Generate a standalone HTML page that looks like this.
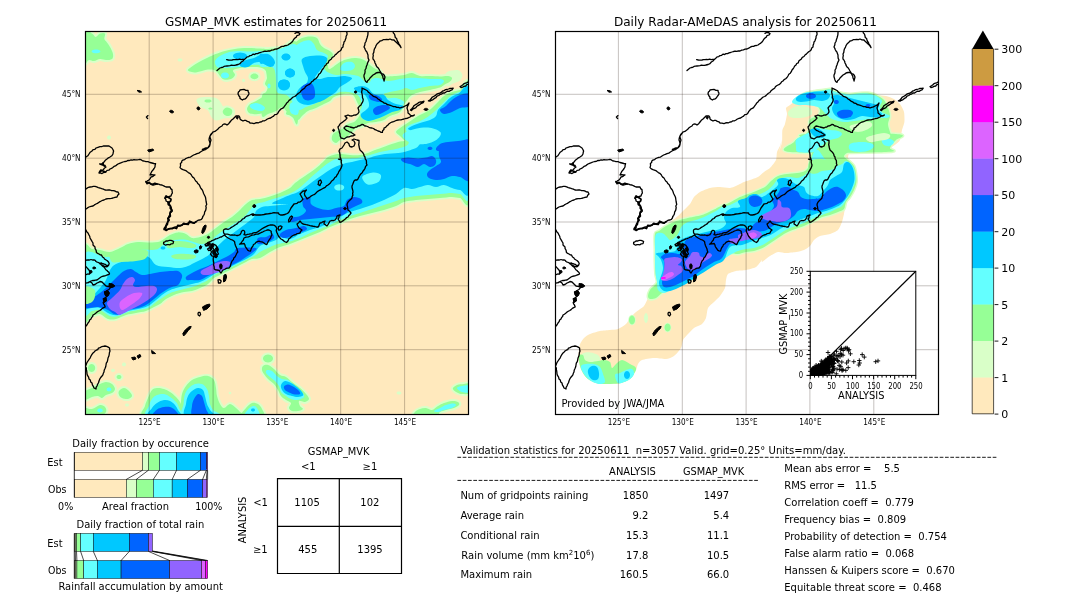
<!DOCTYPE html>
<html lang="en"><head><meta charset="utf-8"><title>GSMAP_MVK validation 20250611</title>
<style>html,body{margin:0;padding:0;background:#fff}svg{display:block}text{font-family:'DejaVu Sans','Liberation Sans',sans-serif;fill:#000;white-space:pre}</style>
</head><body>
<svg width="1080" height="612" viewBox="0 0 1080 612">
<rect width="1080" height="612" fill="#fff"/>
<svg x="85.5" y="31.5" width="383" height="383" viewBox="85.5 31.5 383 383">
<rect x="85" y="31" width="384" height="384" fill="#ffe9bd"/>
<path d="M84,31C85.3,26.2 90.1,32.6 92,33.6C93.9,34.6 94.3,37 95.6,37C96.9,37 98.4,34.2 100,33.6C101.6,33 104.3,32.7 105,33.6C105.7,34.5 104.1,37.5 104.4,39C104.7,40.5 106.1,41.1 107,42.4C107.9,43.7 109,45.1 110,47C111,48.9 112.7,52 113,54C113.3,56 113.2,58 112,59C110.8,60 108,60 106,60C104,60 102,58.8 100,59C98,59.2 95.8,60.8 94,61C92.2,61.2 90.7,59.8 89,60C87.3,60.2 84.8,67.2 84,62.4C83.2,57.6 82.7,35.8 84,31Z" fill="#d9ffc8" stroke="#d9ffc8" stroke-width="4" stroke-linejoin="round"/>
<path d="M188,70.4C187.3,69.4 190,67.9 192,66.4C194,64.9 197,63.1 200,61.4C203,59.7 206.7,57.9 210,56.4C213.3,54.9 216.3,53.5 220,52.4C223.7,51.3 228,50.3 232,49.6C236,48.9 239.3,48.2 244,48C248.7,47.8 255.3,48.3 260,48.6C264.7,48.9 268.3,50.1 272,50C275.7,49.9 277.7,48.7 282,48C286.3,47.3 295.3,34 298,46C300.7,58 299,108.3 298,120C297,131.7 294,117 292,116C290,115 286.7,115.3 286,114C285.3,112.7 288.7,109.8 288,108C287.3,106.2 283.8,103.5 282,103C280.2,102.5 278.7,104.2 277,105C275.3,105.8 273.8,106.8 272,108C270.2,109.2 268.3,111 266,112C263.7,113 260.7,113.7 258,114C255.3,114.3 251.8,114.4 250,113.6C248.2,112.8 247,110.6 247,109C247,107.4 248.5,105.3 250,104C251.5,102.7 254.2,102 256,101C257.8,100 259.2,99.2 261,98C262.8,96.8 265.8,95.7 267,94C268.2,92.3 268.3,89.7 268,88C267.7,86.3 265.2,85.7 265,84C264.8,82.3 266.8,80.2 267,78C267.2,75.8 267.2,72.7 266,71C264.8,69.3 262.7,68.3 260,67.6C257.3,66.9 253.3,66.9 250,67C246.7,67.1 242.8,67.4 240,68C237.2,68.6 233.8,69.2 233,70.4C232.2,71.6 235.3,73.6 235,75C234.7,76.4 232.8,78.2 231,79C229.2,79.8 225.8,80.1 224,79.6C222.2,79.1 221.3,77.4 220,76C218.7,74.6 218,72.1 216,71C214,69.9 211.3,69.4 208,69.6C204.7,69.8 199.3,72.3 196,72.4C192.7,72.5 188.7,71.4 188,70.4Z" fill="#d9ffc8" stroke="#d9ffc8" stroke-width="4" stroke-linejoin="round"/>
<path d="M258.4,76.4C258.4,76.9 258.2,77.4 257.9,77.8C257.5,78.2 257,78.6 256.4,78.8C255.8,79.1 255.1,79.2 254.4,79.2C253.7,79.2 253,79.1 252.4,78.8C251.8,78.6 251.3,78.2 250.9,77.8C250.6,77.4 250.4,76.9 250.4,76.4C250.4,75.9 250.6,75.4 250.9,75C251.3,74.6 251.8,74.2 252.4,74C253,73.7 253.7,73.6 254.4,73.6C255.1,73.6 255.8,73.7 256.4,74C257,74.2 257.5,74.6 257.9,75C258.2,75.4 258.4,75.9 258.4,76.4Z" fill="#d9ffc8" stroke="#d9ffc8" stroke-width="4" stroke-linejoin="round"/>
<path d="M223,110.4C223.6,109.3 225.5,107.7 227,107.6C228.5,107.5 231.3,108.9 232,110C232.7,111.1 232.2,113.4 231.4,114.4C230.6,115.4 228.3,116.1 227,116C225.7,115.9 224.3,114.9 223.6,114C222.9,113.1 222.4,111.5 223,110.4Z" fill="#d9ffc8" stroke="#d9ffc8" stroke-width="4" stroke-linejoin="round"/>
<path d="M268,49C270.7,48.7 274.3,48.3 278,48C281.7,47.7 287,48 290,47C293,46 294,43.5 296,42C298,40.5 299.7,38.9 302,38C304.3,37.1 307.5,36.4 310,36.4C312.5,36.4 315.3,36.7 317,38C318.7,39.3 318.8,42.3 320,44C321.2,45.7 322.3,46.8 324,48C325.7,49.2 328.5,49.8 330,51C331.5,52.2 333.2,53.5 333,55C332.8,56.5 329.8,58.2 329,60C328.2,61.8 327.8,64.5 328,66C328.2,67.5 328,69.7 330,69C332,68.3 337,63.7 340,62C343,60.3 345.3,59.7 348,59C350.7,58.3 353.3,57.8 356,58C358.7,58.2 361.7,58.8 364,60C366.3,61.2 368.3,63.7 370,65C371.7,66.3 372.3,67 374,68C375.7,69 378.3,69.7 380,71C381.7,72.3 381.3,75.2 384,76C386.7,76.8 392.7,76.2 396,76C399.3,75.8 401.3,75.5 404,75C406.7,74.5 409.3,72.8 412,73C414.7,73.2 417,75.5 420,76C423,76.5 426.7,75.9 430,76C433.3,76.1 437,76.4 440,76.4C443,76.4 446,75.7 448,76C450,76.3 451.7,77.1 452,78C452.3,78.9 451.3,80.4 450,81.6C448.7,82.8 445.7,84 444,85C442.3,86 442.3,86.8 440,87.6C437.7,88.4 433.3,89.3 430,90C426.7,90.7 423,91.2 420,92C417,92.8 414,93.8 412,95C410,96.2 409.3,97.3 408,99C406.7,100.7 405.3,102.8 404,105C402.7,107.2 402.3,110.2 400,112C397.7,113.8 392.7,114.7 390,116C387.3,117.3 386.3,119 384,120C381.7,121 378.7,121.5 376,122C373.3,122.5 370.3,122.3 368,123C365.7,123.7 364,125.2 362,126C360,126.8 357.7,127 356,128C354.3,129 353.3,130.7 352,132C350.7,133.3 350,134.7 348,136C346,137.3 342,138.8 340,140C338,141.2 337.3,143 336,143C334.7,143 332.5,141.5 332,140C331.5,138.5 331.7,135.7 333,134C334.3,132.3 338.2,131 340,130C341.8,129 342.7,129 344,128C345.3,127 346.3,125 348,124C349.7,123 352.3,123 354,122C355.7,121 357,119.3 358,118C359,116.7 359.7,115.7 360,114C360.3,112.3 360.3,109.7 360,108C359.7,106.3 359,106 358,104C357,102 355.3,97.7 354,96C352.7,94.3 351.7,94.3 350,94C348.3,93.7 346.7,93.5 344,94C341.3,94.5 336.3,95.8 334,97C331.7,98.2 332,99.7 330,101C328,102.3 324.3,103.8 322,105C319.7,106.2 318.3,107 316,108C313.7,109 310.3,109.7 308,111C305.7,112.3 303.7,114.5 302,116C300.3,117.5 299.7,119.8 298,120C296.3,120.2 293.8,118.3 292,117C290.2,115.7 288.7,113.7 287,112C285.3,110.3 283.8,107.2 282,107C280.2,106.8 278.3,109.8 276,111C273.7,112.2 270.3,113.2 268,114C265.7,114.8 263,119 262,116C261,113 261.3,100 262,96C262.7,92 265,93.7 266,92C267,90.3 267.8,88.3 268,86C268.2,83.7 267.3,80.5 267,78C266.7,75.5 266.5,72.8 266,71C265.5,69.2 264.7,68.2 264,67C263.3,65.8 262.3,66.8 262,64C261.7,61.2 261,52.5 262,50C263,47.5 265.3,49.3 268,49Z" fill="#d9ffc8" stroke="#d9ffc8" stroke-width="4" stroke-linejoin="round"/>
<path d="M84,249.6C85.3,238.1 89.3,248.9 92,249C94.7,249.1 97,249.5 100,250C103,250.5 106.7,252.3 110,252C113.3,251.7 117,249.3 120,248C123,246.7 125,245 128,244C131,243 134.7,242.3 138,242C141.3,241.7 144.7,242.4 148,242.4C151.3,242.4 155.3,242.6 158,242C160.7,241.4 162,240.2 164,239C166,237.8 167.7,236.1 170,235C172.3,233.9 175.3,232.6 178,232.4C180.7,232.2 183.7,233.1 186,234C188.3,234.9 189.7,237.5 192,238C194.3,238.5 197.3,237.7 200,237C202.7,236.3 205.3,235.5 208,234C210.7,232.5 213.3,230 216,228C218.7,226 221.3,223.8 224,222C226.7,220.2 229.3,219 232,217C234.7,215 237.7,212.2 240,210C242.3,207.8 244,205.7 246,204C248,202.3 249.7,200.8 252,200C254.3,199.2 257,199.6 260,199C263,198.4 266.7,197.4 270,196.4C273.3,195.4 276.7,194.4 280,193C283.3,191.6 287.5,189.7 290,188C292.5,186.3 292.5,185 295,183C297.5,181 301.7,178.3 305,176C308.3,173.7 312,171.3 315,169C318,166.7 320.8,164 323,162C325.2,160 326,158.3 328,157C330,155.7 332.7,154.9 335,154.4C337.3,153.9 339.5,153.9 342,154C344.5,154.1 347,154.8 350,155C353,155.2 357,155.3 360,155C363,154.7 365.5,153.8 368,153C370.5,152.2 372.2,151.1 375,150C377.8,148.9 381.2,147.7 385,146.4C388.8,145.1 394.8,142.9 398,142C401.2,141.1 403,141.3 404,141C405,140.7 404.7,140.8 404,140C403.3,139.2 401.3,137.3 400,136C398.7,134.7 396,133.3 396,132C396,130.7 398.3,129.3 400,128C401.7,126.7 404,125.3 406,124C408,122.7 410,121.3 412,120C414,118.7 415.7,117.3 418,116C420.3,114.7 423.7,113.3 426,112C428.3,110.7 430,109.7 432,108C434,106.3 436,104 438,102C440,100 441.7,97.7 444,96C446.3,94.3 449.3,93 452,92C454.7,91 457,90.7 460,90C463,89.3 468.3,70.2 470,88C471.7,105.8 471.7,178.7 470,197C468.3,215.3 463,198 460,198C457,198 455.3,197 452,197C448.7,197 444,197.7 440,198C436,198.3 432,198.7 428,199C424,199.3 420,199.5 416,200C412,200.5 407.3,201 404,202C400.7,203 399.3,204.7 396,206C392.7,207.3 388,208.8 384,210C380,211.2 376,212 372,213C368,214 363.7,215 360,216C356.3,217 353.3,217.8 350,219C346.7,220.2 343.3,221.7 340,223C336.7,224.3 333.3,225.5 330,227C326.7,228.5 323.3,230.5 320,232C316.7,233.5 313.3,234.7 310,236C306.7,237.3 303.3,238.7 300,240C296.7,241.3 293.3,242.8 290,244C286.7,245.2 283.3,245.7 280,247C276.7,248.3 273.3,250.2 270,252C266.7,253.8 263,256.8 260,258C257,259.2 254.7,258.2 252,259C249.3,259.8 246.7,261.7 244,263C241.3,264.3 238.7,265.7 236,267C233.3,268.3 230.7,269.7 228,271C225.3,272.3 222.3,273.8 220,275C217.7,276.2 216,276.5 214,278C212,279.5 210.3,282.3 208,284C205.7,285.7 202.7,286.8 200,288C197.3,289.2 194.7,290.3 192,291C189.3,291.7 187,291.3 184,292C181,292.7 177,293.8 174,295C171,296.2 168.3,297.5 166,299C163.7,300.5 162,302.7 160,304C158,305.3 156.3,305.8 154,307C151.7,308.2 149,310 146,311C143,312 139.3,312.3 136,313C132.7,313.7 129.3,314 126,315C122.7,316 119,318.3 116,319C113,319.7 110.7,319.8 108,319C105.3,318.2 102.7,314.5 100,314C97.3,313.5 94.7,315.3 92,316C89.3,316.7 85.3,329.1 84,318C82.7,306.9 82.7,261.1 84,249.6Z" fill="#d9ffc8" stroke="#d9ffc8" stroke-width="3.5" stroke-linejoin="round"/>
<path d="M95.2,368C95.2,368.7 95,369.4 94.7,370C94.4,370.6 94,371.1 93.4,371.5C92.8,371.8 92.3,372 91.6,372C90.9,372 90.4,371.8 89.8,371.5C89.2,371.1 88.8,370.6 88.5,370C88.2,369.4 88,368.7 88,368C88,367.3 88.2,366.6 88.5,366C88.8,365.4 89.2,364.9 89.8,364.5C90.4,364.2 90.9,364 91.6,364C92.3,364 92.8,364.2 93.4,364.5C94,364.9 94.4,365.4 94.7,366C95,366.6 95.2,367.3 95.2,368Z" fill="#d9ffc8" stroke="#d9ffc8" stroke-width="4" stroke-linejoin="round"/>
<path d="M121.4,377C121.4,377.4 121.3,377.7 121.1,378C120.9,378.3 120.6,378.5 120.2,378.7C119.8,378.9 119.4,379 119,379C118.6,379 118.2,378.9 117.8,378.7C117.4,378.5 117.1,378.3 116.9,378C116.7,377.7 116.6,377.4 116.6,377C116.6,376.6 116.7,376.3 116.9,376C117.1,375.7 117.4,375.5 117.8,375.3C118.2,375.1 118.6,375 119,375C119.4,375 119.8,375.1 120.2,375.3C120.6,375.5 120.9,375.7 121.1,376C121.3,376.3 121.4,376.6 121.4,377Z" fill="#d9ffc8" stroke="#d9ffc8" stroke-width="4" stroke-linejoin="round"/>
<path d="M84,392C85.3,390 89.3,389.3 92,388C94.7,386.7 97.7,385 100,384C102.3,383 104,382 106,382C108,382 110.5,382.8 112,384C113.5,385.2 115,387.5 115,389C115,390.5 113.5,392 112,393C110.5,394 107.7,394.2 106,395C104.3,395.8 103.3,397.8 102,398C100.7,398.2 99.7,396.2 98,396C96.3,395.8 94.3,396.3 92,397C89.7,397.7 85.3,400.8 84,400C82.7,399.2 82.7,394 84,392Z" fill="#d9ffc8" stroke="#d9ffc8" stroke-width="4" stroke-linejoin="round"/>
<path d="M119,391C119.8,389.8 122.3,388 124,388C125.7,388 127.7,389.7 129,391C130.3,392.3 132.2,394.7 132,396C131.8,397.3 129.7,398.7 128,399C126.3,399.3 123.5,398.7 122,398C120.5,397.3 119.5,396.2 119,395C118.5,393.8 118.2,392.2 119,391Z" fill="#d9ffc8" stroke="#d9ffc8" stroke-width="4" stroke-linejoin="round"/>
<path d="M84,408C85.3,406.8 89.3,409.5 92,409C94.7,408.5 97.8,405.3 100,405C102.2,404.7 104,405.8 105,407C106,408.2 106.8,410.5 106,412C105.2,413.5 103.7,415.3 100,416C96.3,416.7 86.7,417.3 84,416C81.3,414.7 82.7,409.2 84,408Z" fill="#d9ffc8" stroke="#d9ffc8" stroke-width="4" stroke-linejoin="round"/>
<path d="M144,416C137.7,414.3 144.3,409 145,406C145.7,403 146.8,400.7 148,398C149.2,395.3 150.5,391.7 152,390C153.5,388.3 155,388.2 157,388C159,387.8 161.8,388.3 164,389C166.2,389.7 168,390.7 170,392C172,393.3 174.3,395.3 176,397C177.7,398.7 179,400.2 180,402C181,403.8 181.5,405.7 182,408C182.5,410.3 189.3,414.7 183,416C176.7,417.3 150.3,417.7 144,416Z" fill="#d9ffc8" stroke="#d9ffc8" stroke-width="4" stroke-linejoin="round"/>
<path d="M182,416C171.8,414 181,407.7 181,404C181,400.3 181.2,397 182,394C182.8,391 184.3,388.3 186,386C187.7,383.7 189.7,381.5 192,380C194.3,378.5 197.3,377.7 200,377C202.7,376.3 205.7,375.5 208,376C210.3,376.5 212.7,378 214,380C215.3,382 215.5,385.3 216,388C216.5,390.7 216.3,393.3 217,396C217.7,398.7 218.8,402 220,404C221.2,406 222.3,408 224,408C225.7,408 228,404 230,404C232,404 234.3,406.7 236,408C237.7,409.3 239,410.7 240,412C241,413.3 251.7,415.3 242,416C232.3,416.7 192.2,418 182,416Z" fill="#d9ffc8" stroke="#d9ffc8" stroke-width="4" stroke-linejoin="round"/>
<path d="M242,416C239.2,414.7 244.3,410.2 246,408C247.7,405.8 250,403.7 252,403C254,402.3 256.3,403 258,404C259.7,405 261.2,407 262,409C262.8,411 266.3,414.8 263,416C259.7,417.2 244.8,417.3 242,416Z" fill="#d9ffc8" stroke="#d9ffc8" stroke-width="4" stroke-linejoin="round"/>
<path d="M273,358.6C273,359.3 272.8,360 272.3,360.6C271.9,361.2 271.3,361.7 270.5,362.1C269.7,362.4 268.9,362.6 268,362.6C267.1,362.6 266.3,362.4 265.5,362.1C264.7,361.7 264.1,361.2 263.7,360.6C263.2,360 263,359.3 263,358.6C263,357.9 263.2,357.2 263.7,356.6C264.1,356 264.7,355.5 265.5,355.1C266.3,354.8 267.1,354.6 268,354.6C268.9,354.6 269.7,354.8 270.5,355.1C271.3,355.5 271.9,356 272.3,356.6C272.8,357.2 273,357.9 273,358.6Z" fill="#d9ffc8" stroke="#d9ffc8" stroke-width="4" stroke-linejoin="round"/>
<path d="M263,366C264,365.2 266.2,364.5 268,365C269.8,365.5 272,367.3 274,369C276,370.7 278,373.7 280,375C282,376.3 284,375.8 286,377C288,378.2 289.7,380.2 292,382C294.3,383.8 297.7,386 300,388C302.3,390 304.5,392.2 306,394C307.5,395.8 309.2,397.7 309,399C308.8,400.3 306.7,401.7 305,402C303.3,402.3 299.8,400.3 299,401C298.2,401.7 299.3,404.7 300,406C300.7,407.3 303.3,408.2 303,409C302.7,409.8 299.8,410.7 298,411C296.2,411.3 293.5,411.5 292,411C290.5,410.5 289.2,409.3 289,408C288.8,406.7 291.5,404.3 291,403C290.5,401.7 287.7,401.2 286,400C284.3,398.8 282.3,397.7 281,396C279.7,394.3 279.2,392 278,390C276.8,388 275.7,385.8 274,384C272.3,382.2 269.7,380.7 268,379C266.3,377.3 265,375.5 264,374C263,372.5 262.2,371.3 262,370C261.8,368.7 262,366.8 263,366Z" fill="#d9ffc8" stroke="#d9ffc8" stroke-width="4" stroke-linejoin="round"/>
<path d="M453,388C453.5,387.1 455.2,385.7 457,385C458.8,384.3 461.8,384.2 464,384C466.2,383.8 469,382.5 470,384C471,385.5 471.3,391.3 470,393C468.7,394.7 464.2,394.1 462,394C459.8,393.9 458.3,393 457,392.4C455.7,391.8 454.7,391.1 454,390.4C453.3,389.7 452.5,388.9 453,388Z" fill="#d9ffc8" stroke="#d9ffc8" stroke-width="4" stroke-linejoin="round"/>
<path d="M415,412C415.8,410.8 418.2,409.7 420,409C421.8,408.3 424,407.8 426,408C428,408.2 430,410.3 432,410C434,409.7 436,407.2 438,406C440,404.8 441.7,403.8 444,403C446.3,402.2 449.7,401.2 452,401C454.3,400.8 456.8,401.3 458,402C459.2,402.7 459.7,404 459,405C458.3,406 456.2,407.2 454,408C451.8,408.8 448.3,409.3 446,410C443.7,410.7 441.7,411 440,412C438.3,413 440.2,415.3 436,416C431.8,416.7 418.5,416.7 415,416C411.5,415.3 414.2,413.2 415,412Z" fill="#d9ffc8" stroke="#d9ffc8" stroke-width="4" stroke-linejoin="round"/>
<path d="M182.4,60C182.4,60.3 182.3,60.5 182.1,60.8C181.9,61.1 181.6,61.2 181.2,61.4C180.8,61.5 180.4,61.6 180,61.6C179.6,61.6 179.2,61.5 178.8,61.4C178.4,61.2 178.1,61.1 177.9,60.8C177.7,60.5 177.6,60.3 177.6,60C177.6,59.7 177.7,59.5 177.9,59.2C178.1,58.9 178.4,58.8 178.8,58.6C179.2,58.5 179.6,58.4 180,58.4C180.4,58.4 180.8,58.5 181.2,58.6C181.6,58.8 181.9,58.9 182.1,59.2C182.3,59.5 182.4,59.7 182.4,60Z" fill="#d9ffc8"/>
<path d="M111,137.6C111,138 110.9,138.3 110.7,138.6C110.5,138.9 110.3,139.1 110,139.3C109.7,139.5 109.4,139.6 109,139.6C108.6,139.6 108.3,139.5 108,139.3C107.7,139.1 107.5,138.9 107.3,138.6C107.1,138.3 107,138 107,137.6C107,137.2 107.1,136.9 107.3,136.6C107.5,136.3 107.7,136.1 108,135.9C108.3,135.7 108.6,135.6 109,135.6C109.4,135.6 109.7,135.7 110,135.9C110.3,136.1 110.5,136.3 110.7,136.6C110.9,136.9 111,137.2 111,137.6Z" fill="#d9ffc8"/>
<path d="M245.2,80.4C245.2,80.7 245.1,80.9 245,81.2C244.8,81.5 244.7,81.6 244.4,81.8C244.1,81.9 243.9,82 243.6,82C243.3,82 243.1,81.9 242.8,81.8C242.5,81.6 242.4,81.5 242.2,81.2C242.1,80.9 242,80.7 242,80.4C242,80.1 242.1,79.9 242.2,79.6C242.4,79.3 242.5,79.2 242.8,79C243.1,78.9 243.3,78.8 243.6,78.8C243.9,78.8 244.1,78.9 244.4,79C244.7,79.2 244.8,79.3 245,79.6C245.1,79.9 245.2,80.1 245.2,80.4Z" fill="#d9ffc8"/>
<path d="M196.6,99.6C197.3,98 200.8,97.3 204,97C207.2,96.7 213.2,97 216,98C218.8,99 219.7,101.5 221,103C222.3,104.5 222,106.2 224,107C226,107.8 231.2,107 233,108C234.8,109 235.2,111.4 235,113C234.8,114.6 233.8,116.7 232,117.6C230.2,118.5 226.7,117.9 224,118.4C221.3,118.9 218.2,120.7 216,120.4C213.8,120.1 212.3,118.1 211,116.4C209.7,114.7 209.8,112.1 208,110.4C206.2,108.7 201.9,108.2 200,106.4C198.1,104.6 195.9,101.2 196.6,99.6Z" fill="#d9ffc8"/>
<path d="M446,73C447.3,71.1 449.8,70.8 452,70.4C454.2,70 457.3,69.6 459,70.4C460.7,71.2 462.2,73.3 462.4,75C462.6,76.7 461.6,79 460,80.4C458.4,81.8 455,82.6 453,83.6C451,84.6 449.5,86.7 448,86.4C446.5,86.1 444.3,84.2 444,82C443.7,79.8 444.7,74.9 446,73Z" fill="#d9ffc8"/>
<path d="M126,364.4C126,364.8 125.9,365.1 125.7,365.4C125.5,365.7 125.3,365.9 125,366.1C124.7,366.3 124.4,366.4 124,366.4C123.6,366.4 123.3,366.3 123,366.1C122.7,365.9 122.5,365.7 122.3,365.4C122.1,365.1 122,364.8 122,364.4C122,364 122.1,363.7 122.3,363.4C122.5,363.1 122.7,362.9 123,362.7C123.3,362.5 123.6,362.4 124,362.4C124.4,362.4 124.7,362.5 125,362.7C125.3,362.9 125.5,363.1 125.7,363.4C125.9,363.7 126,364 126,364.4Z" fill="#d9ffc8"/>
<path d="M115,370.4C115,370.7 114.9,370.9 114.7,371.2C114.5,371.5 114.3,371.6 114,371.8C113.7,371.9 113.4,372 113,372C112.6,372 112.3,371.9 112,371.8C111.7,371.6 111.5,371.5 111.3,371.2C111.1,370.9 111,370.7 111,370.4C111,370.1 111.1,369.9 111.3,369.6C111.5,369.3 111.7,369.2 112,369C112.3,368.9 112.6,368.8 113,368.8C113.4,368.8 113.7,368.9 114,369C114.3,369.2 114.5,369.3 114.7,369.6C114.9,369.9 115,370.1 115,370.4Z" fill="#d9ffc8"/>
<path d="M129,405C129,405.3 128.9,405.5 128.7,405.8C128.5,406.1 128.3,406.2 128,406.4C127.7,406.5 127.4,406.6 127,406.6C126.6,406.6 126.3,406.5 126,406.4C125.7,406.2 125.5,406.1 125.3,405.8C125.1,405.5 125,405.3 125,405C125,404.7 125.1,404.5 125.3,404.2C125.5,403.9 125.7,403.8 126,403.6C126.3,403.5 126.6,403.4 127,403.4C127.4,403.4 127.7,403.5 128,403.6C128.3,403.8 128.5,403.9 128.7,404.2C128.9,404.5 129,404.7 129,405Z" fill="#d9ffc8"/>
<path d="M231.4,393C231.4,393.2 231.3,393.4 231.2,393.6C231.1,393.8 230.9,393.9 230.7,394C230.5,394.1 230.3,394.2 230,394.2C229.7,394.2 229.5,394.1 229.3,394C229.1,393.9 228.9,393.8 228.8,393.6C228.7,393.4 228.6,393.2 228.6,393C228.6,392.8 228.7,392.6 228.8,392.4C228.9,392.2 229.1,392.1 229.3,392C229.5,391.9 229.7,391.8 230,391.8C230.3,391.8 230.5,391.9 230.7,392C230.9,392.1 231.1,392.2 231.2,392.4C231.3,392.6 231.4,392.8 231.4,393Z" fill="#d9ffc8"/>
<path d="M401.4,393C401.4,393.3 401.3,393.5 401.1,393.8C400.9,394.1 400.6,394.2 400.2,394.4C399.8,394.5 399.4,394.6 399,394.6C398.6,394.6 398.2,394.5 397.8,394.4C397.4,394.2 397.1,394.1 396.9,393.8C396.7,393.5 396.6,393.3 396.6,393C396.6,392.7 396.7,392.5 396.9,392.2C397.1,391.9 397.4,391.8 397.8,391.6C398.2,391.5 398.6,391.4 399,391.4C399.4,391.4 399.8,391.5 400.2,391.6C400.6,391.8 400.9,391.9 401.1,392.2C401.3,392.5 401.4,392.7 401.4,393Z" fill="#d9ffc8"/>
<path d="M84,31C85.3,26.2 90.1,32.6 92,33.6C93.9,34.6 94.3,37 95.6,37C96.9,37 98.4,34.2 100,33.6C101.6,33 104.3,32.7 105,33.6C105.7,34.5 104.1,37.5 104.4,39C104.7,40.5 106.1,41.1 107,42.4C107.9,43.7 109,45.1 110,47C111,48.9 112.7,52 113,54C113.3,56 113.2,58 112,59C110.8,60 108,60 106,60C104,60 102,58.8 100,59C98,59.2 95.8,60.8 94,61C92.2,61.2 90.7,59.8 89,60C87.3,60.2 84.8,67.2 84,62.4C83.2,57.6 82.7,35.8 84,31Z" fill="#96ff96"/>
<path d="M188,70.4C187.3,69.4 190,67.9 192,66.4C194,64.9 197,63.1 200,61.4C203,59.7 206.7,57.9 210,56.4C213.3,54.9 216.3,53.5 220,52.4C223.7,51.3 228,50.3 232,49.6C236,48.9 239.3,48.2 244,48C248.7,47.8 255.3,48.3 260,48.6C264.7,48.9 268.3,50.1 272,50C275.7,49.9 277.7,48.7 282,48C286.3,47.3 295.3,34 298,46C300.7,58 299,108.3 298,120C297,131.7 294,117 292,116C290,115 286.7,115.3 286,114C285.3,112.7 288.7,109.8 288,108C287.3,106.2 283.8,103.5 282,103C280.2,102.5 278.7,104.2 277,105C275.3,105.8 273.8,106.8 272,108C270.2,109.2 268.3,111 266,112C263.7,113 260.7,113.7 258,114C255.3,114.3 251.8,114.4 250,113.6C248.2,112.8 247,110.6 247,109C247,107.4 248.5,105.3 250,104C251.5,102.7 254.2,102 256,101C257.8,100 259.2,99.2 261,98C262.8,96.8 265.8,95.7 267,94C268.2,92.3 268.3,89.7 268,88C267.7,86.3 265.2,85.7 265,84C264.8,82.3 266.8,80.2 267,78C267.2,75.8 267.2,72.7 266,71C264.8,69.3 262.7,68.3 260,67.6C257.3,66.9 253.3,66.9 250,67C246.7,67.1 242.8,67.4 240,68C237.2,68.6 233.8,69.2 233,70.4C232.2,71.6 235.3,73.6 235,75C234.7,76.4 232.8,78.2 231,79C229.2,79.8 225.8,80.1 224,79.6C222.2,79.1 221.3,77.4 220,76C218.7,74.6 218,72.1 216,71C214,69.9 211.3,69.4 208,69.6C204.7,69.8 199.3,72.3 196,72.4C192.7,72.5 188.7,71.4 188,70.4Z" fill="#96ff96"/>
<path d="M258.4,76.4C258.4,76.9 258.2,77.4 257.9,77.8C257.5,78.2 257,78.6 256.4,78.8C255.8,79.1 255.1,79.2 254.4,79.2C253.7,79.2 253,79.1 252.4,78.8C251.8,78.6 251.3,78.2 250.9,77.8C250.6,77.4 250.4,76.9 250.4,76.4C250.4,75.9 250.6,75.4 250.9,75C251.3,74.6 251.8,74.2 252.4,74C253,73.7 253.7,73.6 254.4,73.6C255.1,73.6 255.8,73.7 256.4,74C257,74.2 257.5,74.6 257.9,75C258.2,75.4 258.4,75.9 258.4,76.4Z" fill="#96ff96"/>
<path d="M223,110.4C223.6,109.3 225.5,107.7 227,107.6C228.5,107.5 231.3,108.9 232,110C232.7,111.1 232.2,113.4 231.4,114.4C230.6,115.4 228.3,116.1 227,116C225.7,115.9 224.3,114.9 223.6,114C222.9,113.1 222.4,111.5 223,110.4Z" fill="#96ff96"/>
<path d="M211.6,101C211.6,101.3 211.4,101.5 211.1,101.8C210.8,102.1 210.4,102.2 209.8,102.4C209.2,102.5 208.7,102.6 208,102.6C207.3,102.6 206.8,102.5 206.2,102.4C205.6,102.2 205.2,102.1 204.9,101.8C204.6,101.5 204.4,101.3 204.4,101C204.4,100.7 204.6,100.5 204.9,100.2C205.2,99.9 205.6,99.8 206.2,99.6C206.8,99.5 207.3,99.4 208,99.4C208.7,99.4 209.2,99.5 209.8,99.6C210.4,99.8 210.8,99.9 211.1,100.2C211.4,100.5 211.6,100.7 211.6,101Z" fill="#96ff96"/>
<path d="M212.4,108.6C212.4,108.8 212.3,108.9 212.1,109.1C211.9,109.3 211.7,109.4 211.4,109.5C211.1,109.6 210.8,109.6 210.4,109.6C210,109.6 209.7,109.6 209.4,109.5C209.1,109.4 208.9,109.3 208.7,109.1C208.5,108.9 208.4,108.8 208.4,108.6C208.4,108.4 208.5,108.3 208.7,108.1C208.9,107.9 209.1,107.8 209.4,107.7C209.7,107.6 210,107.6 210.4,107.6C210.8,107.6 211.1,107.6 211.4,107.7C211.7,107.8 211.9,107.9 212.1,108.1C212.3,108.3 212.4,108.4 212.4,108.6Z" fill="#96ff96"/>
<path d="M268,49C270.7,48.7 274.3,48.3 278,48C281.7,47.7 287,48 290,47C293,46 294,43.5 296,42C298,40.5 299.7,38.9 302,38C304.3,37.1 307.5,36.4 310,36.4C312.5,36.4 315.3,36.7 317,38C318.7,39.3 318.8,42.3 320,44C321.2,45.7 322.3,46.8 324,48C325.7,49.2 328.5,49.8 330,51C331.5,52.2 333.2,53.5 333,55C332.8,56.5 329.8,58.2 329,60C328.2,61.8 327.8,64.5 328,66C328.2,67.5 328,69.7 330,69C332,68.3 337,63.7 340,62C343,60.3 345.3,59.7 348,59C350.7,58.3 353.3,57.8 356,58C358.7,58.2 361.7,58.8 364,60C366.3,61.2 368.3,63.7 370,65C371.7,66.3 372.3,67 374,68C375.7,69 378.3,69.7 380,71C381.7,72.3 381.3,75.2 384,76C386.7,76.8 392.7,76.2 396,76C399.3,75.8 401.3,75.5 404,75C406.7,74.5 409.3,72.8 412,73C414.7,73.2 417,75.5 420,76C423,76.5 426.7,75.9 430,76C433.3,76.1 437,76.4 440,76.4C443,76.4 446,75.7 448,76C450,76.3 451.7,77.1 452,78C452.3,78.9 451.3,80.4 450,81.6C448.7,82.8 445.7,84 444,85C442.3,86 442.3,86.8 440,87.6C437.7,88.4 433.3,89.3 430,90C426.7,90.7 423,91.2 420,92C417,92.8 414,93.8 412,95C410,96.2 409.3,97.3 408,99C406.7,100.7 405.3,102.8 404,105C402.7,107.2 402.3,110.2 400,112C397.7,113.8 392.7,114.7 390,116C387.3,117.3 386.3,119 384,120C381.7,121 378.7,121.5 376,122C373.3,122.5 370.3,122.3 368,123C365.7,123.7 364,125.2 362,126C360,126.8 357.7,127 356,128C354.3,129 353.3,130.7 352,132C350.7,133.3 350,134.7 348,136C346,137.3 342,138.8 340,140C338,141.2 337.3,143 336,143C334.7,143 332.5,141.5 332,140C331.5,138.5 331.7,135.7 333,134C334.3,132.3 338.2,131 340,130C341.8,129 342.7,129 344,128C345.3,127 346.3,125 348,124C349.7,123 352.3,123 354,122C355.7,121 357,119.3 358,118C359,116.7 359.7,115.7 360,114C360.3,112.3 360.3,109.7 360,108C359.7,106.3 359,106 358,104C357,102 355.3,97.7 354,96C352.7,94.3 351.7,94.3 350,94C348.3,93.7 346.7,93.5 344,94C341.3,94.5 336.3,95.8 334,97C331.7,98.2 332,99.7 330,101C328,102.3 324.3,103.8 322,105C319.7,106.2 318.3,107 316,108C313.7,109 310.3,109.7 308,111C305.7,112.3 303.7,114.5 302,116C300.3,117.5 299.7,119.8 298,120C296.3,120.2 293.8,118.3 292,117C290.2,115.7 288.7,113.7 287,112C285.3,110.3 283.8,107.2 282,107C280.2,106.8 278.3,109.8 276,111C273.7,112.2 270.3,113.2 268,114C265.7,114.8 263,119 262,116C261,113 261.3,100 262,96C262.7,92 265,93.7 266,92C267,90.3 267.8,88.3 268,86C268.2,83.7 267.3,80.5 267,78C266.7,75.5 266.5,72.8 266,71C265.5,69.2 264.7,68.2 264,67C263.3,65.8 262.3,66.8 262,64C261.7,61.2 261,52.5 262,50C263,47.5 265.3,49.3 268,49Z" fill="#96ff96"/>
<path d="M84,249.6C85.3,238.1 89.3,248.9 92,249C94.7,249.1 97,249.5 100,250C103,250.5 106.7,252.3 110,252C113.3,251.7 117,249.3 120,248C123,246.7 125,245 128,244C131,243 134.7,242.3 138,242C141.3,241.7 144.7,242.4 148,242.4C151.3,242.4 155.3,242.6 158,242C160.7,241.4 162,240.2 164,239C166,237.8 167.7,236.1 170,235C172.3,233.9 175.3,232.6 178,232.4C180.7,232.2 183.7,233.1 186,234C188.3,234.9 189.7,237.5 192,238C194.3,238.5 197.3,237.7 200,237C202.7,236.3 205.3,235.5 208,234C210.7,232.5 213.3,230 216,228C218.7,226 221.3,223.8 224,222C226.7,220.2 229.3,219 232,217C234.7,215 237.7,212.2 240,210C242.3,207.8 244,205.7 246,204C248,202.3 249.7,200.8 252,200C254.3,199.2 257,199.6 260,199C263,198.4 266.7,197.4 270,196.4C273.3,195.4 276.7,194.4 280,193C283.3,191.6 287.5,189.7 290,188C292.5,186.3 292.5,185 295,183C297.5,181 301.7,178.3 305,176C308.3,173.7 312,171.3 315,169C318,166.7 320.8,164 323,162C325.2,160 326,158.3 328,157C330,155.7 332.7,154.9 335,154.4C337.3,153.9 339.5,153.9 342,154C344.5,154.1 347,154.8 350,155C353,155.2 357,155.3 360,155C363,154.7 365.5,153.8 368,153C370.5,152.2 372.2,151.1 375,150C377.8,148.9 381.2,147.7 385,146.4C388.8,145.1 394.8,142.9 398,142C401.2,141.1 403,141.3 404,141C405,140.7 404.7,140.8 404,140C403.3,139.2 401.3,137.3 400,136C398.7,134.7 396,133.3 396,132C396,130.7 398.3,129.3 400,128C401.7,126.7 404,125.3 406,124C408,122.7 410,121.3 412,120C414,118.7 415.7,117.3 418,116C420.3,114.7 423.7,113.3 426,112C428.3,110.7 430,109.7 432,108C434,106.3 436,104 438,102C440,100 441.7,97.7 444,96C446.3,94.3 449.3,93 452,92C454.7,91 457,90.7 460,90C463,89.3 468.3,70.2 470,88C471.7,105.8 471.7,178.7 470,197C468.3,215.3 463,198 460,198C457,198 455.3,197 452,197C448.7,197 444,197.7 440,198C436,198.3 432,198.7 428,199C424,199.3 420,199.5 416,200C412,200.5 407.3,201 404,202C400.7,203 399.3,204.7 396,206C392.7,207.3 388,208.8 384,210C380,211.2 376,212 372,213C368,214 363.7,215 360,216C356.3,217 353.3,217.8 350,219C346.7,220.2 343.3,221.7 340,223C336.7,224.3 333.3,225.5 330,227C326.7,228.5 323.3,230.5 320,232C316.7,233.5 313.3,234.7 310,236C306.7,237.3 303.3,238.7 300,240C296.7,241.3 293.3,242.8 290,244C286.7,245.2 283.3,245.7 280,247C276.7,248.3 273.3,250.2 270,252C266.7,253.8 263,256.8 260,258C257,259.2 254.7,258.2 252,259C249.3,259.8 246.7,261.7 244,263C241.3,264.3 238.7,265.7 236,267C233.3,268.3 230.7,269.7 228,271C225.3,272.3 222.3,273.8 220,275C217.7,276.2 216,276.5 214,278C212,279.5 210.3,282.3 208,284C205.7,285.7 202.7,286.8 200,288C197.3,289.2 194.7,290.3 192,291C189.3,291.7 187,291.3 184,292C181,292.7 177,293.8 174,295C171,296.2 168.3,297.5 166,299C163.7,300.5 162,302.7 160,304C158,305.3 156.3,305.8 154,307C151.7,308.2 149,310 146,311C143,312 139.3,312.3 136,313C132.7,313.7 129.3,314 126,315C122.7,316 119,318.3 116,319C113,319.7 110.7,319.8 108,319C105.3,318.2 102.7,314.5 100,314C97.3,313.5 94.7,315.3 92,316C89.3,316.7 85.3,329.1 84,318C82.7,306.9 82.7,261.1 84,249.6Z" fill="#96ff96"/>
<path d="M95.2,368C95.2,368.7 95,369.4 94.7,370C94.4,370.6 94,371.1 93.4,371.5C92.8,371.8 92.3,372 91.6,372C90.9,372 90.4,371.8 89.8,371.5C89.2,371.1 88.8,370.6 88.5,370C88.2,369.4 88,368.7 88,368C88,367.3 88.2,366.6 88.5,366C88.8,365.4 89.2,364.9 89.8,364.5C90.4,364.2 90.9,364 91.6,364C92.3,364 92.8,364.2 93.4,364.5C94,364.9 94.4,365.4 94.7,366C95,366.6 95.2,367.3 95.2,368Z" fill="#96ff96"/>
<path d="M121.4,377C121.4,377.4 121.3,377.7 121.1,378C120.9,378.3 120.6,378.5 120.2,378.7C119.8,378.9 119.4,379 119,379C118.6,379 118.2,378.9 117.8,378.7C117.4,378.5 117.1,378.3 116.9,378C116.7,377.7 116.6,377.4 116.6,377C116.6,376.6 116.7,376.3 116.9,376C117.1,375.7 117.4,375.5 117.8,375.3C118.2,375.1 118.6,375 119,375C119.4,375 119.8,375.1 120.2,375.3C120.6,375.5 120.9,375.7 121.1,376C121.3,376.3 121.4,376.6 121.4,377Z" fill="#96ff96"/>
<path d="M84,392C85.3,390 89.3,389.3 92,388C94.7,386.7 97.7,385 100,384C102.3,383 104,382 106,382C108,382 110.5,382.8 112,384C113.5,385.2 115,387.5 115,389C115,390.5 113.5,392 112,393C110.5,394 107.7,394.2 106,395C104.3,395.8 103.3,397.8 102,398C100.7,398.2 99.7,396.2 98,396C96.3,395.8 94.3,396.3 92,397C89.7,397.7 85.3,400.8 84,400C82.7,399.2 82.7,394 84,392Z" fill="#96ff96"/>
<path d="M119,391C119.8,389.8 122.3,388 124,388C125.7,388 127.7,389.7 129,391C130.3,392.3 132.2,394.7 132,396C131.8,397.3 129.7,398.7 128,399C126.3,399.3 123.5,398.7 122,398C120.5,397.3 119.5,396.2 119,395C118.5,393.8 118.2,392.2 119,391Z" fill="#96ff96"/>
<path d="M84,408C85.3,406.8 89.3,409.5 92,409C94.7,408.5 97.8,405.3 100,405C102.2,404.7 104,405.8 105,407C106,408.2 106.8,410.5 106,412C105.2,413.5 103.7,415.3 100,416C96.3,416.7 86.7,417.3 84,416C81.3,414.7 82.7,409.2 84,408Z" fill="#96ff96"/>
<path d="M144,416C137.7,414.3 144.3,409 145,406C145.7,403 146.8,400.7 148,398C149.2,395.3 150.5,391.7 152,390C153.5,388.3 155,388.2 157,388C159,387.8 161.8,388.3 164,389C166.2,389.7 168,390.7 170,392C172,393.3 174.3,395.3 176,397C177.7,398.7 179,400.2 180,402C181,403.8 181.5,405.7 182,408C182.5,410.3 189.3,414.7 183,416C176.7,417.3 150.3,417.7 144,416Z" fill="#96ff96"/>
<path d="M182,416C171.8,414 181,407.7 181,404C181,400.3 181.2,397 182,394C182.8,391 184.3,388.3 186,386C187.7,383.7 189.7,381.5 192,380C194.3,378.5 197.3,377.7 200,377C202.7,376.3 205.7,375.5 208,376C210.3,376.5 212.7,378 214,380C215.3,382 215.5,385.3 216,388C216.5,390.7 216.3,393.3 217,396C217.7,398.7 218.8,402 220,404C221.2,406 222.3,408 224,408C225.7,408 228,404 230,404C232,404 234.3,406.7 236,408C237.7,409.3 239,410.7 240,412C241,413.3 251.7,415.3 242,416C232.3,416.7 192.2,418 182,416Z" fill="#96ff96"/>
<path d="M242,416C239.2,414.7 244.3,410.2 246,408C247.7,405.8 250,403.7 252,403C254,402.3 256.3,403 258,404C259.7,405 261.2,407 262,409C262.8,411 266.3,414.8 263,416C259.7,417.2 244.8,417.3 242,416Z" fill="#96ff96"/>
<path d="M273,358.6C273,359.3 272.8,360 272.3,360.6C271.9,361.2 271.3,361.7 270.5,362.1C269.7,362.4 268.9,362.6 268,362.6C267.1,362.6 266.3,362.4 265.5,362.1C264.7,361.7 264.1,361.2 263.7,360.6C263.2,360 263,359.3 263,358.6C263,357.9 263.2,357.2 263.7,356.6C264.1,356 264.7,355.5 265.5,355.1C266.3,354.8 267.1,354.6 268,354.6C268.9,354.6 269.7,354.8 270.5,355.1C271.3,355.5 271.9,356 272.3,356.6C272.8,357.2 273,357.9 273,358.6Z" fill="#96ff96"/>
<path d="M263,366C264,365.2 266.2,364.5 268,365C269.8,365.5 272,367.3 274,369C276,370.7 278,373.7 280,375C282,376.3 284,375.8 286,377C288,378.2 289.7,380.2 292,382C294.3,383.8 297.7,386 300,388C302.3,390 304.5,392.2 306,394C307.5,395.8 309.2,397.7 309,399C308.8,400.3 306.7,401.7 305,402C303.3,402.3 299.8,400.3 299,401C298.2,401.7 299.3,404.7 300,406C300.7,407.3 303.3,408.2 303,409C302.7,409.8 299.8,410.7 298,411C296.2,411.3 293.5,411.5 292,411C290.5,410.5 289.2,409.3 289,408C288.8,406.7 291.5,404.3 291,403C290.5,401.7 287.7,401.2 286,400C284.3,398.8 282.3,397.7 281,396C279.7,394.3 279.2,392 278,390C276.8,388 275.7,385.8 274,384C272.3,382.2 269.7,380.7 268,379C266.3,377.3 265,375.5 264,374C263,372.5 262.2,371.3 262,370C261.8,368.7 262,366.8 263,366Z" fill="#96ff96"/>
<path d="M453,388C453.5,387.1 455.2,385.7 457,385C458.8,384.3 461.8,384.2 464,384C466.2,383.8 469,382.5 470,384C471,385.5 471.3,391.3 470,393C468.7,394.7 464.2,394.1 462,394C459.8,393.9 458.3,393 457,392.4C455.7,391.8 454.7,391.1 454,390.4C453.3,389.7 452.5,388.9 453,388Z" fill="#96ff96"/>
<path d="M415,412C415.8,410.8 418.2,409.7 420,409C421.8,408.3 424,407.8 426,408C428,408.2 430,410.3 432,410C434,409.7 436,407.2 438,406C440,404.8 441.7,403.8 444,403C446.3,402.2 449.7,401.2 452,401C454.3,400.8 456.8,401.3 458,402C459.2,402.7 459.7,404 459,405C458.3,406 456.2,407.2 454,408C451.8,408.8 448.3,409.3 446,410C443.7,410.7 441.7,411 440,412C438.3,413 440.2,415.3 436,416C431.8,416.7 418.5,416.7 415,416C411.5,415.3 414.2,413.2 415,412Z" fill="#96ff96"/>
<path d="M100.4,51.4C100.4,51.7 100.2,52 99.8,52.3C99.4,52.6 98.9,52.8 98.2,53C97.5,53.1 96.8,53.2 96,53.2C95.2,53.2 94.5,53.1 93.8,53C93.1,52.8 92.6,52.6 92.2,52.3C91.8,52 91.6,51.7 91.6,51.4C91.6,51.1 91.8,50.8 92.2,50.5C92.6,50.2 93.1,50 93.8,49.8C94.5,49.7 95.2,49.6 96,49.6C96.8,49.6 97.5,49.7 98.2,49.8C98.9,50 99.4,50.2 99.8,50.5C100.2,50.8 100.4,51.1 100.4,51.4Z" fill="#64ffff"/>
<path d="M215,61C215.5,59.2 217.8,57.4 220,56C222.2,54.6 225,53.2 228,52.4C231,51.6 234.3,51.1 238,51C241.7,50.9 246.3,51.6 250,51.6C253.7,51.6 256.7,50.9 260,51C263.3,51.1 266.7,52.3 270,52C273.3,51.7 275.3,49.8 280,49C284.7,48.2 295,39.8 298,47C301,54.2 299.7,84.3 298,92C296.3,99.7 291,93 288,93C285,93 281.8,92.8 280,92C278.2,91.2 277.7,90 277,88C276.3,86 276.3,82.8 276,80C275.7,77.2 275.7,73.2 275,71C274.3,68.8 273.8,68 272,67C270.2,66 267.3,65.3 264,65C260.7,64.7 256,64.7 252,65C248,65.3 244.7,66.5 240,67C235.3,67.5 227.8,68 224,68C220.2,68 218.5,68.2 217,67C215.5,65.8 214.5,62.8 215,61Z" fill="#64ffff"/>
<path d="M229,75.4C229,76 228.8,76.4 228.5,76.9C228.1,77.4 227.6,77.7 227,78C226.4,78.3 225.7,78.4 225,78.4C224.3,78.4 223.6,78.3 223,78C222.4,77.7 221.9,77.4 221.5,76.9C221.2,76.4 221,76 221,75.4C221,74.9 221.2,74.4 221.5,73.9C221.9,73.4 222.4,73.1 223,72.8C223.6,72.5 224.3,72.4 225,72.4C225.7,72.4 226.4,72.5 227,72.8C227.6,73.1 228.1,73.4 228.5,73.9C228.8,74.4 229,74.9 229,75.4Z" fill="#64ffff"/>
<path d="M270.6,86C270.6,86.4 270.5,86.8 270.4,87.2C270.2,87.6 270.1,87.9 269.8,88.1C269.5,88.3 269.3,88.4 269,88.4C268.7,88.4 268.5,88.3 268.2,88.1C267.9,87.9 267.8,87.6 267.6,87.2C267.5,86.8 267.4,86.4 267.4,86C267.4,85.6 267.5,85.2 267.6,84.8C267.8,84.4 267.9,84.1 268.2,83.9C268.5,83.7 268.7,83.6 269,83.6C269.3,83.6 269.5,83.7 269.8,83.9C270.1,84.1 270.2,84.4 270.4,84.8C270.5,85.2 270.6,85.6 270.6,86Z" fill="#64ffff"/>
<path d="M250,105C250.8,104.2 254,103 256,103C258,103 260.5,104.2 262,105C263.5,105.8 265,107 265,108C265,109 263.7,110.7 262,111C260.3,111.3 256.8,110.5 255,110C253.2,109.5 251.8,108.8 251,108C250.2,107.2 249.2,105.8 250,105Z" fill="#64ffff"/>
<path d="M290,104C291.2,102.2 296.7,100.3 298,102C299.3,103.7 299.2,112.2 298,114C296.8,115.8 292.3,114.7 291,113C289.7,111.3 288.8,105.8 290,104Z" fill="#64ffff"/>
<path d="M260,53C261.7,50.7 266.7,52.5 270,52C273.3,51.5 276.3,50.5 280,50C283.7,49.5 289,50 292,49C295,48 296,45.3 298,44C300,42.7 302,41.6 304,41C306,40.4 308.3,39.9 310,40.4C311.7,40.9 312.8,42.4 314,44C315.2,45.6 315.3,48.5 317,50C318.7,51.5 322.2,52 324,53C325.8,54 327.7,54.8 328,56C328.3,57.2 326.7,58.5 326,60C325.3,61.5 324,63.2 324,65C324,66.8 324,69.3 326,71C328,72.7 333,74.5 336,75C339,75.5 341,74 344,74C347,74 351.3,74.5 354,75C356.7,75.5 358.3,76 360,77C361.7,78 362.5,80 364,81C365.5,82 367.7,83.3 369,83C370.3,82.7 370.5,79.8 372,79C373.5,78.2 375.3,77.7 378,78C380.7,78.3 384.3,80.8 388,81C391.7,81.2 396.7,79.5 400,79C403.3,78.5 405,78.2 408,78C411,77.8 414.3,77.8 418,78C421.7,78.2 426.3,78.8 430,79C433.7,79.2 437.7,78.7 440,79C442.3,79.3 444,80 444,81C444,82 442.3,84.2 440,85C437.7,85.8 433.3,85.5 430,86C426.7,86.5 423,87.3 420,88C417,88.7 414.3,90 412,90C409.7,90 408,88 406,88C404,88 402.7,89.3 400,90C397.3,90.7 392.7,91.3 390,92C387.3,92.7 384.3,93 384,94C383.7,95 386,97.3 388,98C390,98.7 393.3,97.3 396,98C398.7,98.7 403.3,100.3 404,102C404.7,103.7 402,106.3 400,108C398,109.7 394.7,110.7 392,112C389.3,113.3 386.7,114.8 384,116C381.3,117.2 378.7,118.2 376,119C373.3,119.8 370.3,121.2 368,121C365.7,120.8 363.3,119.5 362,118C360.7,116.5 360,114 360,112C360,110 362,108.3 362,106C362,103.7 361,100 360,98C359,96 358,95 356,94C354,93 350.7,92.3 348,92C345.3,91.7 342.3,91.5 340,92C337.7,92.5 336.3,94 334,95C331.7,96 328.7,96.8 326,98C323.3,99.2 320.3,100.8 318,102C315.7,103.2 314,104.2 312,105C310,105.8 308,106.2 306,107C304,107.8 301.7,109.8 300,110C298.3,110.2 297,109 296,108C295,107 295.3,106 294,104C292.7,102 290,97.7 288,96C286,94.3 283.8,94.7 282,94C280.2,93.3 278,94 277,92C276,90 276.2,85.3 276,82C275.8,78.7 276.3,74.5 275.6,72C274.9,69.5 274.6,68 272,67C269.4,66 262,68.3 260,66C258,63.7 258.3,55.3 260,53Z" fill="#64ffff"/>
<path d="M340,69C340,67.7 342,64.2 344,63C346,61.8 350.2,61.5 352,62C353.8,62.5 355,64.7 355,66C355,67.3 353.8,69.2 352,70C350.2,70.8 346,71.2 344,71C342,70.8 340,70.3 340,69Z" fill="#64ffff"/>
<path d="M456,123C456,123.4 455.8,123.8 455.5,124.2C455.1,124.6 454.6,124.9 454,125.1C453.4,125.3 452.7,125.4 452,125.4C451.3,125.4 450.6,125.3 450,125.1C449.4,124.9 448.9,124.6 448.5,124.2C448.2,123.8 448,123.4 448,123C448,122.6 448.2,122.2 448.5,121.8C448.9,121.4 449.4,121.1 450,120.9C450.6,120.7 451.3,120.6 452,120.6C452.7,120.6 453.4,120.7 454,120.9C454.6,121.1 455.1,121.4 455.5,121.8C455.8,122.2 456,122.6 456,123Z" fill="#64ffff"/>
<path d="M84,255C87.7,245.8 99,257.1 106,257C113,256.9 120.3,255.6 126,254.4C131.7,253.2 135,250.8 140,250C145,249.2 152,250.6 156,249.6C160,248.6 161,245.6 164,244C167,242.4 170.7,240.7 174,240C177.3,239.3 181,239.3 184,239.6C187,239.9 189.3,240.9 192,241.6C194.7,242.3 197.7,243.7 200,244C202.3,244.3 204.3,243.9 206,243.6C207.7,243.3 208.3,243.3 210,242C211.7,240.7 213.7,238 216,236C218.3,234 221.3,231.8 224,230C226.7,228.2 229.3,226.7 232,225C234.7,223.3 237.7,221.7 240,220C242.3,218.3 244.3,216.7 246,215C247.7,213.3 248.3,211.8 250,210C251.7,208.2 253.7,205.3 256,204C258.3,202.7 261.7,202.7 264,202C266.3,201.3 267.3,200.8 270,200C272.7,199.2 276.7,198.1 280,197C283.3,195.9 287,194.9 290,193.6C293,192.3 295.5,190.8 298,189C300.5,187.2 302.5,185.2 305,183C307.5,180.8 310,178.3 313,175.6C316,172.9 320.2,169.3 323,167C325.8,164.7 327.8,163.3 330,162C332.2,160.7 334,159.6 336,159C338,158.4 339.7,158.5 342,158.4C344.3,158.3 347,158.6 350,158.4C353,158.2 356.7,158 360,157.4C363.3,156.8 366.7,155.9 370,155C373.3,154.1 376.7,152.8 380,152C383.3,151.2 387,150.6 390,150C393,149.4 395,149.3 398,148.4C401,147.5 406.3,146.5 408,144.4C409.7,142.3 408.3,138.7 408,136C407.7,133.3 405.3,130 406,128C406.7,126 410,125 412,124C414,123 415.7,123 418,122C420.3,121 423.3,119.7 426,118C428.7,116.3 431.7,114 434,112C436.3,110 438,108 440,106C442,104 444,101.8 446,100C448,98.2 449.7,96.3 452,95C454.3,93.7 457,92.8 460,92C463,91.2 468.3,73.2 470,90C471.7,106.8 471.7,175.7 470,193C468.3,210.3 463,194 460,194C457,194 455.3,193 452,193C448.7,193 444,193.7 440,194C436,194.3 432,194.7 428,195C424,195.3 420,195.5 416,196C412,196.5 407.3,197.2 404,198C400.7,198.8 399.3,199.8 396,201C392.7,202.2 388,203.7 384,205C380,206.3 376,207.7 372,209C368,210.3 363.7,211.8 360,213C356.3,214.2 353.3,214.8 350,216C346.7,217.2 343.3,218.5 340,220C336.7,221.5 333.3,223.5 330,225C326.7,226.5 323.3,227.7 320,229C316.7,230.3 313.3,231.5 310,233C306.7,234.5 303.7,236.5 300,238C296.3,239.5 291.7,241 288,242C284.3,243 281,243.2 278,244C275,244.8 273,245.7 270,247C267,248.3 262.3,250.7 260,252C257.7,253.3 258,253.8 256,255C254,256.2 250.7,257.7 248,259C245.3,260.3 242.7,261.7 240,263C237.3,264.3 234.7,265.7 232,267C229.3,268.3 226.7,269.8 224,271C221.3,272.2 218.7,272.5 216,274C213.3,275.5 210.7,278.3 208,280C205.3,281.7 202.7,282.8 200,284C197.3,285.2 194.7,286.2 192,287C189.3,287.8 186.7,288.3 184,289C181.3,289.7 178.7,290.2 176,291C173.3,291.8 170.3,292.8 168,294C165.7,295.2 164,296.7 162,298C160,299.3 158.3,300.3 156,302C153.7,303.7 151,306.7 148,308C145,309.3 141.3,309.3 138,310C134.7,310.7 131.3,311 128,312C124.7,313 121,315.3 118,316C115,316.7 113,317 110,316C107,315 103,310.8 100,310C97,309.2 94.7,310.7 92,311C89.3,311.3 85.3,321.3 84,312C82.7,302.7 80.3,264.2 84,255Z" fill="#64ffff"/>
<path d="M354,185.6C354.9,184.3 357.7,182.4 360,181C362.3,179.6 365.2,178.2 368,177C370.8,175.8 375.1,173.8 377,173.6C378.9,173.4 379.9,174.7 379.6,176C379.3,177.3 377.1,179.9 375,181.6C372.9,183.3 369.7,184.7 367,186C364.3,187.3 361.1,189.1 359,189.6C356.9,190.1 355.2,189.7 354.4,189C353.6,188.3 353.1,186.9 354,185.6Z" fill="#64ffff"/>
<path d="M343.6,189C343.6,189.7 343.4,190.2 343.1,190.8C342.8,191.4 342.4,191.8 341.8,192.1C341.2,192.4 340.7,192.6 340,192.6C339.3,192.6 338.8,192.4 338.2,192.1C337.6,191.8 337.2,191.4 336.9,190.8C336.6,190.2 336.4,189.7 336.4,189C336.4,188.3 336.6,187.8 336.9,187.2C337.2,186.6 337.6,186.2 338.2,185.9C338.8,185.6 339.3,185.4 340,185.4C340.7,185.4 341.2,185.6 341.8,185.9C342.4,186.2 342.8,186.6 343.1,187.2C343.4,187.8 343.6,188.3 343.6,189Z" fill="#64ffff"/>
<path d="M111.4,389.4C111.4,389.8 111.3,390.1 111.1,390.4C110.9,390.7 110.6,390.9 110.2,391.1C109.8,391.3 109.4,391.4 109,391.4C108.6,391.4 108.2,391.3 107.8,391.1C107.4,390.9 107.1,390.7 106.9,390.4C106.7,390.1 106.6,389.8 106.6,389.4C106.6,389 106.7,388.7 106.9,388.4C107.1,388.1 107.4,387.9 107.8,387.7C108.2,387.5 108.6,387.4 109,387.4C109.4,387.4 109.8,387.5 110.2,387.7C110.6,387.9 110.9,388.1 111.1,388.4C111.3,388.7 111.4,389 111.4,389.4Z" fill="#64ffff"/>
<path d="M102.8,410.4C102.8,410.8 102.7,411.1 102.4,411.4C102.2,411.7 101.8,411.9 101.4,412.1C101,412.3 100.5,412.4 100,412.4C99.5,412.4 99,412.3 98.6,412.1C98.2,411.9 97.8,411.7 97.6,411.4C97.3,411.1 97.2,410.8 97.2,410.4C97.2,410 97.3,409.7 97.6,409.4C97.8,409.1 98.2,408.9 98.6,408.7C99,408.5 99.5,408.4 100,408.4C100.5,408.4 101,408.5 101.4,408.7C101.8,408.9 102.2,409.1 102.4,409.4C102.7,409.7 102.8,410 102.8,410.4Z" fill="#64ffff"/>
<path d="M147,416C141.8,414.3 148.2,408.8 149,406C149.8,403.2 150.7,400.8 152,399C153.3,397.2 155,395.8 157,395C159,394.2 161.8,393.7 164,394C166.2,394.3 168,395.7 170,397C172,398.3 174.5,400.2 176,402C177.5,403.8 178.3,405.7 179,408C179.7,410.3 185.3,414.7 180,416C174.7,417.3 152.2,417.7 147,416Z" fill="#64ffff"/>
<path d="M184,416C177.9,414 183.4,407.7 183.6,404C183.8,400.3 184.1,396.7 185,394C185.9,391.3 187.3,389.7 189,388C190.7,386.3 192.8,384.7 195,384C197.2,383.3 200,383.2 202,384C204,384.8 205.8,387 207,389C208.2,391 208.5,393.5 209,396C209.5,398.5 209.3,401.7 210,404C210.7,406.3 211.7,408.5 213,410C214.3,411.5 216.8,412 218,413C219.2,414 225.7,415.5 220,416C214.3,416.5 190.1,418 184,416Z" fill="#64ffff"/>
<path d="M245,416C243.2,414.9 246.7,411.3 248,409.6C249.3,407.9 251.5,406.3 253,406C254.5,405.7 256,406.3 257,408C258,409.7 261,414.7 259,416C257,417.3 246.8,417.1 245,416Z" fill="#64ffff"/>
<path d="M267,370C268,369.7 270.3,370 272,371C273.7,372 275.3,374.7 277,376C278.7,377.3 280.2,378.3 282,379C283.8,379.7 286,379 288,380C290,381 292,383.3 294,385C296,386.7 298.3,388.3 300,390C301.7,391.7 303.5,393.7 304,395C304.5,396.3 304.2,397.2 303,398C301.8,398.8 299,399.8 297,400C295,400.2 292.8,399.7 291,399C289.2,398.3 287.7,397.2 286,396C284.3,394.8 282.2,393.7 281,392C279.8,390.3 280,387.8 279,386C278,384.2 276.5,382.5 275,381C273.5,379.5 271.5,378.3 270,377C268.5,375.7 266.5,374.2 266,373C265.5,371.8 266,370.3 267,370Z" fill="#64ffff"/>
<path d="M457,388C457,387 459.8,386.4 462,386C464.2,385.6 468.7,384.6 470,385.6C471.3,386.6 471.3,390.9 470,392C468.7,393.1 464.2,392.7 462,392C459.8,391.3 457,389 457,388Z" fill="#64ffff"/>
<path d="M434,411C434.3,410.3 438,409 440,408C442,407 443.8,405.7 446,405C448.2,404.3 451.3,403.6 453,403.6C454.7,403.6 456.2,404.3 456,405C455.8,405.7 454,407.2 452,408C450,408.8 446.3,409.3 444,410C441.7,410.7 439.7,411.8 438,412C436.3,412.2 433.7,411.7 434,411Z" fill="#64ffff"/>
<path d="M247,56C247,56.7 246.7,57.2 246.1,57.8C245.4,58.4 244.6,58.8 243.5,59.1C242.4,59.4 241.3,59.6 240,59.6C238.7,59.6 237.6,59.4 236.5,59.1C235.4,58.8 234.6,58.4 233.9,57.8C233.3,57.2 233,56.7 233,56C233,55.3 233.3,54.8 233.9,54.2C234.6,53.6 235.4,53.2 236.5,52.9C237.6,52.6 238.7,52.4 240,52.4C241.3,52.4 242.4,52.6 243.5,52.9C244.6,53.2 245.4,53.6 246.1,54.2C246.7,54.8 247,55.3 247,56Z" fill="#00c8ff"/>
<path d="M240,64C240.7,62.8 243.7,61 246,60C248.3,59 251.7,58.8 254,58C256.3,57.2 257.7,55.7 260,55C262.3,54.3 265.8,53.5 268,54C270.2,54.5 271.8,56.5 273,58C274.2,59.5 275.2,61.7 275,63C274.8,64.3 273.5,65.7 272,66C270.5,66.3 268,65.7 266,65C264,64.3 262,62.3 260,62C258,61.7 256,62.2 254,63C252,63.8 250,66.3 248,67C246,67.7 243.3,67.5 242,67C240.7,66.5 239.3,65.2 240,64Z" fill="#00c8ff"/>
<path d="M290.4,57C290.4,57.6 290.2,58.2 289.8,58.7C289.4,59.2 288.9,59.6 288.2,59.9C287.5,60.3 286.8,60.4 286,60.4C285.2,60.4 284.5,60.3 283.8,59.9C283.1,59.6 282.6,59.2 282.2,58.7C281.8,58.2 281.6,57.6 281.6,57C281.6,56.4 281.8,55.8 282.2,55.3C282.6,54.8 283.1,54.4 283.8,54.1C284.5,53.7 285.2,53.6 286,53.6C286.8,53.6 287.5,53.7 288.2,54.1C288.9,54.4 289.4,54.8 289.8,55.3C290.2,55.8 290.4,56.4 290.4,57Z" fill="#00c8ff"/>
<path d="M295,73C295,73.8 294.8,74.5 294.3,75.2C293.9,75.9 293.3,76.4 292.5,76.8C291.7,77.2 290.9,77.4 290,77.4C289.1,77.4 288.3,77.2 287.5,76.8C286.7,76.4 286.1,75.9 285.7,75.2C285.2,74.5 285,73.8 285,73C285,72.2 285.2,71.5 285.7,70.8C286.1,70.1 286.7,69.6 287.5,69.2C288.3,68.8 289.1,68.6 290,68.6C290.9,68.6 291.7,68.8 292.5,69.2C293.3,69.6 293.9,70.1 294.3,70.8C294.8,71.5 295,72.2 295,73Z" fill="#00c8ff"/>
<path d="M290,85C290,86 289.7,86.8 289.2,87.7C288.6,88.6 288,89.2 287,89.7C286,90.2 285.1,90.4 284,90.4C282.9,90.4 282,90.2 281,89.7C280,89.2 279.4,88.6 278.8,87.7C278.3,86.8 278,86 278,85C278,84 278.3,83.2 278.8,82.3C279.4,81.4 280,80.8 281,80.3C282,79.8 282.9,79.6 284,79.6C285.1,79.6 286,79.8 287,80.3C288,80.8 288.6,81.4 289.2,82.3C289.7,83.2 290,84 290,85Z" fill="#00c8ff"/>
<path d="M260,54C261,52.7 264,54 266,55C268,56 270.7,58.3 272,60C273.3,61.7 274.3,63.8 274,65C273.7,66.2 271.7,67.2 270,67C268.3,66.8 265.7,64.7 264,64C262.3,63.3 260.7,64.7 260,63C259.3,61.3 259,55.3 260,54Z" fill="#00c8ff"/>
<path d="M290.4,57C290.4,57.5 290.2,58 289.8,58.5C289.4,59 288.9,59.3 288.2,59.6C287.5,59.9 286.8,60 286,60C285.2,60 284.5,59.9 283.8,59.6C283.1,59.3 282.6,59 282.2,58.5C281.8,58 281.6,57.5 281.6,57C281.6,56.5 281.8,56 282.2,55.5C282.6,55 283.1,54.7 283.8,54.4C284.5,54.1 285.2,54 286,54C286.8,54 287.5,54.1 288.2,54.4C288.9,54.7 289.4,55 289.8,55.5C290.2,56 290.4,56.5 290.4,57Z" fill="#00c8ff"/>
<path d="M295,73C295,73.8 294.8,74.5 294.3,75.2C293.9,75.9 293.3,76.4 292.5,76.8C291.7,77.2 290.9,77.4 290,77.4C289.1,77.4 288.3,77.2 287.5,76.8C286.7,76.4 286.1,75.9 285.7,75.2C285.2,74.5 285,73.8 285,73C285,72.2 285.2,71.5 285.7,70.8C286.1,70.1 286.7,69.6 287.5,69.2C288.3,68.8 289.1,68.6 290,68.6C290.9,68.6 291.7,68.8 292.5,69.2C293.3,69.6 293.9,70.1 294.3,70.8C294.8,71.5 295,72.2 295,73Z" fill="#00c8ff"/>
<path d="M290,84.4C290,85.3 289.7,86.1 289.2,86.9C288.6,87.7 288,88.3 287,88.7C286,89.2 285.1,89.4 284,89.4C282.9,89.4 282,89.2 281,88.7C280,88.3 279.4,87.7 278.8,86.9C278.3,86.1 278,85.3 278,84.4C278,83.5 278.3,82.7 278.8,81.9C279.4,81.1 280,80.5 281,80.1C282,79.6 282.9,79.4 284,79.4C285.1,79.4 286,79.6 287,80.1C288,80.5 288.6,81.1 289.2,81.9C289.7,82.7 290,83.5 290,84.4Z" fill="#00c8ff"/>
<path d="M302,59C303.2,57.3 307,56.6 310,56C313,55.4 317.2,55.3 320,55.6C322.8,55.9 326,56.8 327,58C328,59.2 326.8,61.3 326,63C325.2,64.7 323.3,66.3 322,68C320.7,69.7 319.2,71.3 318,73C316.8,74.7 314.7,77 315,78C315.3,79 317.8,79.2 320,79C322.2,78.8 325.3,77.3 328,77C330.7,76.7 333.3,77.2 336,77C338.7,76.8 341.3,75.8 344,76C346.7,76.2 351.3,77 352,78C352.7,79 350,80.5 348,82C346,83.5 342,85.3 340,87C338,88.7 337.7,90.5 336,92C334.3,93.5 332,94.7 330,96C328,97.3 326.3,98.8 324,100C321.7,101.2 318.7,102.2 316,103C313.3,103.8 310.7,105 308,105C305.3,105 302,104.2 300,103C298,101.8 296.5,99.8 296,98C295.5,96.2 296.2,93.8 297,92C297.8,90.2 299.5,88.3 301,87C302.5,85.7 304.8,85.5 306,84C307.2,82.5 308.2,80 308,78C307.8,76 305.8,74 305,72C304.2,70 303.5,68.2 303,66C302.5,63.8 300.8,60.7 302,59Z" fill="#00c8ff"/>
<path d="M354,88C354.7,87 359.7,86 362,86C364.3,86 366,86.7 368,88C370,89.3 371.3,92.8 374,94C376.7,95.2 381.7,94 384,95C386.3,96 386,98.5 388,100C390,101.5 393.3,103 396,104C398.7,105 403.3,105 404,106C404.7,107 402,109 400,110C398,111 394.7,111 392,112C389.3,113 386.7,114.8 384,116C381.3,117.2 378.7,118.2 376,119C373.3,119.8 370.3,121.2 368,121C365.7,120.8 363.2,119.2 362,118C360.8,116.8 360.3,115.3 361,114C361.7,112.7 364.7,111.3 366,110C367.3,108.7 368.7,107.7 369,106C369.3,104.3 368.8,102 368,100C367.2,98 365.7,95.3 364,94C362.3,92.7 359.7,93 358,92C356.3,91 353.3,89 354,88Z" fill="#00c8ff"/>
<path d="M84,309C82.7,307.7 82.7,302.2 84,300C85.3,297.8 89.3,298 92,296C94.7,294 97.7,290.7 100,288C102.3,285.3 104.3,283 106,280C107.7,277 108.3,272.7 110,270C111.7,267.3 112.7,265.7 116,264C119.3,262.3 125.3,261.3 130,260C134.7,258.7 140.7,256.3 144,256C147.3,255.7 148,256.5 150,258C152,259.5 153,263.5 156,265C159,266.5 164,266.5 168,267C172,267.5 176.7,268.2 180,268C183.3,267.8 185.3,267 188,266C190.7,265 193.3,263.3 196,262C198.7,260.7 201.7,259.3 204,258C206.3,256.7 208,255.7 210,254C212,252.3 213.7,250.3 216,248C218.3,245.7 221.3,242.3 224,240C226.7,237.7 229.3,236 232,234C234.7,232 237.3,230 240,228C242.7,226 245.7,223.8 248,222C250.3,220.2 252.7,218.8 254,217C255.3,215.2 254.7,212.7 256,211C257.3,209.3 259.7,207.8 262,207C264.3,206.2 267,206.3 270,206C273,205.7 277,205.3 280,205C283,204.7 289.3,204.2 288,204C286.7,203.8 272.8,204.6 272,203.6C271.2,202.6 280,199.4 283,198C286,196.6 287.5,196 290,195C292.5,194 295.2,193.5 298,192C300.8,190.5 304.2,188 307,186C309.8,184 312,182.2 315,180C318,177.8 322,175 325,173C328,171 330.5,169.3 333,168C335.5,166.7 337.8,165.8 340,165C342.2,164.2 344,163.5 346,163C348,162.5 349.7,162.5 352,162C354.3,161.5 357.3,160.6 360,160C362.7,159.4 365.5,159.1 368,158.4C370.5,157.7 372.2,156.7 375,156C377.8,155.3 381.2,154.5 385,154C388.8,153.5 394.8,153.3 398,153C401.2,152.7 401,152.8 404,152C407,151.2 413.3,149.3 416,148C418.7,146.7 418.3,145.3 420,144C421.7,142.7 424,142 426,140C428,138 432.3,133.7 432,132C431.7,130.3 427,130.2 424,130C421,129.8 416.7,131.2 414,131C411.3,130.8 408.3,129.8 408,129C407.7,128.2 410,127 412,126C414,125 417,124 420,123C423,122 427.3,121.2 430,120C432.7,118.8 434.7,117.7 436,116C437.3,114.3 436.7,112 438,110C439.3,108 442,106 444,104C446,102 447.7,99.7 450,98C452.3,96.3 454.7,94.8 458,94C461.3,93.2 468,77.3 470,93C472,108.7 471.7,171.8 470,188C468.3,204.2 463,190 460,190C457,190 454.7,188.8 452,188C449.3,187.2 446.7,185.2 444,185C441.3,184.8 438.7,187 436,187C433.3,187 430.7,185 428,185C425.3,185 422.7,186.3 420,187C417.3,187.7 414.7,188.8 412,189C409.3,189.2 406.7,187.2 404,188C401.3,188.8 399.3,192 396,194C392.7,196 388,198.2 384,200C380,201.8 376,203.5 372,205C368,206.5 363.7,207.8 360,209C356.3,210.2 353.3,210.7 350,212C346.7,213.3 343.3,215.3 340,217C336.7,218.7 333.3,220.3 330,222C326.7,223.7 323.3,225.7 320,227C316.7,228.3 313.3,228.8 310,230C306.7,231.2 303.3,232.5 300,234C296.7,235.5 293.3,238.5 290,239C286.7,239.5 282.3,236.8 280,237C277.7,237.2 278,239 276,240C274,241 270.7,242 268,243C265.3,244 262.3,244.2 260,246C257.7,247.8 256,252 254,254C252,256 250.3,256.7 248,258C245.7,259.3 242.7,260.7 240,262C237.3,263.3 234.7,264.7 232,266C229.3,267.3 226.7,268.8 224,270C221.3,271.2 218.7,271.7 216,273C213.3,274.3 210.7,276.5 208,278C205.3,279.5 202.7,281 200,282C197.3,283 194.7,283.3 192,284C189.3,284.7 186.7,285.3 184,286C181.3,286.7 178.7,287.2 176,288C173.3,288.8 170.3,289.8 168,291C165.7,292.2 164,293.5 162,295C160,296.5 158.3,298.2 156,300C153.7,301.8 151,304.5 148,306C145,307.5 141.3,308.2 138,309C134.7,309.8 131.2,310 128,311C124.8,312 122,314.5 119,315C116,315.5 113.2,315.2 110,314C106.8,312.8 103,309 100,308C97,307 94.7,307.8 92,308C89.3,308.2 85.3,310.3 84,309Z" fill="#00c8ff"/>
<path d="M165.4,248C165.4,248.3 165.3,248.5 165.1,248.8C164.9,249.1 164.6,249.2 164.2,249.4C163.8,249.5 163.4,249.6 163,249.6C162.6,249.6 162.2,249.5 161.8,249.4C161.4,249.2 161.1,249.1 160.9,248.8C160.7,248.5 160.6,248.3 160.6,248C160.6,247.7 160.7,247.5 160.9,247.2C161.1,246.9 161.4,246.8 161.8,246.6C162.2,246.5 162.6,246.4 163,246.4C163.4,246.4 163.8,246.5 164.2,246.6C164.6,246.8 164.9,246.9 165.1,247.2C165.3,247.5 165.4,247.7 165.4,248Z" fill="#00c8ff"/>
<path d="M149,416C144.5,414.7 150.7,410.2 152,408C153.3,405.8 155,404.3 157,403C159,401.7 161.8,400.3 164,400C166.2,399.7 168.2,400.2 170,401C171.8,401.8 173.7,403.5 175,405C176.3,406.5 177.3,408.2 178,410C178.7,411.8 183.8,415 179,416C174.2,417 153.5,417.3 149,416Z" fill="#00c8ff"/>
<path d="M185.6,416C181.1,414 185.6,407.3 186,404C186.4,400.7 187,398.2 188,396C189,393.8 190.3,392.3 192,391C193.7,389.7 196.2,388.2 198,388C199.8,387.8 201.8,388.7 203,390C204.2,391.3 204.3,393.7 205,396C205.7,398.3 206.2,401.7 207,404C207.8,406.3 209,408 210,410C211,412 217.1,415 213,416C208.9,417 190.1,418 185.6,416Z" fill="#00c8ff"/>
<path d="M255,410C255,410.3 254.9,410.5 254.7,410.8C254.5,411.1 254.3,411.2 254,411.4C253.7,411.5 253.4,411.6 253,411.6C252.6,411.6 252.3,411.5 252,411.4C251.7,411.2 251.5,411.1 251.3,410.8C251.1,410.5 251,410.3 251,410C251,409.7 251.1,409.5 251.3,409.2C251.5,408.9 251.7,408.8 252,408.6C252.3,408.5 252.6,408.4 253,408.4C253.4,408.4 253.7,408.5 254,408.6C254.3,408.8 254.5,408.9 254.7,409.2C254.9,409.5 255,409.7 255,410Z" fill="#00c8ff"/>
<path d="M281,385C281.5,383.5 283.3,381.3 285,381C286.7,380.7 289,382 291,383C293,384 295.2,385.5 297,387C298.8,388.5 301,390.6 302,392C303,393.4 303.7,394.8 303,395.6C302.3,396.4 299.8,396.9 298,397C296.2,397.1 294,396.5 292,396C290,395.5 287.7,395 286,394C284.3,393 282.8,391.5 282,390C281.2,388.5 280.5,386.5 281,385Z" fill="#00c8ff"/>
<path d="M301,88C301.8,85.5 306,83.5 308,83C310,82.5 311.8,83.5 313,85C314.2,86.5 314.8,89.8 315,92C315.2,94.2 315.2,96.6 314,98C312.8,99.4 309.8,100.4 308,100.4C306.2,100.4 304.2,100.1 303,98C301.8,95.9 300.2,90.5 301,88Z" fill="#0064ff"/>
<path d="M369,95C370,94.3 373.8,94.3 376,95C378.2,95.7 381.3,97.8 382,99C382.7,100.2 381.3,101.7 380,102C378.7,102.3 375.7,101.5 374,101C372.3,100.5 370.8,100 370,99C369.2,98 368,95.7 369,95Z" fill="#0064ff"/>
<path d="M373,110C373.3,108.5 375.8,106.8 378,106C380.2,105.2 384,104.7 386,105C388,105.3 390.3,106.8 390,108C389.7,109.2 386.3,110.8 384,112C381.7,113.2 377.8,115.3 376,115C374.2,114.7 372.7,111.5 373,110Z" fill="#0064ff"/>
<path d="M470,94C468.3,92.2 463,94 460,95C457,96 454.3,98.2 452,100C449.7,101.8 448,104.3 446,106C444,107.7 440.3,108.7 440,110C439.7,111.3 442,113.7 444,114C446,114.3 449.3,113 452,112C454.7,111 457,109 460,108C463,107 468.3,108.3 470,106C471.7,103.7 471.7,95.8 470,94Z" fill="#0064ff"/>
<path d="M440,144C441.7,142.5 445,142.5 448,142C451,141.5 454.3,141.3 458,141C461.7,140.7 468,138.3 470,140C472,141.7 475.3,149.2 470,151C464.7,152.8 443,152.2 438,151C433,149.8 438.3,145.5 440,144Z" fill="#0064ff"/>
<path d="M440,148C441.5,146 444.7,145 448,144C451.3,143 456.3,142.3 460,142C463.7,141.7 468.3,135.8 470,142C471.7,148.2 471.7,173.2 470,179C468.3,184.8 463,177.5 460,177C457,176.5 454.7,175.7 452,176C449.3,176.3 446.7,178.3 444,179C441.3,179.7 438.5,180.2 436,180C433.5,179.8 430.5,179 429,178C427.5,177 426.8,175.3 427,174C427.2,172.7 428.5,171.3 430,170C431.5,168.7 434.2,167.3 436,166C437.8,164.7 440.5,163.7 441,162C441.5,160.3 439.2,158.3 439,156C438.8,153.7 438.5,150 440,148Z" fill="#0064ff"/>
<path d="M401,159C401.7,158.2 405.2,157.7 408,157.6C410.8,157.5 415,158.4 418,158.4C421,158.4 423.7,158 426,157.6C428.3,157.2 430.3,155.6 432,156C433.7,156.4 435.5,158.5 436,160C436.5,161.5 436,163.8 435,165C434,166.2 431.8,167.2 430,167C428.2,166.8 426,164 424,164C422,164 420.3,167 418,167C415.7,167 412.3,164.8 410,164C407.7,163.2 405.5,163.2 404,162.4C402.5,161.6 400.3,159.8 401,159Z" fill="#0064ff"/>
<path d="M432.4,148.4C432.4,148.7 432.3,148.9 432.1,149.2C431.9,149.5 431.6,149.6 431.2,149.8C430.8,149.9 430.4,150 430,150C429.6,150 429.2,149.9 428.8,149.8C428.4,149.6 428.1,149.5 427.9,149.2C427.7,148.9 427.6,148.7 427.6,148.4C427.6,148.1 427.7,147.9 427.9,147.6C428.1,147.3 428.4,147.2 428.8,147C429.2,146.9 429.6,146.8 430,146.8C430.4,146.8 430.8,146.9 431.2,147C431.6,147.2 431.9,147.3 432.1,147.6C432.3,147.9 432.4,148.1 432.4,148.4Z" fill="#0064ff"/>
<path d="M303,199C304.2,197.5 308.7,196.2 310,197C311.3,197.8 309.7,202.2 311,204C312.3,205.8 315.2,207 318,208C320.8,209 325,210 328,210C331,210 333.3,208.7 336,208C338.7,207.3 342.2,207.3 344,206C345.8,204.7 345.3,201.5 347,200C348.7,198.5 351.7,197.2 354,197C356.3,196.8 359.7,198 361,199C362.3,200 362.8,201.8 362,203C361.2,204.2 358,205 356,206C354,207 351.7,207.8 350,209C348.3,210.2 347.7,211.8 346,213C344.3,214.2 342.7,215.3 340,216C337.3,216.7 333.3,216.7 330,217C326.7,217.3 323.3,217.7 320,218C316.7,218.3 313.3,218.7 310,219C306.7,219.3 303,219.5 300,220C297,220.5 293.7,222.3 292,222C290.3,221.7 288.7,219 290,218C291.3,217 297.3,217.2 300,216C302.7,214.8 305.5,212.7 306,211C306.5,209.3 303.5,208 303,206C302.5,204 301.8,200.5 303,199Z" fill="#0064ff"/>
<path d="M280,234C280.8,232.8 283.3,231 286,230C288.7,229 293,228.7 296,228C299,227.3 302.2,225.8 304,226C305.8,226.2 307.3,228 307,229C306.7,230 304.2,231 302,232C299.8,233 296.7,234 294,235C291.3,236 288.2,237.7 286,238C283.8,238.3 282,237.7 281,237C280,236.3 279.2,235.2 280,234Z" fill="#0064ff"/>
<path d="M258,238C259.3,236.8 263.7,237.7 266,237C268.3,236.3 270.7,233.8 272,234C273.3,234.2 274.7,236.7 274,238C273.3,239.3 270.7,241 268,242C265.3,243 259.7,244.7 258,244C256.3,243.3 256.7,239.2 258,238Z" fill="#0064ff"/>
<path d="M84,301C85.3,299.3 89.3,299.3 92,298C94.7,296.7 97.7,294.7 100,293C102.3,291.3 104,289.8 106,288C108,286.2 110,284 112,282C114,280 116,277.8 118,276C120,274.2 121.8,272.2 124,271C126.2,269.8 129,268.8 131,269C133,269.2 134.2,271 136,272C137.8,273 139.7,274.7 142,275C144.3,275.3 147,274.5 150,274C153,273.5 156.7,272.5 160,272C163.3,271.5 167,271.2 170,271C173,270.8 176,270.3 178,271C180,271.7 181.5,273.5 182,275C182.5,276.5 181.7,278.3 181,280C180.3,281.7 179.5,283.8 178,285C176.5,286.2 174,286.2 172,287C170,287.8 168,288.8 166,290C164,291.2 162,292.5 160,294C158,295.5 156.3,297.2 154,299C151.7,300.8 148.7,303.5 146,305C143.3,306.5 141,307.2 138,308C135,308.8 131,308.9 128,310C125,311.1 122.3,313.7 120,314.4C117.7,315.1 116,314.7 114,314C112,313.3 110.7,311.2 108,310C105.3,308.8 102,307.3 98,307C94,306.7 86.3,309 84,308C81.7,307 82.7,302.7 84,301Z" fill="#0064ff"/>
<path d="M186,277C186.8,275.8 189.7,274.3 192,273C194.3,271.7 197.3,270.2 200,269C202.7,267.8 205.7,267 208,266C210.3,265 212,264 214,263C216,262 217.7,261.2 220,260C222.3,258.8 225.7,257.3 228,256C230.3,254.7 232.3,253.3 234,252C235.7,250.7 234.3,248.7 238,248C241.7,247.3 253.7,247.2 256,248C258.3,248.8 253.7,251.5 252,253C250.3,254.5 248,255.7 246,257C244,258.3 242.3,259.7 240,261C237.7,262.3 234.7,263.7 232,265C229.3,266.3 226.7,267.8 224,269C221.3,270.2 218.7,270.8 216,272C213.3,273.2 210.7,274.7 208,276C205.3,277.3 202.7,279.3 200,280C197.3,280.7 194.2,280 192,280C189.8,280 188,280.5 187,280C186,279.5 185.2,278.2 186,277Z" fill="#0064ff"/>
<path d="M154,416C150.7,414.9 155.3,411.1 157,409.6C158.7,408.1 161.8,407.4 164,407C166.2,406.6 168.2,406.5 170,407C171.8,407.5 173.8,408.5 175,410C176.2,411.5 180.5,415 177,416C173.5,417 157.3,417.1 154,416Z" fill="#0064ff"/>
<path d="M192.6,416C189.9,414.3 191.8,408.8 192,406C192.2,403.2 193,401 194,399C195,397 196.7,394.5 198,394C199.3,393.5 201,394.7 202,396C203,397.3 203.3,399.8 204,402C204.7,404.2 205.3,406.7 206,409C206.7,411.3 210.2,414.8 208,416C205.8,417.2 195.3,417.7 192.6,416Z" fill="#0064ff"/>
<path d="M284,386.4C284.5,385.5 286.3,384.3 288,384.4C289.7,384.5 292.2,385.9 294,387C295.8,388.1 298,389.8 299,391C300,392.2 300.7,393.4 300,394C299.3,394.6 296.8,394.7 295,394.4C293.2,394.1 290.7,393.1 289,392.4C287.3,391.7 285.8,391 285,390C284.2,389 283.5,387.3 284,386.4Z" fill="#0064ff"/>
<path d="M107,303C107.3,301.2 109.8,300.2 112,298C114.2,295.8 118.2,292.3 120,290C121.8,287.7 121.8,285.8 123,284C124.2,282.2 125.5,280.2 127,279C128.5,277.8 130.7,276.8 132,277C133.3,277.2 134.8,278.7 135,280C135.2,281.3 132.8,283.8 133,285C133.2,286.2 133.8,286.8 136,287C138.2,287.2 143,286.2 146,286C149,285.8 152.2,285.5 154,286C155.8,286.5 156.8,287.7 157,289C157.2,290.3 156.5,292.2 155,294C153.5,295.8 150.5,298.2 148,300C145.5,301.8 142.7,303.5 140,305C137.3,306.5 134.7,307.7 132,309C129.3,310.3 126.2,312 124,313C121.8,314 120.5,315.2 119,315C117.5,314.8 116.5,313 115,312C113.5,311 111.3,310.5 110,309C108.7,307.5 106.7,304.8 107,303Z" fill="#9164ff"/>
<path d="M201,271C202,269.8 205.5,268.3 208,267C210.5,265.7 213.3,264 216,263C218.7,262 221.7,261.2 224,261C226.3,260.8 229.2,261.2 230,262C230.8,262.8 230,264.7 229,266C228,267.3 226.2,268.8 224,270C221.8,271.2 218.7,272.2 216,273C213.3,273.8 210.3,274.8 208,275C205.7,275.2 203.2,275.1 202,274.4C200.8,273.7 200,272.2 201,271Z" fill="#9164ff"/>
<path d="M120,302C121,300.2 123.7,298.5 126,297C128.3,295.5 131.3,293.7 134,293C136.7,292.3 141,292.2 142,293C143,293.8 141.3,296.3 140,298C138.7,299.7 136,301.5 134,303C132,304.5 129.8,305.8 128,307C126.2,308.2 124.3,309.8 123,310C121.7,310.2 120.5,309.3 120,308C119.5,306.7 119,303.8 120,302Z" fill="#dc64ff"/>
<path d="M110,254C111.3,252 114,250.7 120,250C126,249.3 141.7,248.7 146,250C150.3,251.3 147.7,256.2 146,258C144.3,259.8 140.3,260.3 136,261C131.7,261.7 124,261.8 120,262C116,262.2 113.7,263.3 112,262C110.3,260.7 108.7,256 110,254Z" fill="#96ff96"/>
<path d="M84,287C85.7,284.7 92.2,287.5 94,289C95.8,290.5 95.3,293.8 95,296C94.7,298.2 93.8,300.8 92,302C90.2,303.2 85.3,305.5 84,303C82.7,300.5 82.3,289.3 84,287Z" fill="#96ff96"/>
<path d="M168,242.2C170,241 176.3,240.9 180,241C183.7,241.1 187.3,241.8 190,242.5C192.7,243.2 195.2,244.2 196,245C196.8,245.8 196.3,247 195,247.5C193.7,248 190.5,248.1 188,248C185.5,247.9 183.3,247 180,247C176.7,247 170,248.8 168,248C166,247.2 166,243.4 168,242.2Z" fill="#96ff96"/>
<path d="M172,255.2C173.3,254.6 177,253.9 180,253.7C183,253.5 187.3,253.9 190,254.2C192.7,254.5 195.3,255 196,255.7C196.7,256.4 195.8,257.9 194,258.5C192.2,259.1 188,259.4 185,259.5C182,259.6 178.2,259.3 176,259C173.8,258.7 172.7,258.1 172,257.5C171.3,256.9 170.7,255.8 172,255.2Z" fill="#96ff96"/>
<path d="M403.2,134.1C405,132.3 411.2,129.8 415.7,128.8C420.1,127.7 425.7,127.1 429.9,127.7C434,128.3 439.4,130.4 440.6,132.3C441.7,134.3 439.7,137.5 437,139.4C434.3,141.4 428.7,143.5 424.6,144.1C420.4,144.7 415.4,143.8 412.1,143C408.9,142.2 406.5,140.9 405,139.4C403.5,138 401.4,135.9 403.2,134.1Z" fill="#64ffff"/>
<path d="M362.3,176.8C363.2,174.8 369.9,172.8 373,172.5C376.1,172.2 379.9,173.4 380.8,175C381.7,176.6 380.5,180.5 378.3,182.1C376.1,183.7 370.3,185.5 367.7,184.6C365,183.7 361.4,178.8 362.3,176.8Z" fill="#64ffff"/>
<path d="M344.2,187.4C344.2,188 344,188.5 343.5,189C343.1,189.6 342.5,189.9 341.7,190.2C340.9,190.5 340.1,190.6 339.2,190.6C338.3,190.6 337.5,190.5 336.7,190.2C335.9,189.9 335.4,189.6 334.9,189C334.5,188.5 334.2,188 334.2,187.4C334.2,186.9 334.5,186.4 334.9,185.8C335.4,185.3 335.9,185 336.7,184.7C337.5,184.4 338.3,184.2 339.2,184.2C340.1,184.2 340.9,184.4 341.7,184.7C342.5,185 343.1,185.3 343.5,185.8C344,186.4 344.2,186.9 344.2,187.4Z" fill="#64ffff"/>
<path d="M149.2,31.5V414.5M213.1,31.5V414.5M276.9,31.5V414.5M340.7,31.5V414.5M404.6,31.5V414.5" fill="none" stroke="#1a0d00" stroke-opacity="0.25" stroke-width="1.0"/>
<path d="M85.5,349.7H468.5M85.5,285.8H468.5M85.5,222H468.5M85.5,158.2H468.5M85.5,94.3H468.5" fill="none" stroke="#1a0d00" stroke-opacity="0.25" stroke-width="1.0"/>
<path d="M217,70.6L218.5,69.3L220,68L221.4,67.5L222.8,67.3L224,66.4L225.5,66.2L227,66L228.5,65.9L230,65.6L231.5,65.2L233,65.3L234.5,65.3L236,65L238.1,64.5L240,63.6L241.3,62L243,61L244.4,59.4L246,58L247.1,56.9L248.8,56.6L250,55.6L251.6,55.3L252.9,54.2L254.6,54.5L256,53.6L257.6,53.6L259,52.9L260.5,52.5L262,52L263.6,51.5L265.1,51.2L266.8,51.4L268.4,50.8L270,51L271.7,50.2L273.4,49.8L275.1,49.1L277,49L278.7,48.1L280.3,47.2L282,46.4L283.6,46.4L285,45.7L286.5,45.5L288,45L289.3,44L290.8,43.1L292,42L293,40.6L293.8,39.2L295,38L296.3,37.1L297,35.6L299,35L300,33.6L298,32.4L296.4,32.5L295,33.4M226.6,59.6L228.4,60L230.2,60.1L232,60L233.5,59.7L235,59.6L236.5,59.5L238,59.6L239.6,59.2L241.2,59.7L242.8,59.4L244.4,59.4M238.4,92L239.4,91.2L240,90L242,89.6L244,89.4L245.9,90.3L248,90.4L248.2,91.8L249,93L248.7,94.7L247.6,96L246.5,97.7L245,99L243.6,99.2L242.4,100L241.2,99.2L240,98.4L239.9,97L239,96L238,94ZM148,115.6L146.4,117L147.6,118.6M202.4,149.4L204.2,148.7L206,147.8L208,147.6L209.1,145.9L210,144L209.7,141.9L209,140L209.3,137.9L210,136L210.7,134.4L211.9,133.2L213,132L214.9,131.4L216.5,130.2L218,129L219.1,127.7L220.5,126.8L222,126L222.7,124.7L224,124L225.6,124.1L227,125L228.7,123.7L230,122L231.3,120.3L233,119L234.5,117.5L236,116L237.5,116L239,116L239.8,117.4L240,119L241.4,120.2L243,121L244.4,120.4L246,120.4L247.3,121.4L248.9,121.8L250,123L252,123.2L254,123.6L255.4,123L256.9,122.6L258.6,122.8L260,122L261.6,121.8L262.9,120.8L264.6,120.8L266,120L267.4,119L269,118.4L270.6,118L272,117L273.6,116.1L274.8,114.7L276.7,114.4L278,113L278.8,111.4L280,110L281.2,108.8L282.8,108.2L284,107L284.9,105.7L285.9,104.4L286.7,103L288,102L289.1,100.4L290.7,99.4L292,98L293.2,97L294.7,96.5L296,95.6L297.1,94.4L298.4,93.3L299.9,92.5L300.8,91.1L302,90L303.2,89.1L304.6,88.3L305.4,86.8L306.6,85.8L308,85L309.5,84.3L310.7,83.2L311.6,81.8L313,81L314.1,79.6L315.7,78.7L317,77.5L318,76L318.8,74.3L320.3,73.2L321.3,71.7L322,70L323.1,68.8L323.9,67.5L324.7,66L326,65L326.7,63.5L328.3,62.8L328.8,61.1L330,60L331.4,58.9L332.3,57.3L334,56.5L335,55L336.3,54.1L337.4,52.9L338.6,51.8L340,51L341.2,49.8L341.7,48.1L343,47L343.1,45.3L343.7,43.7L344,42L345,40.8L345.4,39.4L346,38L346.1,36.3L347,34.7L347,33L346.4,31M368,31L368,32.8L367.9,34.6L367.5,36.3L367,38L366.4,39.7L366,41.5L365,43L364.8,45.1L364,47L364.8,48.3L365.3,49.7L366,51L367,52.2L367.4,53.6L368,55L368,56.7L368.2,58.4L369,60L368.2,61.6L367.5,63.3L367,65L366.3,66.6L366,68.5L365,70L365.1,71.7L364.8,73.4L364,75L364,76.7L364.5,78.4L365,80L365.7,81.5L367,82.4L367.6,80.7L369.1,79.5L370,78L371.5,76.5L373,75L374.6,74.2L376,73L378,72.5L380,72.4L381.3,73.6L383,74L384.3,75.3L385,77L384.5,79L384,81L383.7,79.4L383,78L382.8,76.4L382,75L381.5,73.6L380.8,72.3L380,71L379.2,69.5L378.3,68.1L377,67L376.2,65.7L375.8,64.3L375,63L374.7,61.5L374,60.2L373,59L372.9,57.3L373.3,55.7L373,54L373.8,52.4L374,50.7L374.4,49L375.4,47.4L376,45.6L377,44L378.6,42.6L380,41L381.7,40.6L383.2,39.7L385,39.6L386.7,39.5L388.4,39.6L390,39L391.9,39.8L394,40L395.4,41.6L397,43L398.6,44.4L400,46L401,47.6L400.2,45.7L399,44L398.4,42.6L397.6,41.4L397,40L396.6,38.5L395.3,37.5L395,36L394.5,34.2L393.3,32.8L393,31M362,88L363.3,88.7L364.7,89.3L366,90L367.4,90.8L368.3,92.1L369.6,93L370.7,94.1L372,95L373.3,96.3L375.1,96.8L376.7,97.6L378,99L379.6,99.9L380.9,101.1L382.6,101.8L384,103L385.7,103.3L387.1,104.5L388.7,104.9L390.4,105.4L392,106L393.5,106.7L395.2,106.6L396.8,107.3L398.5,107.3L400,108L401.6,107.3L403.4,106.9L405,106L406.6,105.3L407.9,104.3L409,103L408.4,104.7L407.6,106.3L407,108L407.5,109.6L408,111.3L408,113L409.3,114L410.5,115.2L412,116L413.3,115.8L414.4,115L412.9,115.5L411.3,116L410,117L408.6,117.7L407.1,118.3L405.5,118.5L404,119L402.5,119.4L401,119.8L399.5,119.8L398,120L396.5,120.4L395,121L393.6,121.7L392,122L390.5,122.8L389.1,123.7L388,125L386.7,126L385.6,127.3L384,128L383.9,129.6L382.6,130.8L382.4,132.4L380.8,132.3L379.5,131.3L378,131L376.5,130.2L374.9,129.7L373.6,128.5L372,128L370.4,127.9L368.9,127.3L367.5,126.5L366,126L364.5,125.9L363.4,124.7L362,124.4L360.8,125.2L359.5,125.8L358,126L356.8,127L355.3,127.2L354,128L352,127.5L350,127L348,126.4L346,126L344.9,126.9L344,128L345.2,129.2L346.4,130.3L348,131L349.3,131.8L350.8,132.1L352,133L353.5,134L355,135L353.1,135.8L351,136L349.1,136.9L347,137L345.5,138L344,139L342.6,138.3L341,138L340.2,136.1L340,134L339.3,132L339,130L338.4,128.5L338,127L339.1,125.6L340,124L341.3,123L342.7,122.1L344,121L345.7,119.7L347,118L345.9,117.1L345,116L346.6,115.7L348,115L349.9,115.9L352,116L353.9,115.1L356,115L357.8,113.8L359,112L358.7,110L358,108L359.3,106.3L361,105L361.6,103.6L362.4,102.4L363,101L363.2,99.3L362.5,97.7L362.4,96L362.1,94L361.6,92L362.1,90ZM410.4,110L411.8,108.7L413.1,107.3L414,105.6L415.5,104.7L417.1,103.9L418.4,102.7L420,102L422,101.8L424,101.2L423.2,102.6L421.5,103.3L419.9,104.4L418.4,105.4L416.9,106.2L415.9,107.6L414.4,108.4L412.7,109.2L411.4,110.6ZM428.4,100.8L429.9,100L431.1,98.8L432,97.4L433.5,96.5L435.1,95.7L436.4,94.4L438,93.6L439.7,93.2L441.1,92.4L442.4,91.2L444,90.6L445.4,89.7L447,89.5L448.5,89L450,88.4L451.6,88.5L453.2,88.2L452,90L450.5,90.5L449.1,91.4L447.4,91.2L446,92L444.6,93L442.9,92.9L441.6,94.1L440,94.4L438.7,95.5L437,96.2L436,97.7L434.4,98.4L433.1,99.6L431.5,100.3L430,101.2ZM460,86.6L461.5,85.8L462.9,84.8L464,83.6L465.4,83.2L466.8,82.9L468,82L470,81.6L470,83.6L468.5,84.3L466.8,84.6L465.7,86L464,86.4L462.6,87.2L461,87.6ZM340,149L342,148L343,146.5L344,145L345,143L347,142L348.1,142.9L349,144L349.3,145.3L350,146.5L352,147L354,146L354.6,144.5L355,143L354,141L352,140L354,139L355.5,139.5L357,140L359,140.5L359,143L358.7,144.5L359,146L359.4,148L360,150L361.6,151.4L363,153L363.8,154.3L364.1,155.8L365,157L365.2,158.8L366.3,160.3L366.5,162L366.4,163.6L367,165L365.6,166.4L365,168.3L364,170L362.9,171.2L362.2,172.7L361,173.7L360,175L359.3,176.3L358.6,177.6L358,179L356.9,180L355.1,180L354,181L353.3,182.7L352.7,184.4L352,186L352,187.5L352.4,189L352.8,190.5L353,192L352.6,193.5L352.9,195.1L352.2,196.5L352,198L350.6,199.6L349,201L348,202.1L347.3,203.5L347,205L347.5,206.6L347.7,208.3L348,210L349.7,211.3L351,213L350,214.4L348.8,215.5L348,217L346.5,217.7L345.3,219L344,220L342.8,220.9L341.5,221.8L340,222.4L339.1,220.6L338,219L339,217.8L339,216.2L340,215L338.4,215.3L337,216L336.7,217.5L335.9,218.8L335,220L333.4,220.6L331.6,220.5L330,221L329.1,222.7L328.1,224.4L327,226L325.6,224.9L324,224L324.2,222.4L325,221L323.3,221.5L321.8,222.6L320,223L319.3,224.3L318.9,225.8L318,227L316.5,227L315,226.5L313.5,226.3L312,226L310,225.6L308,225L306.3,224.7L304.7,224.3L303,224L301.3,222.7L300,221L298.7,222.7L297,224L297.6,225.4L298.2,226.7L299,228L300.5,229L302,230L300.7,231.3L300,233L298.5,233.4L296.9,233.7L295.6,234.7L294,235L292.5,235.8L291.2,236.8L290,238L288.7,239.1L288.1,240.8L287,242M340,149L339,151L339.7,153L340,155L340.1,157.1L341,159L338.5,159.2L340.1,159.5L341.5,160.2L341.2,161.8L341.5,163.4L342,165L341.6,166.8L340.9,168.4L340,170L338.8,171.6L338.2,173.4L337,175L336.3,176.6L334.8,177.5L334,179L332.8,180.2L331.4,181.2L330.6,182.8L329.3,183.9L328,185L326.4,185.9L325.2,187.4L323.6,188.2L322,189L320.4,189.9L318.8,190.7L317.3,191.6L316,193L314.7,194.3L313,195L311.4,195.8L310,197L308.5,198L307,199L306.5,197.6L305.4,196.4L304.7,195.1L304.4,193.6L305.1,191.6L306.4,190L304.8,190.9L303,191L301.5,192.5L300,194L301,195.7L301.9,197.4L303,199L301.7,200.7L300,202M318.4,181.6L319.2,180.6L320.4,180L321.2,181.1L321.6,182.4L320.5,183.9L320,185.6L318,184.4L318.6,183.1ZM86,157L87.8,155.8L89,154L90.2,152.2L92,151L93.1,149.7L94.9,149.3L96,148L98,147.3L100,146.6L101.7,146.6L103.3,146L105,146L107,146L109,146L110.5,147L112,148L112.9,149.5L113.6,151L113.2,152.5L113,154L111.8,155.8L110,157L108.4,157.8L107,159L105.3,160.3L104,162L103.2,163.2L102,164L103,165L104,166L106,167L104.3,168.3L103,170L101.5,170.9L100,171.6L99,173L100.6,173L102,173.6L103.2,172.7L104.7,172.3L106,171.6L107.1,170.4L108.9,170.2L110,169L111.5,168.4L112.8,167.4L114,166.4L115.5,165.9L116.7,164.9L118,164L119.6,163.3L121.4,162.7L123,162L124.7,161.5L126.5,161.3L128,160.4L129.5,160.5L131,159.8L132.5,160.2L134,159.6L135.5,159.8L137,159.8L138.5,159.7L140,159.4L141.4,159.9L142.5,160.8L144,161L145.9,161.6L148,161.6L149.9,162.5L152,163L153.8,163.5L155.6,163.6L155.1,165.3L155,167L154.1,168.5L153,170L151.8,171.4L151,173L150,175L151.7,174.6L153.3,174.9L155,175L153.7,175.7L152.5,176.7L151,177L150.1,178.6L149,180L147.4,180.9L146,182L147.5,182.6L149,183L150.4,183.5L151.5,184.7L153,185L155,184.6L157,184L158.7,184.2L160.3,184.8L162,185L163.3,185.7L164.7,186.4L166,187L168,186.9L170,187L170.6,188.6L172,189.6L172.1,191.3L172.4,193L171.5,194.4L171,196L169.4,196.3L168,197L166.3,197.3L165,198.4L165.9,199.5L166,201L167.5,201.8L169,202.4L169.5,204.3L170.4,206L171.2,207.4L171.6,209L172.4,211L171.3,212.1L170,213L169.9,214.6L169,216L168.5,217.3L167.6,218.4L167.9,219.7L168,221L167.5,222.7L166.4,224L165.9,225.6L165,227L164.2,228.2L164,229.6L165.5,229.6L167,229.6L169,229L171,228.4L173.1,228.1L175,227L177,226.6L179,226L180.5,225.9L181.7,225L183,224.4L185.1,224.3L187,223.6L188.9,222.6L191,222.4L192.5,222.8L194,223L195.6,222.2L197,221L198.4,220.1L200,220L201.4,219.3L202.4,218L202.8,216.5L203.7,215.3L204.4,214L204.6,212.2L205.5,210.7L206,209L206.2,207.5L205.8,206L206.7,204.5L206.4,203L206.1,201.5L205.9,200L205.7,198.5L205.4,197L204.5,195.2L203.6,193.5L203,191.6L202.4,190.2L201.5,189L200.6,187.8L200,186.4L199.2,184.8L197.8,183.6L197,182L195.7,180.9L194.8,179.5L194,178L192.7,177.1L191.8,175.8L191,174.4L189.8,173.3L188.3,172.6L187,171.6L185.8,170.6L184.4,170.1L183,169.6L181.3,168.9L180,167.6L180.6,165.6L180.4,163.6L181.6,162.6L181.8,161L183,160L184.5,159.7L185.6,158.6L187,158L188.7,157.3L190.5,157.1L192,156L193.6,155L195.3,154.4L197,153.6L198.8,153.1L200.4,152L202,151L203.7,150.1L205.5,149.6L207,148.4L208.5,147.4L209.6,146L210.1,144L210.4,142L211,140L210.2,138.1L210,136L211.1,134.7L212,133.3L213,132M86,189L87.2,188.1L88.5,187.3L90,187L91.7,186.8L93.3,186.3L95,186.4L96.7,186.9L98.3,187.6L100,188L101.7,188.6L103.4,189.1L105,190L106.7,190.1L108.3,189.9L110,190L111.6,190.6L113.3,190.7L115,191L116.4,191.9L118,192L119,194L117.7,195.3L117,197L114.9,197.3L113,198L111.4,198.4L109.7,198.7L108,198.6L105.9,199L104,200L102.6,200.3L101.3,201L100,201.6L98.7,202.5L97.4,203.4L96,204L94.4,204.9L93,206L91,206.4L89,207L87.5,207.9L86,209L84,210M163.6,242.4L164.9,241.8L166,241L167.7,241L169.3,240.3L171,240.4L172.4,240.8L173.6,241.6L173,243.6L171.3,243.8L170,244.8L168.5,244.6L167,244.7L165.6,245.2L163.6,244ZM224.5,234L223.6,232.9L223.5,231.5L223.5,230L225,229L226.6,228.9L228,229.5L230,228.5L231.4,227.3L233,226.5L234.5,225.4L236,224.5L237.4,223.6L238.5,222.2L240,221.5L241.4,220.5L242.4,219.2L244,218.5L245.3,217L247,216L248.6,215.7L250,215L251.5,214.2L253.5,214.5L256,215L258,215L260,215L262,214.9L264,214.5L266,214L268,213.8L270,213.5L272,213.2L274,212.7L276,212.8L278.5,213L279,214.2L280.5,215L282.5,215L285,214.5L286.2,213.9L287.5,213.5L289,212L290,210L291,208L292.5,206L294,204L295.6,203.7L297.1,203.3L298.4,202.1L300,202M224.5,234L226,234.2L227.5,234.1L229,234.6L230.5,235.1L232,235L233.5,235.1L235,235L236.5,235.5L238,235.5L240,234.6L241,233L241.5,231.2L243,230.2L244.5,231L244.8,233L244,234.6L246,235L247.4,234.4L249,234.2L250.5,233.8L252,233.6L253.4,232.9L255,232.6L256.6,232.4L258,231.6L260,230.2L262,228.8L264,227.6L266,226.6L268,225.6L270,225L272.5,224.8L274.5,225.4L275.8,226.5L276.8,228.5L276.2,230.5L276.8,232.5L277.5,233.7L278,235L278.6,236.2L279.5,237.2L280.5,238.7L282,239.5L283.3,240.4L284.5,241.5L286.5,242.5M278.5,226.5L280.5,225.8L282,226.5L281.5,228.2L280,229.8L278.8,230.2L278.2,228.8ZM244,238L246,237.2L248.5,236.8L250.3,236L252,235.2L254.1,234.9L256,234.2L258.1,234.1L260,233.2L261.5,232.4L263,231.8L264.5,231L266,230.5L267.4,229.9L269,230L271.2,231.2L271.2,232.7L271.8,234L271.8,235.4L271,236.5L270.7,237.9L269.8,239L269,240.2L268.2,241.5L267.5,243L266.8,244.5L265.5,244.2L264,243L262.8,242.2L261.5,241.8L260.2,241.7L259,241.2L257.4,241.6L256,242.4L255,243.7L253.5,244.5L252.9,246.1L251.8,247.5L251,249.3L250.5,251.2L249,250.8L247.7,250.2L247,249L246,247.7L245.2,246.2L244.9,244.8L244.2,243.5L242,243.8L239.5,244.2L240.6,243.5L241.5,242.5L242.2,241.2L243.2,240.2ZM224.5,235L222.5,236.2L221.4,237L220,237.2L218.6,238L217,238.6L215.7,238.9L214.5,239.6L213.3,240.2L212,240.6L210.9,241.5L209.5,241.8L208.2,242.3L207,243.2L205,244.6L206,246L208,245.5L210,246.2L209,248L207.5,249L208.5,250.5L210.5,250L211.5,252L210.5,254L212,256L213.6,256.5L213.2,259L213.4,261L213.8,263L213.6,265L214.2,267L214.2,269L215.5,269.9L217,270L219.5,270.5L219.9,271.9L221,273L222,271.5L223,270L224.6,269.5L226,268.5L227.5,268.1L229,268L230.5,266.2L230.5,266L230.8,264.1L231.5,262.2L232.2,260.8L233.4,259.6L233.8,258L235.2,256.7L236,255L236.7,253.4L237.8,252L237.3,250.5L237,249L236,246.8L235.4,245.4L235,244L234.5,241.5L232.5,240L231.2,239.6L230,239L228.5,238.2L227,237.2L225.7,236.2ZM211.5,245L213.5,244.2L215.5,245L217,247L217.8,248.1L218,249.5L217.5,252L218.5,254L217,255L215.5,253L215,250.5L213.5,249L212.5,247ZM214,251L215,253L215.5,254.3L216.2,255.5L215.5,257.5L214.2,256L214.1,254.7L213.5,253.5M288.5,220L289.3,218.6L290,217.2L291.5,216L292.5,216.8L291.5,219L290.5,220.1L290,221.5L288.8,222ZM218,280L219.6,279.6L221.2,281L220.4,283L218.4,283L218.3,281.5ZM198.4,312.4L200,312.4L200.6,314.4L199.6,316L198.2,315L198,313.7ZM84,228L84.8,229.2L86,230L86.7,231.7L88,233L88.8,234.6L89.7,236.2L90,238L91,239.7L92,241.4L93,243L93,245L94,246L95,247L95.1,248.6L96,250L96.5,252.5L97.7,253.4L99,254L100.1,254.8L101.5,255L102.5,257L103.8,257.7L104.5,259L105.7,259.8L107,260.5L108.5,262L109.2,263.5L108.5,265.5L107,266.8L105,266.5L103,265.5L101,264.5M99.5,263.5L101.5,263L102.7,263.7L104,264L105.4,264.4L106.5,265.5L108.5,265.5M84.5,261.2L86.1,260.2L88,260L89.5,260L91,259.5L92.5,260L94,259.8L95.2,260.4L96,261.5L97.2,262.1L98.5,262.5L100,263.5L101.5,265L103,266.5L104.2,267.3L105,268.5L105.8,269.7L107,270.5L107.9,271.6L109,272.5L109.5,274L108.3,274.7L107,275L105.6,275.7L104,276L102.4,276.3L101,277L99,278.5L97,280L95.5,280.2L94,280.5L92.5,280.5L91,281L89,282L87.8,282.6L86.5,283L84.5,283.8M84.5,283.8L85.7,283.2L87,282.8L88.7,282.6L90,281.6L92,283L93,285L95,284.5L97,283L98.6,282.4L100,281.5L102,282L103,283L104,284L105,285L106,286L107.5,286.4L109,286.5L110,285L112,284.5L113.2,285.4L114.5,286L113,287L111.4,287.1L110,288L109,289.5L107,290.5L105.8,291.3L104.5,292L105.2,294L106.5,294.8L108,295L107,295.9L106.2,297L105,297.8L104.2,299L105.5,301L104.2,301.5L103.2,302.5L103.6,303.9L104.5,305L105.2,307L103.7,307.6L102.3,308.4L101.1,309.6L99.8,310.5L98.3,311.3L96.9,312.1L95.7,313.3L94.4,314.2L93,315L92.6,316.5L91.5,317.6L91,319L89.6,320.1L89.1,321.7L88,323L87.2,324.5L86.2,325.8L85,327M86,266.8L87.3,268.1L88.5,269.5L89.4,270.7L90,272L89.5,274.2L87.7,274L86,274.7M85,368L85.4,366.1L86.3,364.4L86.9,362.6L88,361L89.1,359.4L90.2,357.8L91,356L91.8,354.6L92.7,353.3L94,352.2L95,351L96.3,350.2L97.7,349.6L98.5,348.1L100,347.6L101.6,346.7L103.2,346.3L105,346L106.6,346.4L108.2,347.1L109.6,348L109.6,349.5L110,351L109.4,352.7L109.2,354.6L108.8,356.3L108,358L107.7,359.8L107.3,361.6L106.3,363.2L106,365L105.7,366.8L105,368.5L104.2,370.2L104,372L103.3,373.3L102.9,374.8L102,376L100.7,377.5L99.7,379.1L99,381L98.5,382.7L97.6,384.3L97,386L96.1,387.4L96,389L94,388L93.3,386.3L92.4,384.8L92,383L90.7,381.9L90.3,380.1L89,379L88.6,377.2L87.6,375.7L87,374L86.9,372.5L86.7,371L86.3,369.5L86.4,368L85,366" fill="none" stroke="#000" stroke-width="1.3" stroke-linejoin="round" stroke-linecap="round"/>
<path d="M146,181.6L147.1,183.6L149,182.4L150.8,183.9L153,184.4L154.9,183.3L157,184M165,198L166.1,196L168,197.2L169.6,198.1L171,199.2L170.7,200.8L169.6,202M168,202L168.3,204.5L170.4,206L170.3,208.2L171.6,210L170.5,211.7L170,213.6L170.3,216.2L168.4,218L169.1,220.2L167.6,222L167.4,224.2L166,226L165.9,227.9L164.4,229L166.1,230.4L168,229.2L170,228.7L172.1,228.6L174,227.6L176.5,228.5L177.7,225.5L180,225.6L182,225.2L183.7,223.4L186,224L188.2,224.4L189.6,221.3L192,222.4L194.2,223.1L196,221.6M100,164L101.9,164.6L103,163L103.1,165L105,165.6M99.6,172L100.9,170.1L103,171L105.6,172" fill="none" stroke="#000" stroke-width="1.8" stroke-linejoin="round" stroke-linecap="round"/>
<path d="M137,90.4L140,90.8L141.6,92L139,92.2ZM173.5,112.3L172.9,112.8L171.8,112.9L170.6,112.5L169.8,111.7L169.7,110.9L170.3,110.4L171.4,110.3L172.6,110.7L173.4,111.5ZM199.6,107.7L199.9,108.6L199.5,109.5L198.8,109.9L197.9,109.8L197.2,109.1L196.9,108.2L197.3,107.3L198,106.9L198.9,107ZM236,117.2L237.6,116.4L238.4,118L237.2,119.2ZM356.8,92L356.6,92.7L356,93.1L355.2,93.1L354.6,92.7L354.4,92L354.6,91.3L355.2,90.9L356,90.9L356.6,91.3ZM334.6,130.4L334.4,131.1L333.9,131.5L333.3,131.5L332.8,131.1L332.6,130.4L332.8,129.7L333.3,129.3L333.9,129.3L334.4,129.7ZM428,109.4L427.6,110L426.6,110.4L425.4,110.4L424.4,110L424,109.4L424.4,108.8L425.4,108.4L426.6,108.4L427.6,108.8ZM346.4,208.6L346.1,209.2L345.4,209.6L344.6,209.6L343.9,209.2L343.6,208.6L343.9,208L344.6,207.6L345.4,207.6L346.1,208ZM147.6,150L153,149L153.6,150.4L149,152ZM255.8,206L255.5,206.8L254.8,207.3L254,207.3L253.3,206.8L253,206L253.3,205.2L254,204.7L254.8,204.7L255.5,205.2ZM251.5,214.5L253,213.8L254.8,214.5L254,215.5L252.2,215.6ZM207,243.2L209.5,242.2L210.5,244.2L209,245.2L207.2,244.8ZM210.5,244.5L212.5,243.5L214,244.5L213.8,246.5L212.2,247.5L210.8,246.5ZM215.5,248L217.2,247.5L218.2,249.5L217.5,251.5L216,251ZM212.5,250.5L214,250L215,252L214.5,254.5L213,254ZM210,247L211.5,246.5L212.2,249L211,250.2L209.8,249ZM215,255L216.8,254.5L217.5,256.5L216.2,258L215,257ZM194.5,250.5L196.5,249.8L198.2,250.5L197.8,252.5L195.5,253L194.2,252ZM199.5,246.5L200.8,245.5L201.8,246.5L201.2,248.5L199.8,249.2ZM202,230.5L203.5,226.5L205,225L206.2,225.5L205.8,228L204.5,231.2L203,233.5L201.8,233ZM209.7,237.3L209.5,237.9L208.9,238.3L208.1,238.3L207.5,237.9L207.3,237.3L207.5,236.7L208.1,236.3L208.9,236.3L209.5,236.7ZM255.6,206.2L255.3,207L254.6,207.4L253.8,207.4L253.1,207L252.8,206.2L253.1,205.4L253.8,205L254.6,205L255.3,205.4ZM219.8,264.5L221.2,263.8L222.2,265.5L221.8,268.5L220.5,269.2L219.7,267ZM224,275L226,274.4L226.6,277L225.4,281L223.6,282L223.4,279ZM202.4,307L206,305L209.6,304L210,306L207,309L203.6,310.4ZM182.8,333.6L185.2,330L189,326.8L191.2,326.4L190.4,328.4L188,330.8L185.6,334L183.6,336ZM131.6,357.6L135,357L136,359L133,360ZM137,356L140,354.4L141,356.4L138.4,358.4ZM151.6,350.4L155.6,353.6L152,353.6ZM93,267.2L95,267L95.8,268.2L94,269L92.8,268.5ZM89.5,270.8L91.5,270.5L92.2,272.2L90.5,273.5L89.3,272.5ZM109,283.5L112,283.8L114.5,285.5L112.5,287L110,287.8L109.2,286ZM104.5,291.8L108,290.8L109.5,293L108.5,295.5L106.5,296.8L105,295ZM103,298.5L106.2,298L106.5,301L104,302.5Z" fill="#000" stroke="#000" stroke-width="1" stroke-linejoin="round"/>
</svg>
<rect x="85.5" y="31.5" width="383" height="383" fill="none" stroke="#000" stroke-width="1.2"/>
<text x="138.5" y="425" font-size="9" textLength="22.2" lengthAdjust="spacingAndGlyphs">125°E</text>
<text x="202.4" y="425" font-size="9" textLength="22.2" lengthAdjust="spacingAndGlyphs">130°E</text>
<text x="266.2" y="425" font-size="9" textLength="22.2" lengthAdjust="spacingAndGlyphs">135°E</text>
<text x="330" y="425" font-size="9" textLength="22.2" lengthAdjust="spacingAndGlyphs">140°E</text>
<text x="393.9" y="425" font-size="9" textLength="22.2" lengthAdjust="spacingAndGlyphs">145°E</text>
<text x="62" y="352.7" font-size="9" textLength="18.6" lengthAdjust="spacingAndGlyphs">25°N</text>
<text x="62" y="288.8" font-size="9" textLength="18.6" lengthAdjust="spacingAndGlyphs">30°N</text>
<text x="62" y="225" font-size="9" textLength="18.6" lengthAdjust="spacingAndGlyphs">35°N</text>
<text x="62" y="161.2" font-size="9" textLength="18.6" lengthAdjust="spacingAndGlyphs">40°N</text>
<text x="62" y="97.3" font-size="9" textLength="18.6" lengthAdjust="spacingAndGlyphs">45°N</text>
<text x="164.9" y="26" font-size="12" textLength="222.2" lengthAdjust="spacingAndGlyphs">GSMAP_MVK estimates for 20250611</text>
<svg x="555.5" y="31.5" width="383" height="383" viewBox="555.5 31.5 383 383">
<path d="M779,152C779,152.2 781.6,144.6 782,142C782.4,139.4 782,132.1 782.4,130C782.8,127.9 784.5,125.9 785,124C785.5,122.1 786.9,115.9 787,114C787.1,112.1 785.6,109 786,108C786.4,107 788.8,105.9 790,105C791.2,104.1 794.8,101 796,100C797.2,99 798.8,96.9 800,96C801.2,95.1 804.4,92.7 806,92C807.6,91.3 812.1,90.3 814,90C815.9,89.7 820.1,89.2 822,89C823.9,88.8 828.6,87.9 830,88C831.4,88.1 832.6,89.5 834,90C835.4,90.5 840.1,91.7 842,92C843.9,92.3 847.9,93 850,93C852.1,93 857.7,92.1 860,92C862.3,91.9 867.9,91.7 870,92C872.1,92.3 876.1,94.5 878,95C879.9,95.5 884.1,95.5 886,96C887.9,96.5 892.4,98.1 894,99C895.6,99.9 898.8,102.5 900,104C901.2,105.5 903.5,109.9 904,112C904.5,114.1 904.6,119.9 904.4,122C904.2,124.1 902.5,127.9 902,130C901.5,132.1 900.7,138.4 900,140C899.3,141.6 897.2,143.1 896,144C894.8,144.9 890,148.5 890,148C890,147.5 896.2,140.2 896,140C895.8,139.8 890.1,145.1 888,146C885.9,146.9 880.1,147.9 878,148C875.9,148.1 872.3,146.9 870,147C867.7,147.1 860.3,148.4 858,149C855.7,149.6 851.2,150.9 850,152C848.8,153.1 847.8,156.8 848,158C848.2,159.2 851.1,160.6 852,162C852.9,163.4 855.4,167.9 856,170C856.6,172.1 857.2,177.7 857,180C856.8,182.3 854.8,187.9 854,190C853.2,192.1 850.9,196.4 850,198C849.1,199.6 846.7,202.1 846,204C845.3,205.9 844.5,211.9 844,214C843.5,216.1 842.7,220.1 842,222C841.3,223.9 839.4,228.6 838,230C836.6,231.4 832.1,233.3 830,234C827.9,234.7 821.9,235.3 820,236C818.1,236.7 815.2,238.8 814,240C812.8,241.2 811.2,244.8 810,246C808.8,247.2 805.6,249.3 804,250C802.4,250.7 798.1,251.7 796,252C793.9,252.3 788.1,253 786,253C783.9,253 779.9,251.7 778,252C776.1,252.3 771.9,254.8 770,256C768.1,257.2 762.9,261.5 762,262C761.1,262.5 762.7,259.4 762,260C761.3,260.6 757.9,265.8 756,267C754.1,268.2 748.3,269.5 746,270C743.7,270.5 738.1,270.5 736,271C733.9,271.5 729.2,272.9 728,274C726.8,275.1 726.4,278.4 726,280C725.6,281.6 725.7,286.1 725,288C724.3,289.9 721.3,294.4 720,296C718.7,297.6 715.4,300.6 714,302C712.6,303.4 708.9,306.1 708,308C707.1,309.9 706.7,316.1 706,318C705.3,319.9 703.4,322.8 702,324C700.6,325.2 695.6,326.8 694,328C692.4,329.2 689.3,332.6 688,334C686.7,335.4 683.8,338.4 683,340C682.2,341.6 682,346.1 681,348C680,349.9 675.8,354.7 674,356C672.2,357.3 668.3,358.8 666,359C663.7,359.2 656.8,357.9 654,358C651.2,358.1 643.9,359.3 642,360C640.1,360.7 638.7,362.8 638,364C637.3,365.2 636.7,368.6 636,370C635.3,371.4 633.2,374.7 632,376C630.8,377.3 627.6,380.1 626,381C624.4,381.9 620.3,383.2 618,383.6C615.7,384 608.6,384.1 606,384C603.4,383.9 598.1,383.6 596,383C593.9,382.4 589.5,380.2 588,379C586.5,377.8 583.9,374.5 583,373C582.1,371.5 580.6,367.8 580,366C579.4,364.2 578.1,359.9 578,358C577.9,356.1 578.8,351.6 579,350C579.2,348.4 579.4,345.4 580,344C580.6,342.6 582.8,339.2 584,338C585.2,336.8 588.1,334.8 590,334C591.9,333.2 597.7,331.5 600,331C602.3,330.5 607.9,330.2 610,330C612.1,329.8 616.1,329.7 618,329C619.9,328.3 624.6,325.3 626,324C627.4,322.7 628.8,319.4 630,318C631.2,316.6 634.4,313.4 636,312C637.6,310.6 642.6,307.6 644,306C645.4,304.4 647.1,299.9 648,298C648.9,296.1 651.3,291.4 652,290C652.7,288.6 653.4,286.9 654,286C654.6,285.1 656.8,283.4 657,282C657.2,280.6 655.8,276.3 655.6,274C655.4,271.7 655.1,264.8 655,262C654.9,259.2 655,253.3 655,250C655,246.7 654.2,236.6 655,234C655.8,231.4 660.2,229.4 662,228C663.8,226.6 668.1,223.4 670,222C671.9,220.6 676.4,217.4 678,216C679.6,214.6 682.6,211.4 684,210C685.4,208.6 688.8,205.5 690,204C691.2,202.5 692.8,198.4 694,197C695.2,195.6 698.1,193.1 700,192C701.9,190.9 707.7,188.6 710,188C712.3,187.4 717.7,187 720,187C722.3,187 727.9,188.2 730,188C732.1,187.8 736.4,185.7 738,185C739.6,184.3 742.6,182.6 744,182C745.4,181.4 748.4,180.6 750,180C751.6,179.4 756.4,177.9 758,177C759.6,176.1 762.6,173.1 764,172C765.4,170.9 768.6,169.4 770,168C771.4,166.6 775.2,161.9 776,160C776.8,158.1 776.5,153.6 777,152C777.5,150.4 779.4,147.4 780,146C780.6,144.6 782.1,139.3 782,140C781.9,140.7 779,151.8 779,152Z" fill="#ffe9bd"/>
<path d="M605,367C605.5,365.7 608.5,365.2 610,366C611.5,366.8 613.2,369.7 614,372C614.8,374.3 615.7,378.5 615,380C614.3,381.5 611.3,382 610,381C608.7,380 607.8,376.3 607,374C606.2,371.7 604.5,368.3 605,367Z" fill="#ffe9bd"/>
<path d="M655,234C655.7,230.8 657.2,232.3 659,231C660.8,229.7 663.5,227.5 666,226C668.5,224.5 671.7,223 674,222C676.3,221 678,220.6 680,220C682,219.4 683.7,218.9 686,218.4C688.3,217.9 691.3,217.4 694,216.8C696.7,216.2 699.7,215.7 702,215C704.3,214.3 706,213.3 708,212.4C710,211.5 712,210.6 714,209.6C716,208.6 717.7,207.4 720,206.4C722.3,205.4 725,205 728,203.6C731,202.2 735.2,199.4 738,198C740.8,196.6 742.2,196.1 745,195C747.8,193.9 751.7,192.7 755,191.4C758.3,190.1 762.3,188.7 765,187C767.7,185.3 768.8,182.8 771,181C773.2,179.2 775.3,177.2 778,176C780.7,174.8 783.8,174.5 787,174C790.2,173.5 794,173.5 797,173C800,172.5 803,172.2 805,171C807,169.8 808.2,167.8 809,166C809.8,164.2 809.5,162.3 810,160C810.5,157.7 812,154.3 812,152C812,149.7 811,148 810,146C809,144 806.7,142 806,140C805.3,138 791,135 806,134C821,133 881,133 896,134C911,135 897.3,138.2 896,140C894.7,141.8 891,144 888,145C885,146 881,145.8 878,146C875,146.2 873.3,145.7 870,146C866.7,146.3 861.3,147.2 858,148C854.7,148.8 852.3,149.7 850,151C847.7,152.3 844.3,154.5 844,156C843.7,157.5 846.3,158.3 848,160C849.7,161.7 852.7,163.7 854,166C855.3,168.3 855.6,171.3 856,174C856.4,176.7 856.7,179.3 856.4,182C856.1,184.7 855.1,187.5 854,190C852.9,192.5 851.3,195 850,197C848.7,199 847,200 846,202C845,204 845.3,207.3 844,209C842.7,210.7 840.3,211 838,212C835.7,213 832.7,214.2 830,215C827.3,215.8 824.3,216.2 822,217C819.7,217.8 818,219 816,220C814,221 812,222 810,223C808,224 806,225.2 804,226C802,226.8 800.3,227.2 798,228C795.7,228.8 792.3,230 790,231C787.7,232 786,232.8 784,234C782,235.2 780,236.7 778,238C776,239.3 774,240.7 772,242C770,243.3 768,244.8 766,246C764,247.2 762,248.2 760,249C758,249.8 756.3,250.5 754,251C751.7,251.5 748.7,251.5 746,252C743.3,252.5 740.7,253.8 738,254C735.3,254.2 732.3,252.5 730,253C727.7,253.5 726.3,255.7 724,257C721.7,258.3 718.7,259.5 716,261C713.3,262.5 710.7,264.2 708,266C705.3,267.8 702.3,270.2 700,272C697.7,273.8 696.3,275.3 694,277C691.7,278.7 688.7,280.5 686,282C683.3,283.5 680.7,284.8 678,286C675.3,287.2 672.7,287.8 670,289C667.3,290.2 664.3,291.5 662,293C659.7,294.5 658,297 656,298C654,299 651.3,299.3 650,299C648.7,298.7 648,297.5 648,296C648,294.5 649,291.7 650,290C651,288.3 652.8,287.3 654,286C655.2,284.7 656.7,284 657,282C657.3,280 655.9,277.3 655.6,274C655.3,270.7 655.1,266 655,262C654.9,258 655,254.7 655,250C655,245.3 654.3,237.2 655,234Z" fill="#d9ffc8" stroke="#d9ffc8" stroke-width="3" stroke-linejoin="round"/>
<path d="M635,320C635,320.8 634.9,321.5 634.6,322.2C634.3,322.9 634,323.4 633.5,323.8C633,324.2 632.5,324.4 632,324.4C631.5,324.4 631,324.2 630.5,323.8C630,323.4 629.7,322.9 629.4,322.2C629.1,321.5 629,320.8 629,320C629,319.2 629.1,318.5 629.4,317.8C629.7,317.1 630,316.6 630.5,316.2C631,315.8 631.5,315.6 632,315.6C632.5,315.6 633,315.8 633.5,316.2C634,316.6 634.3,317.1 634.6,317.8C634.9,318.5 635,319.2 635,320Z" fill="#d9ffc8" stroke="#d9ffc8" stroke-width="1.5" stroke-linejoin="round"/>
<path d="M670.6,327.6C670.6,328.3 670.5,329 670.2,329.6C669.9,330.2 669.6,330.7 669.1,331.1C668.6,331.4 668.1,331.6 667.6,331.6C667.1,331.6 666.6,331.4 666.1,331.1C665.6,330.7 665.3,330.2 665,329.6C664.7,329 664.6,328.3 664.6,327.6C664.6,326.9 664.7,326.2 665,325.6C665.3,325 665.6,324.5 666.1,324.1C666.6,323.8 667.1,323.6 667.6,323.6C668.1,323.6 668.6,323.8 669.1,324.1C669.6,324.5 669.9,325 670.2,325.6C670.5,326.2 670.6,326.9 670.6,327.6Z" fill="#d9ffc8" stroke="#d9ffc8" stroke-width="1.5" stroke-linejoin="round"/>
<path d="M790,152C774.7,150.3 792.3,144.5 794,142C795.7,139.5 798,138.3 800,137C802,135.7 804.3,135.5 806,134C807.7,132.5 809.5,130 810,128C810.5,126 808.7,123.7 809,122C809.3,120.3 810.5,119 812,118C813.5,117 816.7,117.3 818,116C819.3,114.7 820.3,111.8 820,110C819.7,108.2 817.7,106.2 816,105C814.3,103.8 812.3,103.4 810,103C807.7,102.6 804.3,102.8 802,102.4C799.7,102 796.5,101.3 796,100.4C795.5,99.5 797.3,98.2 799,97C800.7,95.8 803.2,94 806,93C808.8,92 813,91.5 816,91C819,90.5 821.7,90.3 824,90C826.3,89.7 828.3,88.8 830,89C831.7,89.2 832,90.3 834,91C836,91.7 839.3,92.5 842,93C844.7,93.5 847,94 850,94C853,94 856.7,93.2 860,93C863.3,92.8 867,92.5 870,93C873,93.5 875.7,94.8 878,96C880.3,97.2 882.3,98 884,100C885.7,102 887,105.3 888,108C889,110.7 890,113.3 890,116C890,118.7 888,121.3 888,124C888,126.7 889.3,129.3 890,132C890.7,134.7 892.4,137.3 892.4,140C892.4,142.7 891.1,146 890,148C888.9,150 902.7,151.3 886,152C869.3,152.7 805.3,153.7 790,152Z" fill="#d9ffc8" stroke="#d9ffc8" stroke-width="3" stroke-linejoin="round"/>
<path d="M648,318C648,318.9 647.9,319.7 647.7,320.5C647.5,321.3 647.3,321.9 647,322.3C646.7,322.8 646.4,323 646,323C645.6,323 645.3,322.8 645,322.3C644.7,321.9 644.5,321.3 644.3,320.5C644.1,319.7 644,318.9 644,318C644,317.1 644.1,316.3 644.3,315.5C644.5,314.7 644.7,314.1 645,313.7C645.3,313.2 645.6,313 646,313C646.4,313 646.7,313.2 647,313.7C647.3,314.1 647.5,314.7 647.7,315.5C647.9,316.3 648,317.1 648,318Z" fill="#d9ffc8"/>
<path d="M788,112C788.7,110.3 791.7,108 794,107C796.3,106 799.3,105.8 802,106C804.7,106.2 808.3,106.7 810,108C811.7,109.3 812.7,112.5 812,114C811.3,115.5 808.3,116.3 806,117C803.7,117.7 800.7,118 798,118C795.3,118 791.7,118 790,117C788.3,116 787.3,113.7 788,112Z" fill="#d9ffc8"/>
<path d="M582,354C582.7,352.6 587.3,352.2 590,352.4C592.7,352.6 596.3,353.7 598,355C599.7,356.3 600.7,358.8 600,360C599.3,361.2 596.3,361.8 594,362C591.7,362.2 588,362.3 586,361C584,359.7 581.3,355.4 582,354Z" fill="#d9ffc8"/>
<path d="M655,234C655.7,230.8 657.2,232.3 659,231C660.8,229.7 663.5,227.5 666,226C668.5,224.5 671.7,223 674,222C676.3,221 678,220.6 680,220C682,219.4 683.7,218.9 686,218.4C688.3,217.9 691.3,217.4 694,216.8C696.7,216.2 699.7,215.7 702,215C704.3,214.3 706,213.3 708,212.4C710,211.5 712,210.6 714,209.6C716,208.6 717.7,207.4 720,206.4C722.3,205.4 725,205 728,203.6C731,202.2 735.2,199.4 738,198C740.8,196.6 742.2,196.1 745,195C747.8,193.9 751.7,192.7 755,191.4C758.3,190.1 762.3,188.7 765,187C767.7,185.3 768.8,182.8 771,181C773.2,179.2 775.3,177.2 778,176C780.7,174.8 783.8,174.5 787,174C790.2,173.5 794,173.5 797,173C800,172.5 803,172.2 805,171C807,169.8 808.2,167.8 809,166C809.8,164.2 809.5,162.3 810,160C810.5,157.7 812,154.3 812,152C812,149.7 811,148 810,146C809,144 806.7,142 806,140C805.3,138 791,135 806,134C821,133 881,133 896,134C911,135 897.3,138.2 896,140C894.7,141.8 891,144 888,145C885,146 881,145.8 878,146C875,146.2 873.3,145.7 870,146C866.7,146.3 861.3,147.2 858,148C854.7,148.8 852.3,149.7 850,151C847.7,152.3 844.3,154.5 844,156C843.7,157.5 846.3,158.3 848,160C849.7,161.7 852.7,163.7 854,166C855.3,168.3 855.6,171.3 856,174C856.4,176.7 856.7,179.3 856.4,182C856.1,184.7 855.1,187.5 854,190C852.9,192.5 851.3,195 850,197C848.7,199 847,200 846,202C845,204 845.3,207.3 844,209C842.7,210.7 840.3,211 838,212C835.7,213 832.7,214.2 830,215C827.3,215.8 824.3,216.2 822,217C819.7,217.8 818,219 816,220C814,221 812,222 810,223C808,224 806,225.2 804,226C802,226.8 800.3,227.2 798,228C795.7,228.8 792.3,230 790,231C787.7,232 786,232.8 784,234C782,235.2 780,236.7 778,238C776,239.3 774,240.7 772,242C770,243.3 768,244.8 766,246C764,247.2 762,248.2 760,249C758,249.8 756.3,250.5 754,251C751.7,251.5 748.7,251.5 746,252C743.3,252.5 740.7,253.8 738,254C735.3,254.2 732.3,252.5 730,253C727.7,253.5 726.3,255.7 724,257C721.7,258.3 718.7,259.5 716,261C713.3,262.5 710.7,264.2 708,266C705.3,267.8 702.3,270.2 700,272C697.7,273.8 696.3,275.3 694,277C691.7,278.7 688.7,280.5 686,282C683.3,283.5 680.7,284.8 678,286C675.3,287.2 672.7,287.8 670,289C667.3,290.2 664.3,291.5 662,293C659.7,294.5 658,297 656,298C654,299 651.3,299.3 650,299C648.7,298.7 648,297.5 648,296C648,294.5 649,291.7 650,290C651,288.3 652.8,287.3 654,286C655.2,284.7 656.7,284 657,282C657.3,280 655.9,277.3 655.6,274C655.3,270.7 655.1,266 655,262C654.9,258 655,254.7 655,250C655,245.3 654.3,237.2 655,234Z" fill="#96ff96"/>
<path d="M635,320C635,320.8 634.9,321.5 634.6,322.2C634.3,322.9 634,323.4 633.5,323.8C633,324.2 632.5,324.4 632,324.4C631.5,324.4 631,324.2 630.5,323.8C630,323.4 629.7,322.9 629.4,322.2C629.1,321.5 629,320.8 629,320C629,319.2 629.1,318.5 629.4,317.8C629.7,317.1 630,316.6 630.5,316.2C631,315.8 631.5,315.6 632,315.6C632.5,315.6 633,315.8 633.5,316.2C634,316.6 634.3,317.1 634.6,317.8C634.9,318.5 635,319.2 635,320Z" fill="#96ff96"/>
<path d="M670.6,327.6C670.6,328.3 670.5,329 670.2,329.6C669.9,330.2 669.6,330.7 669.1,331.1C668.6,331.4 668.1,331.6 667.6,331.6C667.1,331.6 666.6,331.4 666.1,331.1C665.6,330.7 665.3,330.2 665,329.6C664.7,329 664.6,328.3 664.6,327.6C664.6,326.9 664.7,326.2 665,325.6C665.3,325 665.6,324.5 666.1,324.1C666.6,323.8 667.1,323.6 667.6,323.6C668.1,323.6 668.6,323.8 669.1,324.1C669.6,324.5 669.9,325 670.2,325.6C670.5,326.2 670.6,326.9 670.6,327.6Z" fill="#96ff96"/>
<path d="M790,152C774.7,150.3 792.3,144.5 794,142C795.7,139.5 798,138.3 800,137C802,135.7 804.3,135.5 806,134C807.7,132.5 809.5,130 810,128C810.5,126 808.7,123.7 809,122C809.3,120.3 810.5,119 812,118C813.5,117 816.7,117.3 818,116C819.3,114.7 820.3,111.8 820,110C819.7,108.2 817.7,106.2 816,105C814.3,103.8 812.3,103.4 810,103C807.7,102.6 804.3,102.8 802,102.4C799.7,102 796.5,101.3 796,100.4C795.5,99.5 797.3,98.2 799,97C800.7,95.8 803.2,94 806,93C808.8,92 813,91.5 816,91C819,90.5 821.7,90.3 824,90C826.3,89.7 828.3,88.8 830,89C831.7,89.2 832,90.3 834,91C836,91.7 839.3,92.5 842,93C844.7,93.5 847,94 850,94C853,94 856.7,93.2 860,93C863.3,92.8 867,92.5 870,93C873,93.5 875.7,94.8 878,96C880.3,97.2 882.3,98 884,100C885.7,102 887,105.3 888,108C889,110.7 890,113.3 890,116C890,118.7 888,121.3 888,124C888,126.7 889.3,129.3 890,132C890.7,134.7 892.4,137.3 892.4,140C892.4,142.7 891.1,146 890,148C888.9,150 902.7,151.3 886,152C869.3,152.7 805.3,153.7 790,152Z" fill="#96ff96"/>
<path d="M579,356C579.5,354.2 582,354.3 583,355C584,355.7 583.8,358.8 585,360C586.2,361.2 587.8,361.8 590,362C592.2,362.2 595.7,361.3 598,361C600.3,360.7 602,359.8 604,360C606,360.2 608.7,360.7 610,362C611.3,363.3 611,367.7 612,368C613,368.3 614.3,365.3 616,364C617.7,362.7 619.7,360 622,360C624.3,360 627.7,362.7 630,364C632.3,365.3 635.3,366.3 636,368C636.7,369.7 635,372.2 634,374C633,375.8 631.7,377.7 630,379C628.3,380.3 626,381.2 624,382C622,382.8 621,383.3 618,383.6C615,383.9 609.7,384.1 606,384C602.3,383.9 599,383.8 596,383C593,382.2 590.2,380.7 588,379C585.8,377.3 584.3,375.2 583,373C581.7,370.8 580.7,368.8 580,366C579.3,363.2 578.5,357.8 579,356Z" fill="#96ff96"/>
<path d="M655.6,235C656.8,232.2 660.3,232.8 662,233C663.7,233.2 664.7,234.8 666,236C667.3,237.2 668.7,239.7 670,240C671.3,240.3 672.7,239 674,238C675.3,237 676.7,236 678,234C679.3,232 680.3,228 682,226C683.7,224 685.7,223 688,222C690.3,221 693.3,220.8 696,220C698.7,219.2 701.7,218 704,217C706.3,216 708,215 710,214C712,213 714,212.2 716,211C718,209.8 719.7,208 722,207C724.3,206 727.3,206 730,205C732.7,204 735.5,202 738,201C740.5,200 742.8,199.8 745,199C747.2,198.2 748.5,196.8 751,196C753.5,195.2 757.2,195 760,194C762.8,193 765.7,191.7 768,190C770.3,188.3 772.5,185.7 774,184C775.5,182.3 775.8,181 777,180C778.2,179 778.8,178.5 781,178C783.2,177.5 787.3,177 790,177C792.7,177 794.8,178.2 797,178C799.2,177.8 801.3,176.8 803,176C804.7,175.2 805.9,174.3 807,173C808.1,171.7 809.1,169.5 809.6,168C810.1,166.5 809.6,165.8 810,164C810.4,162.2 811.3,159 812,157C812.7,155 813,153.2 814,152C815,150.8 816.7,149.5 818,150C819.3,150.5 820.7,153.3 822,155C823.3,156.7 824.3,158.8 826,160C827.7,161.2 830.3,161 832,162C833.7,163 834.3,165.7 836,166C837.7,166.3 840.3,164.8 842,164C843.7,163.2 844.3,160.8 846,161C847.7,161.2 850.5,163.2 852,165C853.5,166.8 854.4,169.5 855,172C855.6,174.5 855.9,177.3 855.6,180C855.3,182.7 853.9,185.7 853,188C852.1,190.3 851.2,192 850,194C848.8,196 847.3,198 846,200C844.7,202 843.7,204.5 842,206C840.3,207.5 838,208 836,209C834,210 832.3,211 830,212C827.7,213 824.3,214.2 822,215C819.7,215.8 818,216.2 816,217C814,217.8 812,219 810,220C808,221 806,222.2 804,223C802,223.8 800.3,224.2 798,225C795.7,225.8 792.3,227 790,228C787.7,229 786,229.8 784,231C782,232.2 780,233.7 778,235C776,236.3 774,237.7 772,239C770,240.3 768,241.8 766,243C764,244.2 762,245.2 760,246C758,246.8 756.3,247.5 754,248C751.7,248.5 748.7,248.5 746,249C743.3,249.5 740.7,250 738,251C735.3,252 732.3,253.7 730,255C727.7,256.3 726.3,257.7 724,259C721.7,260.3 718.7,261.5 716,263C713.3,264.5 710.7,266.2 708,268C705.3,269.8 702.3,271.9 700,273.6C697.7,275.3 696.3,276.8 694,278.4C691.7,280 688.7,281.9 686,283.4C683.3,284.9 680.7,286.2 678,287.4C675.3,288.6 672.3,289.7 670,290.6C667.7,291.5 666,293.1 664,293C662,292.9 659.2,291.8 658,290C656.8,288.2 657.4,284.7 657,282C656.6,279.3 655.9,277.3 655.6,274C655.3,270.7 655.1,266 655,262C654.9,258 654.9,254.5 655,250C655.1,245.5 654.4,237.8 655.6,235Z" fill="#64ffff"/>
<path d="M792,102C791.7,100.7 794,98.5 796,97C798,95.5 801,93.9 804,93C807,92.1 810.7,92 814,91.6C817.3,91.2 821.3,90.7 824,90.4C826.7,90.1 828.3,89.4 830,89.6C831.7,89.8 832,90.9 834,91.6C836,92.3 839.3,93.1 842,93.6C844.7,94.1 847,94.4 850,94.4C853,94.4 856.7,93.7 860,93.6C863.3,93.5 867,93.4 870,94C873,94.6 876,95.8 878,97C880,98.2 881.7,99.5 882,101C882.3,102.5 880,104.2 880,106C880,107.8 881,110.7 882,112C883,113.3 884.7,113.3 886,114C887.3,114.7 890,115.3 890,116C890,116.7 888,117.7 886,118C884,118.3 880.7,117.8 878,118C875.3,118.2 872.7,118.7 870,119C867.3,119.3 864.7,119.7 862,120C859.3,120.3 856.7,120.7 854,121C851.3,121.3 848.7,122 846,122C843.3,122 840.3,121.5 838,121C835.7,120.5 833.7,119.8 832,119C830.3,118.2 829.3,117.2 828,116C826.7,114.8 825.3,113.3 824,112C822.7,110.7 821.7,109 820,108C818.3,107 816.3,106.5 814,106C811.7,105.5 808.7,105.2 806,105C803.3,104.8 800.3,105.5 798,105C795.7,104.5 792.3,103.3 792,102Z" fill="#64ffff"/>
<path d="M796,140C797,138.3 799.7,137.3 802,136C804.3,134.7 807.7,133.3 810,132C812.3,130.7 813.7,128.5 816,128C818.3,127.5 821.7,128.7 824,129C826.3,129.3 827.7,129.7 830,130C832.3,130.3 836,130.3 838,131C840,131.7 842,132.8 842,134C842,135.2 840,137 838,138C836,139 832.3,139 830,140C827.7,141 826,142.7 824,144C822,145.3 819.7,146.7 818,148C816.3,149.3 817.3,151.3 814,152C810.7,152.7 801,153 798,152C795,151 796.3,148 796,146C795.7,144 795,141.7 796,140Z" fill="#64ffff"/>
<path d="M850,144C851.7,142.7 856.7,142.2 860,142C863.3,141.8 867.7,142.3 870,143C872.3,143.7 874,144.8 874,146C874,147.2 872.3,149 870,150C867.7,151 863.3,152 860,152C856.7,152 851.7,151.3 850,150C848.3,148.7 848.3,145.3 850,144Z" fill="#64ffff"/>
<path d="M882,140C883,139 888,138.7 890,139C892,139.3 894,140.8 894,142C894,143.2 891.7,145.5 890,146C888.3,146.5 885.3,146 884,145C882.7,144 881,141 882,140Z" fill="#64ffff"/>
<path d="M581,366C581.5,364.6 583.8,364.3 586,364C588.2,363.7 591.7,363.5 594,364C596.3,364.5 598.5,365.3 600,367C601.5,368.7 602.2,371.5 603,374C603.8,376.5 605.5,380.3 605,382C604.5,383.7 601.8,383.9 600,384C598.2,384.1 596,383.3 594,382.4C592,381.5 589.8,380.1 588,378.4C586.2,376.7 584.2,374.5 583,372.4C581.8,370.3 580.5,367.4 581,366Z" fill="#64ffff"/>
<path d="M615,375C615.3,373.3 618.2,373.8 620,373C621.8,372.2 624,370.7 626,370C628,369.3 630.7,368.3 632,369C633.3,369.7 634.3,372.3 634,374C633.7,375.7 631.7,377.7 630,379C628.3,380.3 626,381.3 624,382C622,382.7 619.5,384.2 618,383C616.5,381.8 614.7,376.7 615,375Z" fill="#64ffff"/>
<path d="M656,253.6C657.2,252.9 662,252.3 665,252C668,251.7 672,252.3 674,251.6C676,250.9 676.3,249.3 677,248C677.7,246.7 677.5,245.3 678,244C678.5,242.7 678,241.3 680,240C682,238.7 687,237 690,236C693,235 694.7,234.8 698,234C701.3,233.2 706.3,231.8 710,231C713.7,230.2 717.3,230.2 720,229C722.7,227.8 725.3,225.8 726,224C726.7,222.2 724,220 724,218C724,216 724.7,213.7 726,212C727.3,210.3 729.7,208.8 732,208C734.3,207.2 739,208.2 740,207C741,205.8 737,202.5 738,201C739,199.5 744,199 746,198C748,197 748.3,195.7 750,195C751.7,194.3 754,193.7 756,194C758,194.3 759.7,197.3 762,197C764.3,196.7 767.3,194 770,192C772.7,190 776.8,187 778,185C779.2,183 776.3,181.2 777,180C777.7,178.8 780.2,178.2 782,178C783.8,177.8 786,178.2 788,179C790,179.8 792.3,182 794,183C795.7,184 796.3,184.3 798,185C799.7,185.7 802.7,185.8 804,187C805.3,188.2 805,190.7 806,192C807,193.3 808,194.3 810,195C812,195.7 815.7,196.8 818,196C820.3,195.2 822.3,191.8 824,190C825.7,188.2 827,186.7 828,185C829,183.3 828.7,181.5 830,180C831.3,178.5 834,177.3 836,176C838,174.7 840.7,174 842,172C843.3,170 843,165.7 844,164C845,162.3 846.7,161.7 848,162C849.3,162.3 851,164.3 852,166C853,167.7 853.6,169.7 854,172C854.4,174.3 854.7,177.3 854.4,180C854.1,182.7 852.9,185.7 852,188C851.1,190.3 850.2,192 849,194C847.8,196 846.5,198.2 845,200C843.5,201.8 841.8,203.7 840,205C838.2,206.3 836.3,207 834,208C831.7,209 828.7,210.2 826,211C823.3,211.8 820.7,212.2 818,213C815.3,213.8 812.7,215 810,216C807.3,217 804.7,218 802,219C799.3,220 796.7,220.8 794,222C791.3,223.2 788.3,224.8 786,226C783.7,227.2 782,227.8 780,229C778,230.2 776,231.8 774,233C772,234.2 770,235.2 768,236C766,236.8 764,237.3 762,238C760,238.7 758,239.3 756,240C754,240.7 752.3,241.2 750,242C747.7,242.8 745.3,244.2 742,245C738.7,245.8 733,244.5 730,247C727,249.5 726.3,257.1 724,260C721.7,262.9 718.7,262.8 716,264.4C713.3,266 710.7,267.7 708,269.4C705.3,271.1 702.5,273 700,274.6C697.5,276.2 695.3,277.4 693,279C690.7,280.6 688.5,282.5 686,284C683.5,285.5 680.7,286.8 678,288C675.3,289.2 672.3,290.5 670,291C667.7,291.5 665.7,291.7 664,291C662.3,290.3 660.8,288.5 660,287C659.2,285.5 658.8,283.8 659,282C659.2,280.2 660.3,278.3 661,276C661.7,273.7 663,270.7 663,268C663,265.3 661.8,262 661,260C660.2,258 658.8,257.1 658,256C657.2,254.9 654.8,254.3 656,253.6Z" fill="#00c8ff"/>
<path d="M796,98C796.7,96.7 799.7,94.9 802,94C804.3,93.1 807.3,92.8 810,92.4C812.7,92 815.3,91.7 818,91.6C820.7,91.5 824,91.4 826,92C828,92.6 829.7,93.8 830,95C830.3,96.2 829.3,98 828,99C826.7,100 824.3,100.8 822,101C819.7,101.2 816.7,99.9 814,100C811.3,100.1 808.7,101.3 806,101.6C803.3,101.9 799.7,102.2 798,101.6C796.3,101 795.3,99.3 796,98Z" fill="#00c8ff"/>
<path d="M831,97C831.3,95.7 834.2,95.2 836,95C837.8,94.8 839.7,95.5 842,96C844.3,96.5 847.3,97.3 850,98C852.7,98.7 855.3,99.3 858,100C860.7,100.7 863.3,101.3 866,102C868.7,102.7 871.8,103.5 874,104C876.2,104.5 878.3,104 879,105C879.7,106 877.5,108.5 878,110C878.5,111.5 882,112.8 882,114C882,115.2 880,116.5 878,117C876,117.5 872.7,117.2 870,117C867.3,116.8 864.7,115.7 862,116C859.3,116.3 856.7,118.3 854,119C851.3,119.7 848.5,120.2 846,120C843.5,119.8 841,119 839,118C837,117 835.2,115.7 834,114C832.8,112.3 832,109.8 832,108C832,106.2 834.2,104.8 834,103C833.8,101.2 830.7,98.3 831,97Z" fill="#00c8ff"/>
<path d="M810,130C810.7,129 814,127.8 816,128C818,128.2 820.3,129.8 822,131C823.7,132.2 826,133.8 826,135C826,136.2 823.7,137.7 822,138C820.3,138.3 817.7,137.7 816,137C814.3,136.3 813,135.2 812,134C811,132.8 809.3,131 810,130Z" fill="#00c8ff"/>
<path d="M588,370C588.5,368.3 590.5,366.5 592,366C593.5,365.5 595.8,365.8 597,367C598.2,368.2 598.8,371 599,373C599.2,375 599,377.8 598,379C597,380.2 594.5,380.5 593,380C591.5,379.5 589.8,377.7 589,376C588.2,374.3 587.5,371.7 588,370Z" fill="#00c8ff"/>
<path d="M630,375C630,375.7 629.9,376.4 629.6,377C629.3,377.6 629,378.1 628.5,378.5C628,378.8 627.5,379 627,379C626.5,379 626,378.8 625.5,378.5C625,378.1 624.7,377.6 624.4,377C624.1,376.4 624,375.7 624,375C624,374.3 624.1,373.6 624.4,373C624.7,372.4 625,371.9 625.5,371.5C626,371.2 626.5,371 627,371C627.5,371 628,371.2 628.5,371.5C629,371.9 629.3,372.4 629.6,373C629.9,373.6 630,374.3 630,375Z" fill="#00c8ff"/>
<path d="M666,253.6C668,252.9 670.7,252.9 673,253C675.3,253.1 678.3,254.5 680,254C681.7,253.5 682.3,251.3 683,250C683.7,248.7 683.5,247.7 684,246C684.5,244.3 684.3,241.5 686,240C687.7,238.5 691.3,237.8 694,237C696.7,236.2 699.3,235.7 702,235C704.7,234.3 707,233.7 710,233C713,232.3 716.7,231.7 720,231C723.3,230.3 726.7,229.5 730,229C733.3,228.5 736.7,228 740,228C743.3,228 747.7,229.7 750,229C752.3,228.3 752.3,225.5 754,224C755.7,222.5 758.3,221.3 760,220C761.7,218.7 762.3,217.3 764,216C765.7,214.7 768.3,213.7 770,212C771.7,210.3 773.7,208 774,206C774.3,204 771.7,201.7 772,200C772.3,198.3 774.8,197.3 776,196C777.2,194.7 778.2,193.3 779,192C779.8,190.7 779.5,188.8 781,188C782.5,187.2 785.8,186.7 788,187C790.2,187.3 792.3,189.2 794,190C795.7,190.8 796.8,190.8 798,192C799.2,193.2 799.7,195.8 801,197C802.3,198.2 804.2,198.7 806,199C807.8,199.3 809.7,199.2 812,199C814.3,198.8 817.7,199.2 820,198C822.3,196.8 824,193.7 826,192C828,190.3 830,188.8 832,188C834,187.2 836,186.5 838,187C840,187.5 842.7,189.5 844,191C845.3,192.5 846.2,194.3 846,196C845.8,197.7 844.3,199.7 843,201C841.7,202.3 839.8,203 838,204C836.2,205 834,206.2 832,207C830,207.8 828.3,208.3 826,209C823.7,209.7 820.7,210.8 818,211C815.3,211.2 812.3,210.3 810,210C807.7,209.7 806,208.8 804,209C802,209.2 799.7,209.8 798,211C796.3,212.2 795.7,214.5 794,216C792.3,217.5 790,219 788,220C786,221 784,221.3 782,222C780,222.7 778,223 776,224C774,225 772,226.8 770,228C768,229.2 766.3,230.3 764,231C761.7,231.7 758.3,231.3 756,232C753.7,232.7 752.3,233.7 750,235C747.7,236.3 745.3,238.5 742,240C738.7,241.5 733.3,241 730,244C726.7,247 724.7,255 722,258C719.3,261 716.7,260.5 714,262C711.3,263.5 708.5,265.3 706,267C703.5,268.7 701.2,270.4 699,272C696.8,273.6 695.2,275.1 693,276.4C690.8,277.7 688.5,278.7 686,280C683.5,281.3 680.7,282.8 678,284C675.3,285.2 672.3,286.5 670,287C667.7,287.5 665.3,287.7 664,287C662.7,286.3 662.2,284.5 662,283C661.8,281.5 662.6,280.2 663,278C663.4,275.8 664.2,272.8 664.4,270C664.6,267.2 664.6,263.2 664,261C663.4,258.8 660.7,258.2 661,257C661.3,255.8 664,254.3 666,253.6Z" fill="#0064ff"/>
<path d="M749,198C749.7,196.6 752.2,195.8 754,195.6C755.8,195.4 758.6,196.1 760,197C761.4,197.9 762.4,199.6 762.4,201C762.4,202.4 761.4,204.6 760,205.6C758.6,206.6 755.7,207.3 754,207C752.3,206.7 750.4,205.5 749.6,204C748.8,202.5 748.3,199.4 749,198Z" fill="#0064ff"/>
<path d="M816,96C816,96.5 815.8,97 815.3,97.5C814.9,98 814.3,98.3 813.5,98.6C812.7,98.9 811.9,99 811,99C810.1,99 809.3,98.9 808.5,98.6C807.7,98.3 807.1,98 806.7,97.5C806.2,97 806,96.5 806,96C806,95.5 806.2,95 806.7,94.5C807.1,94 807.7,93.7 808.5,93.4C809.3,93.1 810.1,93 811,93C811.9,93 812.7,93.1 813.5,93.4C814.3,93.7 814.9,94 815.3,94.5C815.8,95 816,95.5 816,96Z" fill="#0064ff"/>
<path d="M838.8,102C838.8,102.4 838.7,102.7 838.5,103C838.3,103.3 838,103.5 837.6,103.7C837.2,103.9 836.8,104 836.4,104C836,104 835.6,103.9 835.2,103.7C834.8,103.5 834.5,103.3 834.3,103C834.1,102.7 834,102.4 834,102C834,101.6 834.1,101.3 834.3,101C834.5,100.7 834.8,100.5 835.2,100.3C835.6,100.1 836,100 836.4,100C836.8,100 837.2,100.1 837.6,100.3C838,100.5 838.3,100.7 838.5,101C838.7,101.3 838.8,101.6 838.8,102Z" fill="#0064ff"/>
<path d="M837,113C837.5,111.8 839.8,110.5 842,110C844.2,109.5 848.2,109.5 850,110C851.8,110.5 853,111.8 853,113C853,114.2 851.7,116.1 850,117C848.3,117.9 844.8,118.4 843,118.4C841.2,118.4 840,117.9 839,117C838,116.1 836.5,114.2 837,113Z" fill="#0064ff"/>
<path d="M870.4,105.6C870.4,105.9 870.3,106.1 870.1,106.4C869.9,106.7 869.6,106.8 869.2,107C868.8,107.1 868.4,107.2 868,107.2C867.6,107.2 867.2,107.1 866.8,107C866.4,106.8 866.1,106.7 865.9,106.4C865.7,106.1 865.6,105.9 865.6,105.6C865.6,105.3 865.7,105.1 865.9,104.8C866.1,104.5 866.4,104.4 866.8,104.2C867.2,104.1 867.6,104 868,104C868.4,104 868.8,104.1 869.2,104.2C869.6,104.4 869.9,104.5 870.1,104.8C870.3,105.1 870.4,105.3 870.4,105.6Z" fill="#0064ff"/>
<path d="M760,217C760,215.8 764,214.2 766,213C768,211.8 770.2,211.2 772,210C773.8,208.8 776,207.7 777,206C778,204.3 777.3,200.7 778,200C778.7,199.3 780.3,200.8 781,202C781.7,203.2 780.7,206 782,207C783.3,208 787.5,207 789,208C790.5,209 790.8,211.3 791,213C791.2,214.7 791,216.7 790,218C789,219.3 787,220.3 785,221C783,221.7 780.2,222 778,222C775.8,222 774,221.3 772,221C770,220.7 768,220.7 766,220C764,219.3 760,218.2 760,217Z" fill="#9164ff"/>
<path d="M738,235.6C738.3,234.4 740.3,234.4 742,233.6C743.7,232.8 746,231.6 748,231C750,230.4 752,229.8 754,230C756,230.2 758.7,231.2 760,232C761.3,232.8 762.3,234 762,235C761.7,236 759.7,237.3 758,238C756.3,238.7 754,238.7 752,239C750,239.3 748,239.7 746,240C744,240.3 741.3,241.7 740,241C738.7,240.3 737.7,236.8 738,235.6Z" fill="#9164ff"/>
<path d="M729,239.5C729.5,238.8 731.5,238.8 733,238.5C734.5,238.2 736.8,237.8 738,238C739.2,238.2 740.2,239.2 740,240C739.8,240.8 738.2,242.3 737,243C735.8,243.7 734.2,244.1 733,244C731.8,243.9 730.7,243.2 730,242.5C729.3,241.8 728.5,240.2 729,239.5Z" fill="#9164ff"/>
<path d="M664.5,259C665.4,257.9 668.2,257.8 670,257.5C671.8,257.2 673.3,256.9 675,257C676.7,257.1 678.8,257.5 680,258C681.2,258.5 682,259.2 682,260C682,260.8 680.7,262.2 680,263C679.3,263.8 677.8,264.5 678,265C678.2,265.5 680.2,265.3 681,266C681.8,266.7 682.8,268 683,269C683.2,270 682.8,271 682,272C681.2,273 679.3,274 678,275C676.7,276 675.3,277.2 674,278C672.7,278.8 671.5,279.5 670,280C668.5,280.5 666.4,281 665,281C663.6,281 661.9,280.8 661.5,280C661.1,279.2 662.1,277.7 662.5,276C662.9,274.3 663.7,272 664,270C664.3,268 664.4,265.8 664.5,264C664.6,262.2 663.6,260.1 664.5,259Z" fill="#9164ff"/>
<path d="M692,252.5C693,251.8 694.8,251.9 696,252C697.2,252.1 698.3,252.3 699,253C699.7,253.7 699.2,255.3 700,256C700.8,256.7 702.5,257.5 704,257C705.5,256.5 707.7,253.3 709,253C710.3,252.7 711.8,254.2 712,255C712.2,255.8 711.2,257 710,258C708.8,259 706.3,260.2 705,261C703.7,261.8 702.8,262.2 702,263C701.2,263.8 700.8,265.2 700,266C699.2,266.8 698,267.3 697,268C696,268.7 695,269.7 694,270C693,270.3 692,270.2 691,270C690,269.8 688.8,269.7 688,269C687.2,268.3 686.5,267.2 686,266C685.5,264.8 684.8,263.2 685,262C685.2,260.8 686.2,260 687,259C687.8,258 689.2,257.1 690,256C690.8,254.9 691,253.2 692,252.5Z" fill="#9164ff"/>
<path d="M749,234C749.7,233.1 752.7,232.2 754,232.4C755.3,232.6 757,234.1 757,235C757,235.9 755.2,237.6 754,238C752.8,238.4 750.8,238.3 750,237.6C749.2,236.9 748.3,234.9 749,234Z" fill="#dc64ff"/>
<path d="M661.5,277.5C662.1,276.8 663.8,275.8 665,275C666.2,274.2 667.8,273 669,272.5C670.2,272 671.2,271.8 672,272C672.8,272.2 674,273.2 674,274C674,274.8 673,275.8 672,276.5C671,277.2 669.3,277.9 668,278.5C666.7,279.1 665.1,279.8 664,280C662.9,280.2 661.6,279.9 661.2,279.5C660.8,279.1 660.9,278.2 661.5,277.5Z" fill="#dc64ff"/>
<path d="M661.2,277.2L665.5,277L665.7,278.8L661.2,279Z" fill="#ff00ff"/>
<path d="M850,126C851.3,124.8 856.7,123.7 860,123C863.3,122.3 868,121.5 870,122C872,122.5 872.7,124.7 872,126C871.3,127.3 868.3,129 866,130C863.7,131 860.3,132 858,132C855.7,132 853.3,131 852,130C850.7,129 848.7,127.2 850,126Z" fill="#d9ffc8"/>
<path d="M866,138C866.7,136.8 871,135.8 874,135C877,134.2 881.3,133 884,133C886.7,133 889.3,134 890,135C890.7,136 890,138 888,139C886,140 881,140.5 878,141C875,141.5 872,142.5 870,142C868,141.5 865.3,139.2 866,138Z" fill="#d9ffc8"/>
<path d="M810,161C811.7,159.5 815,159.2 818,159C821,158.8 825.3,159.3 828,160C830.7,160.7 832.8,161.7 834,163C835.2,164.3 835.7,166.8 835,168C834.3,169.2 832.2,169.5 830,170C827.8,170.5 824.3,170.4 822,171C819.7,171.6 818,173.3 816,173.6C814,173.9 811.3,173.9 810,173C808.7,172.1 808,170 808,168C808,166 808.3,162.5 810,161Z" fill="#96ff96"/>
<path d="M618.4,31.5V414.5M682.3,31.5V414.5M746.1,31.5V414.5M809.9,31.5V414.5M873.8,31.5V414.5" fill="none" stroke="#1a0d00" stroke-opacity="0.25" stroke-width="1.0"/>
<path d="M555.5,349.7H938.5M555.5,285.8H938.5M555.5,222H938.5M555.5,158.2H938.5M555.5,94.3H938.5" fill="none" stroke="#1a0d00" stroke-opacity="0.25" stroke-width="1.0"/>
<path d="M687,70.6L688.5,69.3L690,68L691.4,67.5L692.8,67.3L694,66.4L695.5,66.2L697,66L698.5,65.9L700,65.6L701.5,65.2L703,65.3L704.5,65.3L706,65L708.1,64.5L710,63.6L711.3,62L713,61L714.4,59.4L716,58L717.1,56.9L718.8,56.6L720,55.6L721.6,55.3L722.9,54.2L724.6,54.5L726,53.6L727.6,53.6L729,52.9L730.5,52.5L732,52L733.6,51.5L735.1,51.2L736.8,51.4L738.4,50.8L740,51L741.7,50.2L743.4,49.8L745.1,49.1L747,49L748.7,48.1L750.3,47.2L752,46.4L753.6,46.4L755,45.7L756.5,45.5L758,45L759.3,44L760.8,43.1L762,42L763,40.6L763.8,39.2L765,38L766.3,37.1L767,35.6L769,35L770,33.6L768,32.4L766.4,32.5L765,33.4M696.6,59.6L698.4,60L700.2,60.1L702,60L703.5,59.7L705,59.6L706.5,59.5L708,59.6L709.6,59.2L711.2,59.7L712.8,59.4L714.4,59.4M708.4,92L709.4,91.2L710,90L712,89.6L714,89.4L715.9,90.3L718,90.4L718.2,91.8L719,93L718.7,94.7L717.6,96L716.5,97.7L715,99L713.6,99.2L712.4,100L711.2,99.2L710,98.4L709.9,97L709,96L708,94ZM618,115.6L616.4,117L617.6,118.6M672.4,149.4L674.2,148.7L676,147.8L678,147.6L679.1,145.9L680,144L679.7,141.9L679,140L679.3,137.9L680,136L680.7,134.4L681.9,133.2L683,132L684.9,131.4L686.5,130.2L688,129L689.1,127.7L690.5,126.8L692,126L692.7,124.7L694,124L695.6,124.1L697,125L698.7,123.7L700,122L701.3,120.3L703,119L704.5,117.5L706,116L707.5,116L709,116L709.8,117.4L710,119L711.4,120.2L713,121L714.4,120.4L716,120.4L717.3,121.4L718.9,121.8L720,123L722,123.2L724,123.6L725.4,123L726.9,122.6L728.6,122.8L730,122L731.6,121.8L732.9,120.8L734.6,120.8L736,120L737.4,119L739,118.4L740.6,118L742,117L743.6,116.1L744.8,114.7L746.7,114.4L748,113L748.8,111.4L750,110L751.2,108.8L752.8,108.2L754,107L754.9,105.7L755.9,104.4L756.7,103L758,102L759.1,100.4L760.7,99.4L762,98L763.2,97L764.7,96.5L766,95.6L767.1,94.4L768.4,93.3L769.9,92.5L770.8,91.1L772,90L773.2,89.1L774.6,88.3L775.4,86.8L776.6,85.8L778,85L779.5,84.3L780.7,83.2L781.6,81.8L783,81L784.1,79.6L785.7,78.7L787,77.5L788,76L788.8,74.3L790.3,73.2L791.3,71.7L792,70L793.1,68.8L793.9,67.5L794.7,66L796,65L796.7,63.5L798.3,62.8L798.8,61.1L800,60L801.4,58.9L802.3,57.3L804,56.5L805,55L806.3,54.1L807.4,52.9L808.6,51.8L810,51L811.2,49.8L811.7,48.1L813,47L813.1,45.3L813.7,43.7L814,42L815,40.8L815.4,39.4L816,38L816.1,36.3L817,34.7L817,33L816.4,31M838,31L838,32.8L837.9,34.6L837.5,36.3L837,38L836.4,39.7L836,41.5L835,43L834.8,45.1L834,47L834.8,48.3L835.3,49.7L836,51L837,52.2L837.4,53.6L838,55L838,56.7L838.2,58.4L839,60L838.2,61.6L837.5,63.3L837,65L836.3,66.6L836,68.5L835,70L835.1,71.7L834.8,73.4L834,75L834,76.7L834.5,78.4L835,80L835.7,81.5L837,82.4L837.6,80.7L839.1,79.5L840,78L841.5,76.5L843,75L844.6,74.2L846,73L848,72.5L850,72.4L851.3,73.6L853,74L854.3,75.3L855,77L854.5,79L854,81L853.7,79.4L853,78L852.8,76.4L852,75L851.5,73.6L850.8,72.3L850,71L849.2,69.5L848.3,68.1L847,67L846.2,65.7L845.8,64.3L845,63L844.7,61.5L844,60.2L843,59L842.9,57.3L843.3,55.7L843,54L843.8,52.4L844,50.7L844.4,49L845.4,47.4L846,45.6L847,44L848.6,42.6L850,41L851.7,40.6L853.2,39.7L855,39.6L856.7,39.5L858.4,39.6L860,39L861.9,39.8L864,40L865.4,41.6L867,43L868.6,44.4L870,46L871,47.6L870.2,45.7L869,44L868.4,42.6L867.6,41.4L867,40L866.6,38.5L865.3,37.5L865,36L864.5,34.2L863.3,32.8L863,31M832,88L833.3,88.7L834.7,89.3L836,90L837.4,90.8L838.3,92.1L839.6,93L840.7,94.1L842,95L843.3,96.3L845.1,96.8L846.7,97.6L848,99L849.6,99.9L850.9,101.1L852.6,101.8L854,103L855.7,103.3L857.1,104.5L858.7,104.9L860.4,105.4L862,106L863.5,106.7L865.2,106.6L866.8,107.3L868.5,107.3L870,108L871.6,107.3L873.4,106.9L875,106L876.6,105.3L877.9,104.3L879,103L878.4,104.7L877.6,106.3L877,108L877.5,109.6L878,111.3L878,113L879.3,114L880.5,115.2L882,116L883.3,115.8L884.4,115L882.9,115.5L881.3,116L880,117L878.6,117.7L877.1,118.3L875.5,118.5L874,119L872.5,119.4L871,119.8L869.5,119.8L868,120L866.5,120.4L865,121L863.6,121.7L862,122L860.5,122.8L859.1,123.7L858,125L856.7,126L855.6,127.3L854,128L853.9,129.6L852.6,130.8L852.4,132.4L850.8,132.3L849.5,131.3L848,131L846.5,130.2L844.9,129.7L843.6,128.5L842,128L840.4,127.9L838.9,127.3L837.5,126.5L836,126L834.5,125.9L833.4,124.7L832,124.4L830.8,125.2L829.5,125.8L828,126L826.8,127L825.3,127.2L824,128L822,127.5L820,127L818,126.4L816,126L814.9,126.9L814,128L815.2,129.2L816.4,130.3L818,131L819.3,131.8L820.8,132.1L822,133L823.5,134L825,135L823.1,135.8L821,136L819.1,136.9L817,137L815.5,138L814,139L812.6,138.3L811,138L810.2,136.1L810,134L809.3,132L809,130L808.4,128.5L808,127L809.1,125.6L810,124L811.3,123L812.7,122.1L814,121L815.7,119.7L817,118L815.9,117.1L815,116L816.6,115.7L818,115L819.9,115.9L822,116L823.9,115.1L826,115L827.8,113.8L829,112L828.7,110L828,108L829.3,106.3L831,105L831.6,103.6L832.4,102.4L833,101L833.2,99.3L832.5,97.7L832.4,96L832.1,94L831.6,92L832.1,90ZM880.4,110L881.8,108.7L883.1,107.3L884,105.6L885.5,104.7L887.1,103.9L888.4,102.7L890,102L892,101.8L894,101.2L893.2,102.6L891.5,103.3L889.9,104.4L888.4,105.4L886.9,106.2L885.9,107.6L884.4,108.4L882.7,109.2L881.4,110.6ZM898.4,100.8L899.9,100L901.1,98.8L902,97.4L903.5,96.5L905.1,95.7L906.4,94.4L908,93.6L909.7,93.2L911.1,92.4L912.4,91.2L914,90.6L915.4,89.7L917,89.5L918.5,89L920,88.4L921.6,88.5L923.2,88.2L922,90L920.5,90.5L919.1,91.4L917.4,91.2L916,92L914.6,93L912.9,92.9L911.6,94.1L910,94.4L908.7,95.5L907,96.2L906,97.7L904.4,98.4L903.1,99.6L901.5,100.3L900,101.2ZM930,86.6L931.5,85.8L932.9,84.8L934,83.6L935.4,83.2L936.8,82.9L938,82L940,81.6L940,83.6L938.5,84.3L936.8,84.6L935.7,86L934,86.4L932.6,87.2L931,87.6ZM810,149L812,148L813,146.5L814,145L815,143L817,142L818.1,142.9L819,144L819.3,145.3L820,146.5L822,147L824,146L824.6,144.5L825,143L824,141L822,140L824,139L825.5,139.5L827,140L829,140.5L829,143L828.7,144.5L829,146L829.4,148L830,150L831.6,151.4L833,153L833.8,154.3L834.1,155.8L835,157L835.2,158.8L836.3,160.3L836.5,162L836.4,163.6L837,165L835.6,166.4L835,168.3L834,170L832.9,171.2L832.2,172.7L831,173.7L830,175L829.3,176.3L828.6,177.6L828,179L826.9,180L825.1,180L824,181L823.3,182.7L822.7,184.4L822,186L822,187.5L822.4,189L822.8,190.5L823,192L822.6,193.5L822.9,195.1L822.2,196.5L822,198L820.6,199.6L819,201L818,202.1L817.3,203.5L817,205L817.5,206.6L817.7,208.3L818,210L819.7,211.3L821,213L820,214.4L818.8,215.5L818,217L816.5,217.7L815.3,219L814,220L812.8,220.9L811.5,221.8L810,222.4L809.1,220.6L808,219L809,217.8L809,216.2L810,215L808.4,215.3L807,216L806.7,217.5L805.9,218.8L805,220L803.4,220.6L801.6,220.5L800,221L799.1,222.7L798.1,224.4L797,226L795.6,224.9L794,224L794.2,222.4L795,221L793.3,221.5L791.8,222.6L790,223L789.3,224.3L788.9,225.8L788,227L786.5,227L785,226.5L783.5,226.3L782,226L780,225.6L778,225L776.3,224.7L774.7,224.3L773,224L771.3,222.7L770,221L768.7,222.7L767,224L767.6,225.4L768.2,226.7L769,228L770.5,229L772,230L770.7,231.3L770,233L768.5,233.4L766.9,233.7L765.6,234.7L764,235L762.5,235.8L761.2,236.8L760,238L758.7,239.1L758.1,240.8L757,242M810,149L809,151L809.7,153L810,155L810.1,157.1L811,159L808.5,159.2L810.1,159.5L811.5,160.2L811.2,161.8L811.5,163.4L812,165L811.6,166.8L810.9,168.4L810,170L808.8,171.6L808.2,173.4L807,175L806.3,176.6L804.8,177.5L804,179L802.8,180.2L801.4,181.2L800.6,182.8L799.3,183.9L798,185L796.4,185.9L795.2,187.4L793.6,188.2L792,189L790.4,189.9L788.8,190.7L787.3,191.6L786,193L784.7,194.3L783,195L781.4,195.8L780,197L778.5,198L777,199L776.5,197.6L775.4,196.4L774.7,195.1L774.4,193.6L775.1,191.6L776.4,190L774.8,190.9L773,191L771.5,192.5L770,194L771,195.7L771.9,197.4L773,199L771.7,200.7L770,202M788.4,181.6L789.2,180.6L790.4,180L791.2,181.1L791.6,182.4L790.5,183.9L790,185.6L788,184.4L788.6,183.1ZM556,157L557.8,155.8L559,154L560.2,152.2L562,151L563.1,149.7L564.9,149.3L566,148L568,147.3L570,146.6L571.7,146.6L573.3,146L575,146L577,146L579,146L580.5,147L582,148L582.9,149.5L583.6,151L583.2,152.5L583,154L581.8,155.8L580,157L578.4,157.8L577,159L575.3,160.3L574,162L573.2,163.2L572,164L573,165L574,166L576,167L574.3,168.3L573,170L571.5,170.9L570,171.6L569,173L570.6,173L572,173.6L573.2,172.7L574.7,172.3L576,171.6L577.1,170.4L578.9,170.2L580,169L581.5,168.4L582.8,167.4L584,166.4L585.5,165.9L586.7,164.9L588,164L589.6,163.3L591.4,162.7L593,162L594.7,161.5L596.5,161.3L598,160.4L599.5,160.5L601,159.8L602.5,160.2L604,159.6L605.5,159.8L607,159.8L608.5,159.7L610,159.4L611.4,159.9L612.5,160.8L614,161L615.9,161.6L618,161.6L619.9,162.5L622,163L623.8,163.5L625.6,163.6L625.1,165.3L625,167L624.1,168.5L623,170L621.8,171.4L621,173L620,175L621.7,174.6L623.3,174.9L625,175L623.7,175.7L622.5,176.7L621,177L620.1,178.6L619,180L617.4,180.9L616,182L617.5,182.6L619,183L620.4,183.5L621.5,184.7L623,185L625,184.6L627,184L628.7,184.2L630.3,184.8L632,185L633.3,185.7L634.7,186.4L636,187L638,186.9L640,187L640.6,188.6L642,189.6L642.1,191.3L642.4,193L641.5,194.4L641,196L639.4,196.3L638,197L636.3,197.3L635,198.4L635.9,199.5L636,201L637.5,201.8L639,202.4L639.5,204.3L640.4,206L641.2,207.4L641.6,209L642.4,211L641.3,212.1L640,213L639.9,214.6L639,216L638.5,217.3L637.6,218.4L637.9,219.7L638,221L637.5,222.7L636.4,224L635.9,225.6L635,227L634.2,228.2L634,229.6L635.5,229.6L637,229.6L639,229L641,228.4L643.1,228.1L645,227L647,226.6L649,226L650.5,225.9L651.7,225L653,224.4L655.1,224.3L657,223.6L658.9,222.6L661,222.4L662.5,222.8L664,223L665.6,222.2L667,221L668.4,220.1L670,220L671.4,219.3L672.4,218L672.8,216.5L673.7,215.3L674.4,214L674.6,212.2L675.5,210.7L676,209L676.2,207.5L675.8,206L676.7,204.5L676.4,203L676.1,201.5L675.9,200L675.7,198.5L675.4,197L674.5,195.2L673.6,193.5L673,191.6L672.4,190.2L671.5,189L670.6,187.8L670,186.4L669.2,184.8L667.8,183.6L667,182L665.7,180.9L664.8,179.5L664,178L662.7,177.1L661.8,175.8L661,174.4L659.8,173.3L658.3,172.6L657,171.6L655.8,170.6L654.4,170.1L653,169.6L651.3,168.9L650,167.6L650.6,165.6L650.4,163.6L651.6,162.6L651.8,161L653,160L654.5,159.7L655.6,158.6L657,158L658.7,157.3L660.5,157.1L662,156L663.6,155L665.3,154.4L667,153.6L668.8,153.1L670.4,152L672,151L673.7,150.1L675.5,149.6L677,148.4L678.5,147.4L679.6,146L680.1,144L680.4,142L681,140L680.2,138.1L680,136L681.1,134.7L682,133.3L683,132M556,189L557.2,188.1L558.5,187.3L560,187L561.7,186.8L563.3,186.3L565,186.4L566.7,186.9L568.3,187.6L570,188L571.7,188.6L573.4,189.1L575,190L576.7,190.1L578.3,189.9L580,190L581.6,190.6L583.3,190.7L585,191L586.4,191.9L588,192L589,194L587.7,195.3L587,197L584.9,197.3L583,198L581.4,198.4L579.7,198.7L578,198.6L575.9,199L574,200L572.6,200.3L571.3,201L570,201.6L568.7,202.5L567.4,203.4L566,204L564.4,204.9L563,206L561,206.4L559,207L557.5,207.9L556,209L554,210M633.6,242.4L634.9,241.8L636,241L637.7,241L639.3,240.3L641,240.4L642.4,240.8L643.6,241.6L643,243.6L641.3,243.8L640,244.8L638.5,244.6L637,244.7L635.6,245.2L633.6,244ZM694.5,234L693.6,232.9L693.5,231.5L693.5,230L695,229L696.6,228.9L698,229.5L700,228.5L701.4,227.3L703,226.5L704.5,225.4L706,224.5L707.4,223.6L708.5,222.2L710,221.5L711.4,220.5L712.4,219.2L714,218.5L715.3,217L717,216L718.6,215.7L720,215L721.5,214.2L723.5,214.5L726,215L728,215L730,215L732,214.9L734,214.5L736,214L738,213.8L740,213.5L742,213.2L744,212.7L746,212.8L748.5,213L749,214.2L750.5,215L752.5,215L755,214.5L756.2,213.9L757.5,213.5L759,212L760,210L761,208L762.5,206L764,204L765.6,203.7L767.1,203.3L768.4,202.1L770,202M694.5,234L696,234.2L697.5,234.1L699,234.6L700.5,235.1L702,235L703.5,235.1L705,235L706.5,235.5L708,235.5L710,234.6L711,233L711.5,231.2L713,230.2L714.5,231L714.8,233L714,234.6L716,235L717.4,234.4L719,234.2L720.5,233.8L722,233.6L723.4,232.9L725,232.6L726.6,232.4L728,231.6L730,230.2L732,228.8L734,227.6L736,226.6L738,225.6L740,225L742.5,224.8L744.5,225.4L745.8,226.5L746.8,228.5L746.2,230.5L746.8,232.5L747.5,233.7L748,235L748.6,236.2L749.5,237.2L750.5,238.7L752,239.5L753.3,240.4L754.5,241.5L756.5,242.5M748.5,226.5L750.5,225.8L752,226.5L751.5,228.2L750,229.8L748.8,230.2L748.2,228.8ZM714,238L716,237.2L718.5,236.8L720.3,236L722,235.2L724.1,234.9L726,234.2L728.1,234.1L730,233.2L731.5,232.4L733,231.8L734.5,231L736,230.5L737.4,229.9L739,230L741.2,231.2L741.2,232.7L741.8,234L741.8,235.4L741,236.5L740.7,237.9L739.8,239L739,240.2L738.2,241.5L737.5,243L736.8,244.5L735.5,244.2L734,243L732.8,242.2L731.5,241.8L730.2,241.7L729,241.2L727.4,241.6L726,242.4L725,243.7L723.5,244.5L722.9,246.1L721.8,247.5L721,249.3L720.5,251.2L719,250.8L717.7,250.2L717,249L716,247.7L715.2,246.2L714.9,244.8L714.2,243.5L712,243.8L709.5,244.2L710.6,243.5L711.5,242.5L712.2,241.2L713.2,240.2ZM694.5,235L692.5,236.2L691.4,237L690,237.2L688.6,238L687,238.6L685.7,238.9L684.5,239.6L683.3,240.2L682,240.6L680.9,241.5L679.5,241.8L678.2,242.3L677,243.2L675,244.6L676,246L678,245.5L680,246.2L679,248L677.5,249L678.5,250.5L680.5,250L681.5,252L680.5,254L682,256L683.6,256.5L683.2,259L683.4,261L683.8,263L683.6,265L684.2,267L684.2,269L685.5,269.9L687,270L689.5,270.5L689.9,271.9L691,273L692,271.5L693,270L694.6,269.5L696,268.5L697.5,268.1L699,268L700.5,266.2L700.5,266L700.8,264.1L701.5,262.2L702.2,260.8L703.4,259.6L703.8,258L705.2,256.7L706,255L706.7,253.4L707.8,252L707.3,250.5L707,249L706,246.8L705.4,245.4L705,244L704.5,241.5L702.5,240L701.2,239.6L700,239L698.5,238.2L697,237.2L695.7,236.2ZM681.5,245L683.5,244.2L685.5,245L687,247L687.8,248.1L688,249.5L687.5,252L688.5,254L687,255L685.5,253L685,250.5L683.5,249L682.5,247ZM684,251L685,253L685.5,254.3L686.2,255.5L685.5,257.5L684.2,256L684.1,254.7L683.5,253.5M758.5,220L759.3,218.6L760,217.2L761.5,216L762.5,216.8L761.5,219L760.5,220.1L760,221.5L758.8,222ZM688,280L689.6,279.6L691.2,281L690.4,283L688.4,283L688.3,281.5ZM668.4,312.4L670,312.4L670.6,314.4L669.6,316L668.2,315L668,313.7ZM554,228L554.8,229.2L556,230L556.7,231.7L558,233L558.8,234.6L559.7,236.2L560,238L561,239.7L562,241.4L563,243L563,245L564,246L565,247L565.1,248.6L566,250L566.5,252.5L567.7,253.4L569,254L570.1,254.8L571.5,255L572.5,257L573.8,257.7L574.5,259L575.7,259.8L577,260.5L578.5,262L579.2,263.5L578.5,265.5L577,266.8L575,266.5L573,265.5L571,264.5M569.5,263.5L571.5,263L572.7,263.7L574,264L575.4,264.4L576.5,265.5L578.5,265.5M554.5,261.2L556.1,260.2L558,260L559.5,260L561,259.5L562.5,260L564,259.8L565.2,260.4L566,261.5L567.2,262.1L568.5,262.5L570,263.5L571.5,265L573,266.5L574.2,267.3L575,268.5L575.8,269.7L577,270.5L577.9,271.6L579,272.5L579.5,274L578.3,274.7L577,275L575.6,275.7L574,276L572.4,276.3L571,277L569,278.5L567,280L565.5,280.2L564,280.5L562.5,280.5L561,281L559,282L557.8,282.6L556.5,283L554.5,283.8M554.5,283.8L555.7,283.2L557,282.8L558.7,282.6L560,281.6L562,283L563,285L565,284.5L567,283L568.6,282.4L570,281.5L572,282L573,283L574,284L575,285L576,286L577.5,286.4L579,286.5L580,285L582,284.5L583.2,285.4L584.5,286L583,287L581.4,287.1L580,288L579,289.5L577,290.5L575.8,291.3L574.5,292L575.2,294L576.5,294.8L578,295L577,295.9L576.2,297L575,297.8L574.2,299L575.5,301L574.2,301.5L573.2,302.5L573.6,303.9L574.5,305L575.2,307L573.7,307.6L572.3,308.4L571.1,309.6L569.8,310.5L568.3,311.3L566.9,312.1L565.7,313.3L564.4,314.2L563,315L562.6,316.5L561.5,317.6L561,319L559.6,320.1L559.1,321.7L558,323L557.2,324.5L556.2,325.8L555,327M556,266.8L557.3,268.1L558.5,269.5L559.4,270.7L560,272L559.5,274.2L557.7,274L556,274.7M555,368L555.4,366.1L556.3,364.4L556.9,362.6L558,361L559.1,359.4L560.2,357.8L561,356L561.8,354.6L562.7,353.3L564,352.2L565,351L566.3,350.2L567.7,349.6L568.5,348.1L570,347.6L571.6,346.7L573.2,346.3L575,346L576.6,346.4L578.2,347.1L579.6,348L579.6,349.5L580,351L579.4,352.7L579.2,354.6L578.8,356.3L578,358L577.7,359.8L577.3,361.6L576.3,363.2L576,365L575.7,366.8L575,368.5L574.2,370.2L574,372L573.3,373.3L572.9,374.8L572,376L570.7,377.5L569.7,379.1L569,381L568.5,382.7L567.6,384.3L567,386L566.1,387.4L566,389L564,388L563.3,386.3L562.4,384.8L562,383L560.7,381.9L560.3,380.1L559,379L558.6,377.2L557.6,375.7L557,374L556.9,372.5L556.7,371L556.3,369.5L556.4,368L555,366" fill="none" stroke="#000" stroke-width="1.3" stroke-linejoin="round" stroke-linecap="round"/>
<path d="M616,181.6L617.1,183.6L619,182.4L620.8,183.9L623,184.4L624.9,183.3L627,184M635,198L636.1,196L638,197.2L639.6,198.1L641,199.2L640.7,200.8L639.6,202M638,202L638.3,204.5L640.4,206L640.3,208.2L641.6,210L640.5,211.7L640,213.6L640.3,216.2L638.4,218L639.1,220.2L637.6,222L637.4,224.2L636,226L635.9,227.9L634.4,229L636.1,230.4L638,229.2L640,228.7L642.1,228.6L644,227.6L646.5,228.5L647.7,225.5L650,225.6L652,225.2L653.7,223.4L656,224L658.2,224.4L659.6,221.3L662,222.4L664.2,223.1L666,221.6M570,164L571.9,164.6L573,163L573.1,165L575,165.6M569.6,172L570.9,170.1L573,171L575.6,172" fill="none" stroke="#000" stroke-width="1.8" stroke-linejoin="round" stroke-linecap="round"/>
<path d="M607,90.4L610,90.8L611.6,92L609,92.2ZM643.5,112.3L642.9,112.8L641.8,112.9L640.6,112.5L639.8,111.7L639.7,110.9L640.3,110.4L641.4,110.3L642.6,110.7L643.4,111.5ZM669.6,107.7L669.9,108.6L669.5,109.5L668.8,109.9L667.9,109.8L667.2,109.1L666.9,108.2L667.3,107.3L668,106.9L668.9,107ZM706,117.2L707.6,116.4L708.4,118L707.2,119.2ZM826.8,92L826.6,92.7L826,93.1L825.2,93.1L824.6,92.7L824.4,92L824.6,91.3L825.2,90.9L826,90.9L826.6,91.3ZM804.6,130.4L804.4,131.1L803.9,131.5L803.3,131.5L802.8,131.1L802.6,130.4L802.8,129.7L803.3,129.3L803.9,129.3L804.4,129.7ZM898,109.4L897.6,110L896.6,110.4L895.4,110.4L894.4,110L894,109.4L894.4,108.8L895.4,108.4L896.6,108.4L897.6,108.8ZM816.4,208.6L816.1,209.2L815.4,209.6L814.6,209.6L813.9,209.2L813.6,208.6L813.9,208L814.6,207.6L815.4,207.6L816.1,208ZM617.6,150L623,149L623.6,150.4L619,152ZM725.8,206L725.5,206.8L724.8,207.3L724,207.3L723.3,206.8L723,206L723.3,205.2L724,204.7L724.8,204.7L725.5,205.2ZM721.5,214.5L723,213.8L724.8,214.5L724,215.5L722.2,215.6ZM677,243.2L679.5,242.2L680.5,244.2L679,245.2L677.2,244.8ZM680.5,244.5L682.5,243.5L684,244.5L683.8,246.5L682.2,247.5L680.8,246.5ZM685.5,248L687.2,247.5L688.2,249.5L687.5,251.5L686,251ZM682.5,250.5L684,250L685,252L684.5,254.5L683,254ZM680,247L681.5,246.5L682.2,249L681,250.2L679.8,249ZM685,255L686.8,254.5L687.5,256.5L686.2,258L685,257ZM664.5,250.5L666.5,249.8L668.2,250.5L667.8,252.5L665.5,253L664.2,252ZM669.5,246.5L670.8,245.5L671.8,246.5L671.2,248.5L669.8,249.2ZM672,230.5L673.5,226.5L675,225L676.2,225.5L675.8,228L674.5,231.2L673,233.5L671.8,233ZM679.7,237.3L679.5,237.9L678.9,238.3L678.1,238.3L677.5,237.9L677.3,237.3L677.5,236.7L678.1,236.3L678.9,236.3L679.5,236.7ZM725.6,206.2L725.3,207L724.6,207.4L723.8,207.4L723.1,207L722.8,206.2L723.1,205.4L723.8,205L724.6,205L725.3,205.4ZM689.8,264.5L691.2,263.8L692.2,265.5L691.8,268.5L690.5,269.2L689.7,267ZM694,275L696,274.4L696.6,277L695.4,281L693.6,282L693.4,279ZM672.4,307L676,305L679.6,304L680,306L677,309L673.6,310.4ZM652.8,333.6L655.2,330L659,326.8L661.2,326.4L660.4,328.4L658,330.8L655.6,334L653.6,336ZM601.6,357.6L605,357L606,359L603,360ZM607,356L610,354.4L611,356.4L608.4,358.4ZM621.6,350.4L625.6,353.6L622,353.6ZM563,267.2L565,267L565.8,268.2L564,269L562.8,268.5ZM559.5,270.8L561.5,270.5L562.2,272.2L560.5,273.5L559.3,272.5ZM579,283.5L582,283.8L584.5,285.5L582.5,287L580,287.8L579.2,286ZM574.5,291.8L578,290.8L579.5,293L578.5,295.5L576.5,296.8L575,295ZM573,298.5L576.2,298L576.5,301L574,302.5Z" fill="#000" stroke="#000" stroke-width="1" stroke-linejoin="round"/>
</svg>
<text x="561.4" y="407.3" font-size="10" textLength="103" lengthAdjust="spacingAndGlyphs">Provided by JWA/JMA</text>
<rect x="555.5" y="31.5" width="383" height="383" fill="none" stroke="#000" stroke-width="1.2"/>
<text x="607.8" y="425" font-size="9" textLength="22.2" lengthAdjust="spacingAndGlyphs">125°E</text>
<text x="671.7" y="425" font-size="9" textLength="22.2" lengthAdjust="spacingAndGlyphs">130°E</text>
<text x="735.5" y="425" font-size="9" textLength="22.2" lengthAdjust="spacingAndGlyphs">135°E</text>
<text x="799.3" y="425" font-size="9" textLength="22.2" lengthAdjust="spacingAndGlyphs">140°E</text>
<text x="863.2" y="425" font-size="9" textLength="22.2" lengthAdjust="spacingAndGlyphs">145°E</text>
<text x="532" y="352.7" font-size="9" textLength="18.6" lengthAdjust="spacingAndGlyphs">25°N</text>
<text x="532" y="288.8" font-size="9" textLength="18.6" lengthAdjust="spacingAndGlyphs">30°N</text>
<text x="532" y="225" font-size="9" textLength="18.6" lengthAdjust="spacingAndGlyphs">35°N</text>
<text x="532" y="161.2" font-size="9" textLength="18.6" lengthAdjust="spacingAndGlyphs">40°N</text>
<text x="532" y="97.3" font-size="9" textLength="18.6" lengthAdjust="spacingAndGlyphs">45°N</text>
<text x="613.9" y="25.5" font-size="12" textLength="263" lengthAdjust="spacingAndGlyphs">Daily Radar-AMeDAS analysis for 20250611</text>
<rect x="810.3" y="271.3" width="105.5" height="104.1" fill="#fff"/>
<svg x="810.3" y="271.3" width="105.5" height="104.2" viewBox="810.3 271.3 105.5 104.2"><path d="M810.7,373.7h4.4M812.9,371.5v4.4M808.5,375.2h4.4M810.7,373v4.4M811.8,374.3h4.4M814,372.1v4.4M821.3,366.3h4.4M823.5,364.1v4.4M809.4,374.6h4.4M811.6,372.4v4.4M808.5,374.4h4.4M810.7,372.2v4.4M812.2,373.7h4.4M814.4,371.5v4.4M813.1,371.2h4.4M815.3,369v4.4M809.2,374.2h4.4M811.4,372v4.4M822.2,371h4.4M824.4,368.8v4.4M820.5,365.6h4.4M822.7,363.4v4.4M808.3,373.2h4.4M810.5,371v4.4M808.7,373.3h4.4M810.9,371.1v4.4M810.3,374.9h4.4M812.5,372.7v4.4M809.4,374.8h4.4M811.6,372.6v4.4M808.1,374.2h4.4M810.3,372v4.4M813,369.7h4.4M815.2,367.5v4.4M822.1,371.2h4.4M824.3,369v4.4M809.7,374.4h4.4M811.9,372.2v4.4M808.3,375.3h4.4M810.5,373.1v4.4M820.9,366h4.4M823.1,363.8v4.4M820,363.9h4.4M822.2,361.7v4.4M821.5,365.1h4.4M823.7,362.9v4.4M813.2,373.4h4.4M815.4,371.2v4.4M809.8,373.2h4.4M812,371v4.4M829.3,365.1h4.4M831.5,362.9v4.4M809.6,374.6h4.4M811.8,372.4v4.4M815.2,372.1h4.4M817.4,369.9v4.4M809.4,371.4h4.4M811.6,369.2v4.4M816.8,370.2h4.4M819,368v4.4M809.2,374h4.4M811.4,371.8v4.4M809,372.6h4.4M811.2,370.4v4.4M811.9,371.7h4.4M814.1,369.5v4.4M810,371.9h4.4M812.2,369.7v4.4M811,374.3h4.4M813.2,372.1v4.4M812,373.2h4.4M814.2,371v4.4M813.6,371.4h4.4M815.8,369.2v4.4M813.7,371h4.4M815.9,368.8v4.4M812.9,369.8h4.4M815.1,367.6v4.4M816.2,365.5h4.4M818.4,363.3v4.4M820.5,372.7h4.4M822.7,370.5v4.4M808.6,375.1h4.4M810.8,372.9v4.4M822.6,368.3h4.4M824.8,366.1v4.4M809.6,373.6h4.4M811.8,371.4v4.4M808.2,371h4.4M810.4,368.8v4.4M818.6,374.6h4.4M820.8,372.4v4.4M809.2,372.4h4.4M811.4,370.2v4.4M814.9,371.2h4.4M817.1,369v4.4M808.9,374.8h4.4M811.1,372.6v4.4M812.8,372.1h4.4M815,369.9v4.4M817,371h4.4M819.2,368.8v4.4M819.6,366.8h4.4M821.8,364.6v4.4M810.9,373.2h4.4M813.1,371v4.4M808.5,373.2h4.4M810.7,371v4.4M821.9,365h4.4M824.1,362.8v4.4M809.3,371.5h4.4M811.5,369.3v4.4M810.6,373.8h4.4M812.8,371.6v4.4M808.1,375.4h4.4M810.3,373.2v4.4M810.5,373.7h4.4M812.7,371.5v4.4M816.6,369.7h4.4M818.8,367.5v4.4M808.4,373.5h4.4M810.6,371.3v4.4M809.1,373.4h4.4M811.3,371.2v4.4M814,369.5h4.4M816.2,367.3v4.4M808.8,375.1h4.4M811,372.9v4.4M818.9,368.8h4.4M821.1,366.6v4.4M817.1,371.7h4.4M819.3,369.5v4.4M817.2,372h4.4M819.4,369.8v4.4M815.1,373.7h4.4M817.3,371.5v4.4M813.8,374h4.4M816,371.8v4.4M813,371.8h4.4M815.2,369.6v4.4M833.9,358.3h4.4M836.1,356.1v4.4M809.7,374.5h4.4M811.9,372.3v4.4M819.7,369.3h4.4M821.9,367.1v4.4M812.6,372.5h4.4M814.8,370.3v4.4M810.7,372h4.4M812.9,369.8v4.4M823.8,369.1h4.4M826,366.9v4.4M811.1,371.2h4.4M813.3,369v4.4M810.4,371.1h4.4M812.6,368.9v4.4M822.7,369.3h4.4M824.9,367.1v4.4M816.7,373.5h4.4M818.9,371.3v4.4M810.4,374.5h4.4M812.6,372.3v4.4M810.5,373.3h4.4M812.7,371.1v4.4M813.6,369.7h4.4M815.8,367.5v4.4M812.7,373.2h4.4M814.9,371v4.4M810.9,372.5h4.4M813.1,370.3v4.4M817.5,371.6h4.4M819.7,369.4v4.4M808.5,374.2h4.4M810.7,372v4.4M821.5,369.9h4.4M823.7,367.7v4.4M828.9,362.1h4.4M831.1,359.9v4.4M814.1,375.1h4.4M816.3,372.9v4.4M808.9,374h4.4M811.1,371.8v4.4M815.1,369.6h4.4M817.3,367.4v4.4M809.9,373.4h4.4M812.1,371.2v4.4M808.9,375.1h4.4M811.1,372.9v4.4M814.3,374.1h4.4M816.5,371.9v4.4M822.6,365.8h4.4M824.8,363.6v4.4M810.6,375h4.4M812.8,372.8v4.4M815.5,374.6h4.4M817.7,372.4v4.4M818.9,366.6h4.4M821.1,364.4v4.4M819.7,370.5h4.4M821.9,368.3v4.4M812.7,371.2h4.4M814.9,369v4.4M809.2,372.8h4.4M811.4,370.6v4.4M817,368.1h4.4M819.2,365.9v4.4M811.3,374h4.4M813.5,371.8v4.4M830.6,372.2h4.4M832.8,370v4.4M808.4,375.2h4.4M810.6,373v4.4M811.7,371.8h4.4M813.9,369.6v4.4M817.4,372h4.4M819.6,369.8v4.4M810.7,374h4.4M812.9,371.8v4.4M809.9,373.7h4.4M812.1,371.5v4.4M825.9,371.5h4.4M828.1,369.3v4.4M814.4,372.9h4.4M816.6,370.7v4.4M809.6,373.6h4.4M811.8,371.4v4.4M816.5,370.6h4.4M818.7,368.4v4.4M817.4,366.7h4.4M819.6,364.5v4.4M813.7,372.1h4.4M815.9,369.9v4.4M809.2,373.8h4.4M811.4,371.6v4.4M839.9,370.6h4.4M842.1,368.4v4.4M808.4,374.4h4.4M810.6,372.2v4.4M826.1,367.1h4.4M828.3,364.9v4.4M827.8,372.6h4.4M830,370.4v4.4M809.1,375h4.4M811.3,372.8v4.4M808.2,375.2h4.4M810.4,373v4.4M818.8,366.5h4.4M821,364.3v4.4M815,374.5h4.4M817.2,372.3v4.4M810.6,368.2h4.4M812.8,366v4.4M811.2,372.9h4.4M813.4,370.7v4.4M812.3,373h4.4M814.5,370.8v4.4M809.2,371.6h4.4M811.4,369.4v4.4M809.6,374.2h4.4M811.8,372v4.4M823.9,363.5h4.4M826.1,361.3v4.4M811.6,371.9h4.4M813.8,369.7v4.4M813,370.6h4.4M815.2,368.4v4.4M808.4,375.1h4.4M810.6,372.9v4.4M814.3,370.9h4.4M816.5,368.7v4.4M811.8,372.3h4.4M814,370.1v4.4M812.6,374.6h4.4M814.8,372.4v4.4M812.4,374.1h4.4M814.6,371.9v4.4M812.9,372.7h4.4M815.1,370.5v4.4M812.9,374.7h4.4M815.1,372.5v4.4M821.2,371.8h4.4M823.4,369.6v4.4M823.4,364.9h4.4M825.6,362.7v4.4M809.7,374.7h4.4M811.9,372.5v4.4M809.3,374h4.4M811.5,371.8v4.4M814,371.6h4.4M816.2,369.4v4.4M811.1,372.9h4.4M813.3,370.7v4.4M819.7,373.1h4.4M821.9,370.9v4.4M808.3,373h4.4M810.5,370.8v4.4M809.1,374.7h4.4M811.3,372.5v4.4M809.8,373.6h4.4M812,371.4v4.4M809.1,373.7h4.4M811.3,371.5v4.4M811.6,372.7h4.4M813.8,370.5v4.4M826.8,364.1h4.4M829,361.9v4.4M808.5,374.2h4.4M810.7,372v4.4M812.9,371.5h4.4M815.1,369.3v4.4M808.4,374.6h4.4M810.6,372.4v4.4M809.8,373.1h4.4M812,370.9v4.4M816.1,368.2h4.4M818.3,366v4.4M818.6,371.3h4.4M820.8,369.1v4.4M822.4,371.3h4.4M824.6,369.1v4.4M817.4,369.2h4.4M819.6,367v4.4M814.8,371.1h4.4M817,368.9v4.4M812,371.7h4.4M814.2,369.5v4.4M808.6,374h4.4M810.8,371.8v4.4M808.6,373h4.4M810.8,370.8v4.4M808.6,375h4.4M810.8,372.8v4.4M820.8,369.1h4.4M823,366.9v4.4M808.8,374.7h4.4M811,372.5v4.4M808.2,375h4.4M810.4,372.8v4.4M830.5,366.5h4.4M832.7,364.3v4.4M812,373.2h4.4M814.2,371v4.4M821.5,368.1h4.4M823.7,365.9v4.4M808.1,373.6h4.4M810.3,371.4v4.4M810.1,373.9h4.4M812.3,371.7v4.4M808.7,374.7h4.4M810.9,372.5v4.4M811.6,373h4.4M813.8,370.8v4.4M809.7,372.8h4.4M811.9,370.6v4.4M809.9,373.9h4.4M812.1,371.7v4.4M811,373.6h4.4M813.2,371.4v4.4M809.4,374.4h4.4M811.6,372.2v4.4M822.7,368.3h4.4M824.9,366.1v4.4M809.2,375h4.4M811.4,372.8v4.4M810.8,373.1h4.4M813,370.9v4.4M817,372.3h4.4M819.2,370.1v4.4M811.4,374.6h4.4M813.6,372.4v4.4M814.9,371.6h4.4M817.1,369.4v4.4M824.2,371h4.4M826.4,368.8v4.4M816.7,370.7h4.4M818.9,368.5v4.4M810.6,372.7h4.4M812.8,370.5v4.4M814.8,373h4.4M817,370.8v4.4M815.7,367h4.4M817.9,364.8v4.4M808.4,374.6h4.4M810.6,372.4v4.4M808.8,374.1h4.4M811,371.9v4.4M820,369.8h4.4M822.2,367.6v4.4M809,374.8h4.4M811.2,372.6v4.4M811.8,371.4h4.4M814,369.2v4.4M827.1,369.9h4.4M829.3,367.7v4.4M809,374.1h4.4M811.2,371.9v4.4M809.8,374.5h4.4M812,372.3v4.4M813.5,373.9h4.4M815.7,371.7v4.4M811.3,374.6h4.4M813.5,372.4v4.4M810.5,374.1h4.4M812.7,371.9v4.4M825.9,366.8h4.4M828.1,364.6v4.4M808.2,373.9h4.4M810.4,371.7v4.4M811,372.8h4.4M813.2,370.6v4.4M818.6,368.7h4.4M820.8,366.5v4.4M813.6,372.6h4.4M815.8,370.4v4.4M812.3,372.6h4.4M814.5,370.4v4.4M808.1,375.3h4.4M810.3,373.1v4.4M814.9,371.8h4.4M817.1,369.6v4.4M816.7,369.3h4.4M818.9,367.1v4.4M809.7,374.5h4.4M811.9,372.3v4.4M820,365.6h4.4M822.2,363.4v4.4M815.3,371.9h4.4M817.5,369.7v4.4M808.4,374.9h4.4M810.6,372.7v4.4M808.1,373.8h4.4M810.3,371.6v4.4M824.3,367.3h4.4M826.5,365.1v4.4M815.8,373.4h4.4M818,371.2v4.4M809.5,373.7h4.4M811.7,371.5v4.4M813.7,373.1h4.4M815.9,370.9v4.4M815,369.4h4.4M817.2,367.2v4.4M825,364.7h4.4M827.2,362.5v4.4M834.8,356.1h4.4M837,353.9v4.4M809.2,374.1h4.4M811.4,371.9v4.4M817,371.8h4.4M819.2,369.6v4.4M814.8,372h4.4M817,369.8v4.4M810.6,374h4.4M812.8,371.8v4.4M809.2,373.2h4.4M811.4,371v4.4M827.7,356.7h4.4M829.9,354.5v4.4M816.3,372.6h4.4M818.5,370.4v4.4M811.9,374h4.4M814.1,371.8v4.4M808.1,373.2h4.4M810.3,371v4.4M808.4,373.5h4.4M810.6,371.3v4.4M815.9,374.6h4.4M818.1,372.4v4.4M814.4,369.3h4.4M816.6,367.1v4.4M818.7,372.6h4.4M820.9,370.4v4.4M814,370h4.4M816.2,367.8v4.4M809.5,374.4h4.4M811.7,372.2v4.4M811.6,372.1h4.4M813.8,369.9v4.4M808.9,374.4h4.4M811.1,372.2v4.4M813,372h4.4M815.2,369.8v4.4M827.9,356.7h4.4M830.1,354.5v4.4M808.7,374.7h4.4M810.9,372.5v4.4M809,374.8h4.4M811.2,372.6v4.4M830.9,370.5h4.4M833.1,368.3v4.4M820.4,370.3h4.4M822.6,368.1v4.4M808.5,373.9h4.4M810.7,371.7v4.4M808.9,374.8h4.4M811.1,372.6v4.4M809.9,373.9h4.4M812.1,371.7v4.4M808.3,374.9h4.4M810.5,372.7v4.4M819.8,367.6h4.4M822,365.4v4.4M816.5,370.7h4.4M818.7,368.5v4.4M820.5,368.9h4.4M822.7,366.7v4.4M808.9,374.9h4.4M811.1,372.7v4.4M811.2,373h4.4M813.4,370.8v4.4M834.1,373.8h4.4M836.3,371.6v4.4M820.2,369.3h4.4M822.4,367.1v4.4M813.8,374.6h4.4M816,372.4v4.4M808.7,375.1h4.4M810.9,372.9v4.4M814.5,371.9h4.4M816.7,369.7v4.4M817,368.3h4.4M819.2,366.1v4.4M820.6,374.6h4.4M822.8,372.4v4.4M809.5,374.4h4.4M811.7,372.2v4.4M809,373.6h4.4M811.2,371.4v4.4M808.5,374.3h4.4M810.7,372.1v4.4M813.3,374.8h4.4M815.5,372.6v4.4M810,374.4h4.4M812.2,372.2v4.4M816.3,371.9h4.4M818.5,369.7v4.4M810.3,372.6h4.4M812.5,370.4v4.4M809.2,371.8h4.4M811.4,369.6v4.4M811.4,371.3h4.4M813.6,369.1v4.4M818.2,367.1h4.4M820.4,364.9v4.4M819.1,369.6h4.4M821.3,367.4v4.4M813.2,374.7h4.4M815.4,372.5v4.4M831.7,359.6h4.4M833.9,357.4v4.4M822.7,373.3h4.4M824.9,371.1v4.4M813.4,373.5h4.4M815.6,371.3v4.4M810.6,373.5h4.4M812.8,371.3v4.4M810.2,373.9h4.4M812.4,371.7v4.4M810.4,373.4h4.4M812.6,371.2v4.4M820.5,368.9h4.4M822.7,366.7v4.4M812.3,373.1h4.4M814.5,370.9v4.4M809.8,374.3h4.4M812,372.1v4.4M821.5,367.4h4.4M823.7,365.2v4.4M810.5,374.6h4.4M812.7,372.4v4.4M812,374.4h4.4M814.2,372.2v4.4M811,373.7h4.4M813.2,371.5v4.4M817.2,368.4h4.4M819.4,366.2v4.4M824.7,360.9h4.4M826.9,358.7v4.4M812.8,372.7h4.4M815,370.5v4.4M816.8,372.7h4.4M819,370.5v4.4M818.5,369.2h4.4M820.7,367v4.4M814,372.4h4.4M816.2,370.2v4.4M829.6,361.4h4.4M831.8,359.2v4.4M825.2,364h4.4M827.4,361.8v4.4M811.1,373.5h4.4M813.3,371.3v4.4M811.6,373.9h4.4M813.8,371.7v4.4M812,371.3h4.4M814.2,369.1v4.4M809.4,375.1h4.4M811.6,372.9v4.4M823.3,365.7h4.4M825.5,363.5v4.4M812.9,371.4h4.4M815.1,369.2v4.4M811,374.1h4.4M813.2,371.9v4.4M808.1,375.2h4.4M810.3,373v4.4M812.8,367.5h4.4M815,365.3v4.4M813.9,371.8h4.4M816.1,369.6v4.4M808.8,373.7h4.4M811,371.5v4.4M808.5,375h4.4M810.7,372.8v4.4M809.4,374.5h4.4M811.6,372.3v4.4M808.5,373.1h4.4M810.7,370.9v4.4M810.7,374.3h4.4M812.9,372.1v4.4M810.6,374.2h4.4M812.8,372v4.4M813.7,374.3h4.4M815.9,372.1v4.4M809,375.1h4.4M811.2,372.9v4.4M815.5,371.9h4.4M817.7,369.7v4.4M812.1,370.7h4.4M814.3,368.5v4.4M811.3,373.6h4.4M813.5,371.4v4.4M823.6,365.1h4.4M825.8,362.9v4.4M822,371.8h4.4M824.2,369.6v4.4M811.4,373.2h4.4M813.6,371v4.4M809.4,374h4.4M811.6,371.8v4.4M810.5,373.7h4.4M812.7,371.5v4.4M810.3,372.9h4.4M812.5,370.7v4.4M809.1,373.7h4.4M811.3,371.5v4.4M816.2,372.5h4.4M818.4,370.3v4.4M808.9,374.8h4.4M811.1,372.6v4.4M808.4,374.4h4.4M810.6,372.2v4.4M816.6,373.8h4.4M818.8,371.6v4.4M820.2,374.3h4.4M822.4,372.1v4.4M808.9,373.5h4.4M811.1,371.3v4.4M810.3,373.9h4.4M812.5,371.7v4.4M817.2,367.6h4.4M819.4,365.4v4.4M811.9,372.7h4.4M814.1,370.5v4.4M816.3,371.9h4.4M818.5,369.7v4.4M808.5,375.1h4.4M810.7,372.9v4.4M816.4,368.9h4.4M818.6,366.7v4.4M826.6,368h4.4M828.8,365.8v4.4M813.5,370.5h4.4M815.7,368.3v4.4M808.9,374.7h4.4M811.1,372.5v4.4M809.6,373.6h4.4M811.8,371.4v4.4M811.1,374.5h4.4M813.3,372.3v4.4M808.9,375h4.4M811.1,372.8v4.4M825.1,363.6h4.4M827.3,361.4v4.4M808.3,374.2h4.4M810.5,372v4.4M820.7,368.8h4.4M822.9,366.6v4.4M819.9,370.2h4.4M822.1,368v4.4M809.9,374.1h4.4M812.1,371.9v4.4M824,366.5h4.4M826.2,364.3v4.4M816,370.5h4.4M818.2,368.3v4.4M816.8,374.8h4.4M819,372.6v4.4M810.3,373.5h4.4M812.5,371.3v4.4M815.5,368.4h4.4M817.7,366.2v4.4M813.7,371.1h4.4M815.9,368.9v4.4M832.1,354.1h4.4M834.3,351.9v4.4M810.5,373.9h4.4M812.7,371.7v4.4M810.9,373.6h4.4M813.1,371.4v4.4M811.2,373.4h4.4M813.4,371.2v4.4M808.9,373.2h4.4M811.1,371v4.4M810.1,374.2h4.4M812.3,372v4.4M809.8,374.5h4.4M812,372.3v4.4M811.6,375.1h4.4M813.8,372.9v4.4M839.7,369.4h4.4M841.9,367.2v4.4M818.2,373.2h4.4M820.4,371v4.4M809.7,373.9h4.4M811.9,371.7v4.4M822,369.3h4.4M824.2,367.1v4.4M815.8,369.5h4.4M818,367.3v4.4M813.5,373h4.4M815.7,370.8v4.4M808.9,375h4.4M811.1,372.8v4.4M822.2,371.5h4.4M824.4,369.3v4.4M810.9,375.2h4.4M813.1,373v4.4M809.5,374.3h4.4M811.7,372.1v4.4M820.7,371.1h4.4M822.9,368.9v4.4M809.7,374.4h4.4M811.9,372.2v4.4M811.4,368h4.4M813.6,365.8v4.4M808.4,374.6h4.4M810.6,372.4v4.4M810.2,375.1h4.4M812.4,372.9v4.4M813.7,371.8h4.4M815.9,369.6v4.4M811.1,373.9h4.4M813.3,371.7v4.4M810.5,373.5h4.4M812.7,371.3v4.4M813.5,368.3h4.4M815.7,366.1v4.4M812.5,373.1h4.4M814.7,370.9v4.4M808.1,375.4h4.4M810.3,373.2v4.4M810.5,374.3h4.4M812.7,372.1v4.4M825.3,358.9h4.4M827.5,356.7v4.4M811.1,373.2h4.4M813.3,371v4.4M810.1,375h4.4M812.3,372.8v4.4M811.5,374.9h4.4M813.7,372.7v4.4M817,372.1h4.4M819.2,369.9v4.4M822.2,364h4.4M824.4,361.8v4.4M815.2,371.6h4.4M817.4,369.4v4.4M808.4,375h4.4M810.6,372.8v4.4M812.3,375.2h4.4M814.5,373v4.4M814.5,369.8h4.4M816.7,367.6v4.4M817.9,373h4.4M820.1,370.8v4.4M813.6,371.6h4.4M815.8,369.4v4.4M816.5,365.3h4.4M818.7,363.1v4.4M812.2,370.8h4.4M814.4,368.6v4.4M818.1,370.2h4.4M820.3,368v4.4M808.3,374.9h4.4M810.5,372.7v4.4M809.2,374.4h4.4M811.4,372.2v4.4M835.4,360.5h4.4M837.6,358.3v4.4M810.7,371.5h4.4M812.9,369.3v4.4M827.7,361.7h4.4M829.9,359.5v4.4M809.9,369.7h4.4M812.1,367.5v4.4M809.7,374.7h4.4M811.9,372.5v4.4M817.5,372.6h4.4M819.7,370.4v4.4M813.9,365.2h4.4M816.1,363v4.4M810.5,371.7h4.4M812.7,369.5v4.4M816.6,365.5h4.4M818.8,363.3v4.4M816,374.2h4.4M818.2,372v4.4M808.2,374.2h4.4M810.4,372v4.4M809.2,373.8h4.4M811.4,371.6v4.4M825,371.4h4.4M827.2,369.2v4.4M810.2,374.6h4.4M812.4,372.4v4.4M816,367.2h4.4M818.2,365v4.4M822.1,361.9h4.4M824.3,359.7v4.4M811.4,373.4h4.4M813.6,371.2v4.4M814.4,371.1h4.4M816.6,368.9v4.4M820.6,363.4h4.4M822.8,361.2v4.4M815.1,372.4h4.4M817.3,370.2v4.4M814.2,371.3h4.4M816.4,369.1v4.4M813.1,371.5h4.4M815.3,369.3v4.4M809.8,374.1h4.4M812,371.9v4.4M809.8,374.4h4.4M812,372.2v4.4M819.4,372.9h4.4M821.6,370.7v4.4M820,362h4.4M822.2,359.8v4.4M819.6,371.9h4.4M821.8,369.7v4.4M819.1,361.1h4.4M821.3,358.9v4.4M816.1,373.4h4.4M818.3,371.2v4.4M815.8,371.1h4.4M818,368.9v4.4M811.3,375.1h4.4M813.5,372.9v4.4M816.7,371.7h4.4M818.9,369.5v4.4M814.9,373.2h4.4M817.1,371v4.4M812,372.5h4.4M814.2,370.3v4.4M819.3,371.9h4.4M821.5,369.7v4.4M832.1,363.4h4.4M834.3,361.2v4.4M817.6,370.6h4.4M819.8,368.4v4.4M808.3,374.8h4.4M810.5,372.6v4.4M812.4,373h4.4M814.6,370.8v4.4M811.6,373.7h4.4M813.8,371.5v4.4M808.9,374.1h4.4M811.1,371.9v4.4M808.5,374h4.4M810.7,371.8v4.4M811.8,374.2h4.4M814,372v4.4M810.8,373.5h4.4M813,371.3v4.4M821.3,368.2h4.4M823.5,366v4.4M821.7,364.6h4.4M823.9,362.4v4.4M813.3,373.1h4.4M815.5,370.9v4.4M819,372.8h4.4M821.2,370.6v4.4M813.2,371.4h4.4M815.4,369.2v4.4M810.4,371.3h4.4M812.6,369.1v4.4M812.1,372.3h4.4M814.3,370.1v4.4M814.2,373.5h4.4M816.4,371.3v4.4M815.7,369.7h4.4M817.9,367.5v4.4M825,363.6h4.4M827.2,361.4v4.4M811.7,371.4h4.4M813.9,369.2v4.4M808.4,375.2h4.4M810.6,373v4.4M824.5,362.4h4.4M826.7,360.2v4.4M811.5,374.4h4.4M813.7,372.2v4.4M808.8,375h4.4M811,372.8v4.4M820,373.1h4.4M822.2,370.9v4.4M817.5,366.5h4.4M819.7,364.3v4.4M814.2,368.8h4.4M816.4,366.6v4.4M820.7,363.2h4.4M822.9,361v4.4M810.9,373.7h4.4M813.1,371.5v4.4M809.4,373.4h4.4M811.6,371.2v4.4M814.2,371.9h4.4M816.4,369.7v4.4M809.1,374.7h4.4M811.3,372.5v4.4M809.4,374.4h4.4M811.6,372.2v4.4M822.4,372.6h4.4M824.6,370.4v4.4M809.3,374.3h4.4M811.5,372.1v4.4M809.6,374.1h4.4M811.8,371.9v4.4M809.9,374.5h4.4M812.1,372.3v4.4M813.9,374.5h4.4M816.1,372.3v4.4M810,372.6h4.4M812.2,370.4v4.4M819.5,371.5h4.4M821.7,369.3v4.4M827.1,360.8h4.4M829.3,358.6v4.4M815.8,372.2h4.4M818,370v4.4M810.8,371.2h4.4M813,369v4.4M817.5,369.5h4.4M819.7,367.3v4.4M808.8,373.8h4.4M811,371.6v4.4M817.3,372.8h4.4M819.5,370.6v4.4M814.1,373.6h4.4M816.3,371.4v4.4M830,357.8h4.4M832.2,355.6v4.4M810.1,372.3h4.4M812.3,370.1v4.4M815.9,371h4.4M818.1,368.8v4.4M827.3,371.7h4.4M829.5,369.5v4.4M808.1,374.9h4.4M810.3,372.7v4.4M814.4,369.8h4.4M816.6,367.6v4.4M814.6,372.1h4.4M816.8,369.9v4.4M815.4,370.6h4.4M817.6,368.4v4.4M814.5,372.5h4.4M816.7,370.3v4.4M820.1,371.5h4.4M822.3,369.3v4.4M821.5,369.7h4.4M823.7,367.5v4.4M812.1,371.8h4.4M814.3,369.6v4.4M824.2,370.8h4.4M826.4,368.6v4.4M812.1,373.4h4.4M814.3,371.2v4.4M810.8,375h4.4M813,372.8v4.4M811.5,372.6h4.4M813.7,370.4v4.4M813.4,372.6h4.4M815.6,370.4v4.4M811.3,371.1h4.4M813.5,368.9v4.4M818.8,371.8h4.4M821,369.6v4.4M817.2,369.8h4.4M819.4,367.6v4.4M831.1,363.5h4.4M833.3,361.3v4.4M808.9,374.9h4.4M811.1,372.7v4.4M809.6,374.4h4.4M811.8,372.2v4.4M817.7,372h4.4M819.9,369.8v4.4M811.1,374.1h4.4M813.3,371.9v4.4M819.9,367.1h4.4M822.1,364.9v4.4M817.6,365.5h4.4M819.8,363.3v4.4M814.9,369.7h4.4M817.1,367.5v4.4M810.9,372h4.4M813.1,369.8v4.4M813.2,372.1h4.4M815.4,369.9v4.4M812.8,371.3h4.4M815,369.1v4.4M810.3,373.4h4.4M812.5,371.2v4.4M823.5,365.5h4.4M825.7,363.3v4.4M810.3,374.9h4.4M812.5,372.7v4.4M815.7,369.8h4.4M817.9,367.6v4.4M808.1,374.8h4.4M810.3,372.6v4.4M813.6,372.8h4.4M815.8,370.6v4.4M809.8,372.7h4.4M812,370.5v4.4M808.3,374h4.4M810.5,371.8v4.4M814,371.4h4.4M816.2,369.2v4.4M844.9,348h4.4M847.1,345.8v4.4M812.5,374.3h4.4M814.7,372.1v4.4M810.9,373.2h4.4M813.1,371v4.4M813,373.7h4.4M815.2,371.5v4.4M813.6,370.4h4.4M815.8,368.2v4.4M816.8,369.1h4.4M819,366.9v4.4M809.3,374.5h4.4M811.5,372.3v4.4M811.1,371.8h4.4M813.3,369.6v4.4M812.4,370.9h4.4M814.6,368.7v4.4M809.7,372.8h4.4M811.9,370.6v4.4M809.1,375.4h4.4M811.3,373.2v4.4M820.1,363.4h4.4M822.3,361.2v4.4M808.6,375h4.4M810.8,372.8v4.4M824.1,370.2h4.4M826.3,368v4.4M812.2,373.8h4.4M814.4,371.6v4.4M816.8,373.1h4.4M819,370.9v4.4M810,371.9h4.4M812.2,369.7v4.4M814.3,372.8h4.4M816.5,370.6v4.4M814.9,369.6h4.4M817.1,367.4v4.4M809.8,374.3h4.4M812,372.1v4.4M809.2,374h4.4M811.4,371.8v4.4M809.5,372.5h4.4M811.7,370.3v4.4M808.1,373.8h4.4M810.3,371.6v4.4M808.6,375.4h4.4M810.8,373.2v4.4M817.3,375.1h4.4M819.5,372.9v4.4M815.2,371.1h4.4M817.4,368.9v4.4M811,375.2h4.4M813.2,373v4.4M811.2,369.8h4.4M813.4,367.6v4.4M818,373.5h4.4M820.2,371.3v4.4M811.6,372.4h4.4M813.8,370.2v4.4M816.6,374.7h4.4M818.8,372.5v4.4M811,373.3h4.4M813.2,371.1v4.4M826.3,361.1h4.4M828.5,358.9v4.4M808.2,373.1h4.4M810.4,370.9v4.4M818.8,370.5h4.4M821,368.3v4.4M830.9,369.1h4.4M833.1,366.9v4.4M811.6,369.4h4.4M813.8,367.2v4.4M809.4,373.6h4.4M811.6,371.4v4.4M810,373h4.4M812.2,370.8v4.4M814.1,372.8h4.4M816.3,370.6v4.4M808.6,374.7h4.4M810.8,372.5v4.4M831.7,355.3h4.4M833.9,353.1v4.4M816,369.4h4.4M818.2,367.2v4.4M820.2,372.2h4.4M822.4,370v4.4M815.6,371.4h4.4M817.8,369.2v4.4M815.4,371.4h4.4M817.6,369.2v4.4M815.2,371.3h4.4M817.4,369.1v4.4M810.1,372.6h4.4M812.3,370.4v4.4M810.4,374h4.4M812.6,371.8v4.4M811.4,374.2h4.4M813.6,372v4.4M815.5,372.8h4.4M817.7,370.6v4.4M808.8,374.6h4.4M811,372.4v4.4M809,374.5h4.4M811.2,372.3v4.4M808.6,371.9h4.4M810.8,369.7v4.4M821.3,373.3h4.4M823.5,371.1v4.4M821.6,370h4.4M823.8,367.8v4.4M817,372.8h4.4M819.2,370.6v4.4M811.1,374.9h4.4M813.3,372.7v4.4M815.2,371.3h4.4M817.4,369.1v4.4M809.9,373.1h4.4M812.1,370.9v4.4M827.8,361.7h4.4M830,359.5v4.4M809.8,374h4.4M812,371.8v4.4M812,372.1h4.4M814.2,369.9v4.4M811.6,373.1h4.4M813.8,370.9v4.4M825.4,369.2h4.4M827.6,367v4.4M815.6,374.5h4.4M817.8,372.3v4.4M814.4,373.7h4.4M816.6,371.5v4.4M810,374h4.4M812.2,371.8v4.4M814,373.6h4.4M816.2,371.4v4.4M822.9,362.3h4.4M825.1,360.1v4.4M808.2,373.4h4.4M810.4,371.2v4.4M819.2,365.5h4.4M821.4,363.3v4.4M814.1,369.1h4.4M816.3,366.9v4.4M809.5,373.7h4.4M811.7,371.5v4.4M815.7,373.6h4.4M817.9,371.4v4.4M819,374.1h4.4M821.2,371.9v4.4M809.4,372.7h4.4M811.6,370.5v4.4M809.9,374.4h4.4M812.1,372.2v4.4M809.8,373.8h4.4M812,371.6v4.4M811.8,374.2h4.4M814,372v4.4M809.4,374.5h4.4M811.6,372.3v4.4M830.3,361.7h4.4M832.5,359.5v4.4M831,366.4h4.4M833.2,364.2v4.4M814.3,371.2h4.4M816.5,369v4.4M813.3,371.3h4.4M815.5,369.1v4.4M809.9,370.8h4.4M812.1,368.6v4.4M809.2,374.3h4.4M811.4,372.1v4.4M810.1,374.8h4.4M812.3,372.6v4.4M818.7,366.2h4.4M820.9,364v4.4M813.6,373.8h4.4M815.8,371.6v4.4M809.9,373.7h4.4M812.1,371.5v4.4M816.4,367.6h4.4M818.6,365.4v4.4M813.7,373.5h4.4M815.9,371.3v4.4M810,374.9h4.4M812.2,372.7v4.4M816.8,372.8h4.4M819,370.6v4.4M823.8,372.5h4.4M826,370.3v4.4M809.8,372.9h4.4M812,370.7v4.4M810.6,373.6h4.4M812.8,371.4v4.4M808.4,375.2h4.4M810.6,373v4.4M812.9,372.3h4.4M815.1,370.1v4.4M808.9,374.2h4.4M811.1,372v4.4M809.8,374.6h4.4M812,372.4v4.4M812.1,372.9h4.4M814.3,370.7v4.4M808.4,375.3h4.4M810.6,373.1v4.4M817.5,367h4.4M819.7,364.8v4.4M830.5,369.6h4.4M832.7,367.4v4.4M813.2,374.1h4.4M815.4,371.9v4.4M810,374.6h4.4M812.2,372.4v4.4M829.3,362.9h4.4M831.5,360.7v4.4M809,374.6h4.4M811.2,372.4v4.4M810,374.1h4.4M812.2,371.9v4.4M809.5,375.2h4.4M811.7,373v4.4M817.8,372.3h4.4M820,370.1v4.4M811.2,373.9h4.4M813.4,371.7v4.4M824.3,372.5h4.4M826.5,370.3v4.4M825.1,364.4h4.4M827.3,362.2v4.4M810.1,372.6h4.4M812.3,370.4v4.4M811,373.6h4.4M813.2,371.4v4.4M821.9,366.1h4.4M824.1,363.9v4.4M821.9,370h4.4M824.1,367.8v4.4M808.3,375h4.4M810.5,372.8v4.4M814.9,372.7h4.4M817.1,370.5v4.4M820,368.4h4.4M822.2,366.2v4.4M809.7,374.5h4.4M811.9,372.3v4.4M814.1,372.1h4.4M816.3,369.9v4.4M819.7,373.7h4.4M821.9,371.5v4.4M811.3,372.6h4.4M813.5,370.4v4.4M817,373.3h4.4M819.2,371.1v4.4M829.3,360.2h4.4M831.5,358v4.4M808.3,374.7h4.4M810.5,372.5v4.4M826.3,367.5h4.4M828.5,365.3v4.4M814.3,372.9h4.4M816.5,370.7v4.4M808.8,375.2h4.4M811,373v4.4M810.1,374.4h4.4M812.3,372.2v4.4M814,372.3h4.4M816.2,370.1v4.4M820.4,363.8h4.4M822.6,361.6v4.4M820.9,371.7h4.4M823.1,369.5v4.4M809.3,374.2h4.4M811.5,372v4.4M809.5,374.4h4.4M811.7,372.2v4.4M809.4,374.8h4.4M811.6,372.6v4.4M816,374.1h4.4M818.2,371.9v4.4M820.9,368.1h4.4M823.1,365.9v4.4M811.9,371.5h4.4M814.1,369.3v4.4M809.2,374.1h4.4M811.4,371.9v4.4M810.9,371.9h4.4M813.1,369.7v4.4M808.3,373h4.4M810.5,370.8v4.4M811,373.9h4.4M813.2,371.7v4.4M811.4,372.8h4.4M813.6,370.6v4.4M811.1,372.3h4.4M813.3,370.1v4.4M809.2,372.2h4.4M811.4,370v4.4M813.5,371.3h4.4M815.7,369.1v4.4M814.2,371.5h4.4M816.4,369.3v4.4M808.9,371.7h4.4M811.1,369.5v4.4M811.1,368.4h4.4M813.3,366.2v4.4M816.4,370.7h4.4M818.6,368.5v4.4M808.5,373.5h4.4M810.7,371.3v4.4M813.9,372.9h4.4M816.1,370.7v4.4M827.5,361.5h4.4M829.7,359.3v4.4M811.4,371.6h4.4M813.6,369.4v4.4M811.7,370.6h4.4M813.9,368.4v4.4M829.1,364.5h4.4M831.3,362.3v4.4M818.6,367.8h4.4M820.8,365.6v4.4M810.2,374h4.4M812.4,371.8v4.4M826.1,363.2h4.4M828.3,361v4.4M818.2,371.3h4.4M820.4,369.1v4.4M816.9,372.9h4.4M819.1,370.7v4.4M816.7,369.8h4.4M818.9,367.6v4.4M827.5,366.9h4.4M829.7,364.7v4.4M811.6,374.2h4.4M813.8,372v4.4M838.1,353.4h4.4M840.3,351.2v4.4M810,375h4.4M812.2,372.8v4.4M812.3,371.4h4.4M814.5,369.2v4.4M809.5,374.2h4.4M811.7,372v4.4M810.9,374.6h4.4M813.1,372.4v4.4M824.6,370.6h4.4M826.8,368.4v4.4M814.8,369.6h4.4M817,367.4v4.4M819.2,365.6h4.4M821.4,363.4v4.4M830.2,361.5h4.4M832.4,359.3v4.4M812.4,371.8h4.4M814.6,369.6v4.4M814.1,369.8h4.4M816.3,367.6v4.4M809.1,374.5h4.4M811.3,372.3v4.4M808.3,374.5h4.4M810.5,372.3v4.4M828.1,363.4h4.4M830.3,361.2v4.4M811.1,372.3h4.4M813.3,370.1v4.4M812.9,372.2h4.4M815.1,370v4.4M840.8,355.2h4.4M843,353v4.4M813.8,373.2h4.4M816,371v4.4M808.8,375.1h4.4M811,372.9v4.4M820.1,364.4h4.4M822.3,362.2v4.4M828.8,359.3h4.4M831,357.1v4.4M811.1,372.7h4.4M813.3,370.5v4.4M809.3,374.2h4.4M811.5,372v4.4M808.2,375.1h4.4M810.4,372.9v4.4M819.8,371.9h4.4M822,369.7v4.4M817.9,373.6h4.4M820.1,371.4v4.4M825.5,360.7h4.4M827.7,358.5v4.4M808.7,372.2h4.4M810.9,370v4.4M810,373.7h4.4M812.2,371.5v4.4M811.9,374h4.4M814.1,371.8v4.4M808.5,373.8h4.4M810.7,371.6v4.4M812.9,374.2h4.4M815.1,372v4.4M823.8,359.4h4.4M826,357.2v4.4M810.9,373h4.4M813.1,370.8v4.4M811.9,373.5h4.4M814.1,371.3v4.4M815.6,369.5h4.4M817.8,367.3v4.4M812.4,372.5h4.4M814.6,370.3v4.4M813.9,370.5h4.4M816.1,368.3v4.4M814,371.3h4.4M816.2,369.1v4.4M810.3,372.2h4.4M812.5,370v4.4M816.6,368.9h4.4M818.8,366.7v4.4M846,367.6h4.4M848.2,365.4v4.4M831.6,362.9h4.4M833.8,360.7v4.4M812.6,373.8h4.4M814.8,371.6v4.4M810.3,374.2h4.4M812.5,372v4.4M813.2,373.7h4.4M815.4,371.5v4.4M810,372.9h4.4M812.2,370.7v4.4M812.5,372.2h4.4M814.7,370v4.4M811.1,371.5h4.4M813.3,369.3v4.4M815.3,372.2h4.4M817.5,370v4.4M811.1,371.7h4.4M813.3,369.5v4.4M819.1,368.3h4.4M821.3,366.1v4.4M812.6,371.5h4.4M814.8,369.3v4.4M820.9,365h4.4M823.1,362.8v4.4M821,368.3h4.4M823.2,366.1v4.4M809,375.1h4.4M811.2,372.9v4.4M811.2,373.6h4.4M813.4,371.4v4.4M808.2,373.3h4.4M810.4,371.1v4.4M824.3,371.8h4.4M826.5,369.6v4.4M810.8,373.8h4.4M813,371.6v4.4M810.6,374.6h4.4M812.8,372.4v4.4M818.8,366.8h4.4M821,364.6v4.4M818.3,367.3h4.4M820.5,365.1v4.4M812,372h4.4M814.2,369.8v4.4M812.9,373.9h4.4M815.1,371.7v4.4M812.9,372h4.4M815.1,369.8v4.4M810.4,374h4.4M812.6,371.8v4.4M813.2,373.1h4.4M815.4,370.9v4.4M811.6,374.4h4.4M813.8,372.2v4.4M809.9,372.8h4.4M812.1,370.6v4.4M815.7,369.6h4.4M817.9,367.4v4.4M816.1,371.2h4.4M818.3,369v4.4M812.9,371.8h4.4M815.1,369.6v4.4M809.1,373.6h4.4M811.3,371.4v4.4M813.8,373.3h4.4M816,371.1v4.4M811.2,374.6h4.4M813.4,372.4v4.4M814.5,374.5h4.4M816.7,372.3v4.4M820,371.6h4.4M822.2,369.4v4.4M821.5,370.9h4.4M823.7,368.7v4.4M808.6,375h4.4M810.8,372.8v4.4M810.3,373.4h4.4M812.5,371.2v4.4M825.7,358.3h4.4M827.9,356.1v4.4M813.5,370.7h4.4M815.7,368.5v4.4M818.5,372.3h4.4M820.7,370.1v4.4M816.1,370.6h4.4M818.3,368.4v4.4M812.9,371.9h4.4M815.1,369.7v4.4M811.1,374.5h4.4M813.3,372.3v4.4M813.1,372.8h4.4M815.3,370.6v4.4M809.6,373.7h4.4M811.8,371.5v4.4M811.3,373.6h4.4M813.5,371.4v4.4M814.7,372.2h4.4M816.9,370v4.4M815.8,369.2h4.4M818,367v4.4M812.9,372.7h4.4M815.1,370.5v4.4M809.5,372.9h4.4M811.7,370.7v4.4M808.2,375.2h4.4M810.4,373v4.4M818.4,369.6h4.4M820.6,367.4v4.4M811.2,374.2h4.4M813.4,372v4.4M813.5,370.2h4.4M815.7,368v4.4M810.1,374.4h4.4M812.3,372.2v4.4M811.2,372.7h4.4M813.4,370.5v4.4M810.8,375h4.4M813,372.8v4.4M808.4,372.2h4.4M810.6,370v4.4M812.9,373.6h4.4M815.1,371.4v4.4M809.4,374h4.4M811.6,371.8v4.4M812.3,373.5h4.4M814.5,371.3v4.4M811.2,371.3h4.4M813.4,369.1v4.4M820.6,367.4h4.4M822.8,365.2v4.4M809.6,373.6h4.4M811.8,371.4v4.4M810.9,374.4h4.4M813.1,372.2v4.4M813.4,370.5h4.4M815.6,368.3v4.4M811.7,374.1h4.4M813.9,371.9v4.4M812,372.3h4.4M814.2,370.1v4.4M811.5,373h4.4M813.7,370.8v4.4M812,372.2h4.4M814.2,370v4.4M809.9,371.3h4.4M812.1,369.1v4.4M810.5,373.3h4.4M812.7,371.1v4.4M810.5,374.4h4.4M812.7,372.2v4.4M809.8,374.1h4.4M812,371.9v4.4M810.1,374.1h4.4M812.3,371.9v4.4M827.6,360.2h4.4M829.8,358v4.4M816.7,371h4.4M818.9,368.8v4.4M814,372.4h4.4M816.2,370.2v4.4M812.7,373h4.4M814.9,370.8v4.4M811.3,371.5h4.4M813.5,369.3v4.4M839.3,348.3h4.4M841.5,346.1v4.4M819.3,368.2h4.4M821.5,366v4.4M812.3,371.9h4.4M814.5,369.7v4.4M808.4,374.9h4.4M810.6,372.7v4.4M816.1,369.3h4.4M818.3,367.1v4.4M809.5,374.2h4.4M811.7,372v4.4M817.3,371.7h4.4M819.5,369.5v4.4M818.6,368.4h4.4M820.8,366.2v4.4M820.7,365.5h4.4M822.9,363.3v4.4M810.9,373.2h4.4M813.1,371v4.4M810.8,372.7h4.4M813,370.5v4.4M808.2,375.4h4.4M810.4,373.2v4.4M808.8,374.7h4.4M811,372.5v4.4M831.8,368.3h4.4M834,366.1v4.4M813.5,371.4h4.4M815.7,369.2v4.4M813.8,370.3h4.4M816,368.1v4.4M813.7,372.8h4.4M815.9,370.6v4.4M816.4,371.7h4.4M818.6,369.5v4.4M817.7,372.7h4.4M819.9,370.5v4.4M815.9,367.6h4.4M818.1,365.4v4.4M812.1,371.9h4.4M814.3,369.7v4.4M808.6,372h4.4M810.8,369.8v4.4M811.7,372.6h4.4M813.9,370.4v4.4M812.7,372.8h4.4M814.9,370.6v4.4M846.4,350.8h4.4M848.6,348.6v4.4M816.2,367.5h4.4M818.4,365.3v4.4M814.6,374h4.4M816.8,371.8v4.4M808.8,374.1h4.4M811,371.9v4.4M821.9,371.9h4.4M824.1,369.7v4.4M819.9,367.2h4.4M822.1,365v4.4M810.8,373.4h4.4M813,371.2v4.4M840.9,369.9h4.4M843.1,367.7v4.4M814.7,369.7h4.4M816.9,367.5v4.4M808.2,375.4h4.4M810.4,373.2v4.4M815.2,372.7h4.4M817.4,370.5v4.4M810.8,374.3h4.4M813,372.1v4.4M813,371h4.4M815.2,368.8v4.4M808.2,375.3h4.4M810.4,373.1v4.4M810.8,373.8h4.4M813,371.6v4.4M809,372.9h4.4M811.2,370.7v4.4M809.7,372.4h4.4M811.9,370.2v4.4M814.9,367.5h4.4M817.1,365.3v4.4M810.6,374.3h4.4M812.8,372.1v4.4M810.1,374.7h4.4M812.3,372.5v4.4M816.2,371.9h4.4M818.4,369.7v4.4M808.8,375.1h4.4M811,372.9v4.4M808.9,373.6h4.4M811.1,371.4v4.4M808.7,374.8h4.4M810.9,372.6v4.4M810,373.3h4.4M812.2,371.1v4.4M809,374.8h4.4M811.2,372.6v4.4M810.8,374.3h4.4M813,372.1v4.4M825.3,364.5h4.4M827.5,362.3v4.4M812.8,371.7h4.4M815,369.5v4.4M823.1,368.5h4.4M825.3,366.3v4.4M815.4,371.7h4.4M817.6,369.5v4.4M824.5,362h4.4M826.7,359.8v4.4M825.2,365.4h4.4M827.4,363.2v4.4M820.8,365.2h4.4M823,363v4.4M817,372.8h4.4M819.2,370.6v4.4M813.9,371.2h4.4M816.1,369v4.4M808.6,374.7h4.4M810.8,372.5v4.4M811,374.1h4.4M813.2,371.9v4.4M810.7,373.7h4.4M812.9,371.5v4.4M811,372.6h4.4M813.2,370.4v4.4M813.3,370.1h4.4M815.5,367.9v4.4M811.3,374.3h4.4M813.5,372.1v4.4M808.4,375h4.4M810.6,372.8v4.4M812.1,373.1h4.4M814.3,370.9v4.4M816.6,372.5h4.4M818.8,370.3v4.4M813.7,373.5h4.4M815.9,371.3v4.4M808.8,373.6h4.4M811,371.4v4.4M816.7,372.3h4.4M818.9,370.1v4.4M811,373.7h4.4M813.2,371.5v4.4M837.2,369.6h4.4M839.4,367.4v4.4M818,372.2h4.4M820.2,370v4.4M812.6,374.8h4.4M814.8,372.6v4.4M810.1,373.1h4.4M812.3,370.9v4.4M815.6,373.7h4.4M817.8,371.5v4.4M810.6,373.5h4.4M812.8,371.3v4.4M809.4,373h4.4M811.6,370.8v4.4M826.9,371.3h4.4M829.1,369.1v4.4M828.3,362.8h4.4M830.5,360.6v4.4M808.3,375.3h4.4M810.5,373.1v4.4M811.2,374h4.4M813.4,371.8v4.4M810.6,372h4.4M812.8,369.8v4.4M818.7,367.1h4.4M820.9,364.9v4.4M814.4,374h4.4M816.6,371.8v4.4M820.2,371.3h4.4M822.4,369.1v4.4M811.8,373.3h4.4M814,371.1v4.4M818.8,372.1h4.4M821,369.9v4.4M826.3,363.2h4.4M828.5,361v4.4M808.9,374.8h4.4M811.1,372.6v4.4M829.6,372.2h4.4M831.8,370v4.4M811.7,372.4h4.4M813.9,370.2v4.4M808.7,373.7h4.4M810.9,371.5v4.4M814.4,373.4h4.4M816.6,371.2v4.4M810.3,375.1h4.4M812.5,372.9v4.4M843.6,370.4h4.4M845.8,368.2v4.4M811.7,373.7h4.4M813.9,371.5v4.4M809.2,374.1h4.4M811.4,371.9v4.4M810.2,372.7h4.4M812.4,370.5v4.4M812.9,372.7h4.4M815.1,370.5v4.4M811.8,373.9h4.4M814,371.7v4.4M816.9,370.2h4.4M819.1,368v4.4M814.2,374.2h4.4M816.4,372v4.4M809.7,373.7h4.4M811.9,371.5v4.4M813,372.6h4.4M815.2,370.4v4.4M812.7,371h4.4M814.9,368.8v4.4M811.9,372.9h4.4M814.1,370.7v4.4M832.2,359.8h4.4M834.4,357.6v4.4M809.9,375.3h4.4M812.1,373.1v4.4M823.2,372.7h4.4M825.4,370.5v4.4M809.9,373h4.4M812.1,370.8v4.4M812.3,369.8h4.4M814.5,367.6v4.4M814.6,371.6h4.4M816.8,369.4v4.4M816.9,373.1h4.4M819.1,370.9v4.4M812,372.6h4.4M814.2,370.4v4.4M811.7,373.1h4.4M813.9,370.9v4.4M813.7,373.8h4.4M815.9,371.6v4.4M810.1,371.7h4.4M812.3,369.5v4.4M809.3,374.5h4.4M811.5,372.3v4.4M817.7,368.9h4.4M819.9,366.7v4.4M811.8,370.6h4.4M814,368.4v4.4M811.1,373.5h4.4M813.3,371.3v4.4M810.9,372.1h4.4M813.1,369.9v4.4M808.6,375h4.4M810.8,372.8v4.4M810,373.1h4.4M812.2,370.9v4.4M816.2,373h4.4M818.4,370.8v4.4M811.9,374.8h4.4M814.1,372.6v4.4M835.2,360.5h4.4M837.4,358.3v4.4M822.9,364.3h4.4M825.1,362.1v4.4M815.1,366.2h4.4M817.3,364v4.4M808.4,372.5h4.4M810.6,370.3v4.4M810,375h4.4M812.2,372.8v4.4M822.1,371.2h4.4M824.3,369v4.4M813.5,370.2h4.4M815.7,368v4.4M808.2,375.3h4.4M810.4,373.1v4.4M810.5,371.7h4.4M812.7,369.5v4.4M811.6,374.3h4.4M813.8,372.1v4.4M811.6,374.4h4.4M813.8,372.2v4.4M819,373.2h4.4M821.2,371v4.4M808.9,375.1h4.4M811.1,372.9v4.4M816.4,367.1h4.4M818.6,364.9v4.4M811.2,373.2h4.4M813.4,371v4.4M810.9,374.4h4.4M813.1,372.2v4.4M816.1,373.1h4.4M818.3,370.9v4.4M810.3,374.3h4.4M812.5,372.1v4.4M819.3,369.7h4.4M821.5,367.5v4.4M808.7,374.1h4.4M810.9,371.9v4.4M826.1,365.4h4.4M828.3,363.2v4.4M809.2,374.4h4.4M811.4,372.2v4.4M810.3,372.8h4.4M812.5,370.6v4.4M811.2,371.4h4.4M813.4,369.2v4.4M808.1,374.1h4.4M810.3,371.9v4.4M819.8,372.1h4.4M822,369.9v4.4M808.6,375h4.4M810.8,372.8v4.4M824.3,366h4.4M826.5,363.8v4.4M829.2,356.5h4.4M831.4,354.3v4.4M809,375h4.4M811.2,372.8v4.4M809.8,374.7h4.4M812,372.5v4.4M815.7,369.7h4.4M817.9,367.5v4.4M816.6,370.2h4.4M818.8,368v4.4M814.6,373.1h4.4M816.8,370.9v4.4M812.6,374.7h4.4M814.8,372.5v4.4M808.1,373.5h4.4M810.3,371.3v4.4M810.9,370.4h4.4M813.1,368.2v4.4M826.7,364.5h4.4M828.9,362.3v4.4M813.7,372.7h4.4M815.9,370.5v4.4M810.1,373.5h4.4M812.3,371.3v4.4M809.9,373.8h4.4M812.1,371.6v4.4M816.2,368.4h4.4M818.4,366.2v4.4M812.2,368.1h4.4M814.4,365.9v4.4M816.9,368.1h4.4M819.1,365.9v4.4M809.6,373.8h4.4M811.8,371.6v4.4M809.5,374.4h4.4M811.7,372.2v4.4M810.1,372.5h4.4M812.3,370.3v4.4M811.2,371.1h4.4M813.4,368.9v4.4M809.7,374.4h4.4M811.9,372.2v4.4M837,365.4h4.4M839.2,363.2v4.4M816.2,370.2h4.4M818.4,368v4.4M812.2,371.6h4.4M814.4,369.4v4.4M817.7,371.8h4.4M819.9,369.6v4.4M809.5,374.4h4.4M811.7,372.2v4.4M810.8,373.8h4.4M813,371.6v4.4M823,360.4h4.4M825.2,358.2v4.4M808.6,372.6h4.4M810.8,370.4v4.4M815.6,371.6h4.4M817.8,369.4v4.4M809.6,374.4h4.4M811.8,372.2v4.4M810,374.5h4.4M812.2,372.3v4.4M814.5,370.8h4.4M816.7,368.6v4.4M839.6,362h4.4M841.8,359.8v4.4M810.6,374.3h4.4M812.8,372.1v4.4M811,375.3h4.4M813.2,373.1v4.4M811.7,373.5h4.4M813.9,371.3v4.4M809,372.8h4.4M811.2,370.6v4.4M809,373.4h4.4M811.2,371.2v4.4M825.8,363h4.4M828,360.8v4.4M812.7,373h4.4M814.9,370.8v4.4M817.3,367.7h4.4M819.5,365.5v4.4M813.8,371h4.4M816,368.8v4.4M809,375.2h4.4M811.2,373v4.4M816.7,367.7h4.4M818.9,365.5v4.4M810.2,374.9h4.4M812.4,372.7v4.4M810.2,373.6h4.4M812.4,371.4v4.4M824.3,367.8h4.4M826.5,365.6v4.4M808.1,375.3h4.4M810.3,373.1v4.4M808.2,375.1h4.4M810.4,372.9v4.4M808.1,375h4.4M810.3,372.8v4.4M810.7,375.4h4.4M812.9,373.2v4.4M809.9,374.9h4.4M812.1,372.7v4.4M810.7,373.8h4.4M812.9,371.6v4.4M808.6,375.4h4.4M810.8,373.2v4.4M818,370.1h4.4M820.2,367.9v4.4M820.2,368.3h4.4M822.4,366.1v4.4M809.9,373.3h4.4M812.1,371.1v4.4M814.9,372.5h4.4M817.1,370.3v4.4M809.4,372.5h4.4M811.6,370.3v4.4M815.3,374.6h4.4M817.5,372.4v4.4M808.8,374.6h4.4M811,372.4v4.4M814.1,370.5h4.4M816.3,368.3v4.4M837.8,356.8h4.4M840,354.6v4.4M831.9,359.7h4.4M834.1,357.5v4.4M816.5,368h4.4M818.7,365.8v4.4M838.5,366.4h4.4M840.7,364.2v4.4M811.1,375.2h4.4M813.3,373v4.4M812.6,374.1h4.4M814.8,371.9v4.4M813.2,367.4h4.4M815.4,365.2v4.4M810.3,373.3h4.4M812.5,371.1v4.4M808.1,374.9h4.4M810.3,372.7v4.4M830.9,367.1h4.4M833.1,364.9v4.4M808.3,374.3h4.4M810.5,372.1v4.4M810.4,373.8h4.4M812.6,371.6v4.4M834.8,369.1h4.4M837,366.9v4.4M818.7,372.5h4.4M820.9,370.3v4.4M823.1,365.5h4.4M825.3,363.3v4.4M809.3,371.9h4.4M811.5,369.7v4.4M816.8,372.6h4.4M819,370.4v4.4M808.4,374.7h4.4M810.6,372.5v4.4M812.4,372.8h4.4M814.6,370.6v4.4M827,356.4h4.4M829.2,354.2v4.4M810.1,370.2h4.4M812.3,368v4.4M822.9,367.5h4.4M825.1,365.3v4.4M809.5,374.2h4.4M811.7,372v4.4M817.5,370h4.4M819.7,367.8v4.4M808.4,375.3h4.4M810.6,373.1v4.4M813,373h4.4M815.2,370.8v4.4M820.1,363.3h4.4M822.3,361.1v4.4M831.5,358.6h4.4M833.7,356.4v4.4M809,373.2h4.4M811.2,371v4.4M808.2,373.3h4.4M810.4,371.1v4.4M808.9,374.9h4.4M811.1,372.7v4.4M814.4,372h4.4M816.6,369.8v4.4M815.2,370.2h4.4M817.4,368v4.4M814,369.2h4.4M816.2,367v4.4M815,372.1h4.4M817.2,369.9v4.4M808.2,374.7h4.4M810.4,372.5v4.4M814.8,373.2h4.4M817,371v4.4M817.9,367.3h4.4M820.1,365.1v4.4M826.9,372.8h4.4M829.1,370.6v4.4M812,371.7h4.4M814.2,369.5v4.4M814,372.1h4.4M816.2,369.9v4.4M813.6,372.2h4.4M815.8,370v4.4M808.1,374.8h4.4M810.3,372.6v4.4M825.8,373.7h4.4M828,371.5v4.4M808.3,375.2h4.4M810.5,373v4.4M824,367.8h4.4M826.2,365.6v4.4M815.1,369.8h4.4M817.3,367.6v4.4M816.3,372h4.4M818.5,369.8v4.4M813.9,373h4.4M816.1,370.8v4.4M815.3,369.2h4.4M817.5,367v4.4M836,361.3h4.4M838.2,359.1v4.4M816.5,371.4h4.4M818.7,369.2v4.4M809.3,370.8h4.4M811.5,368.6v4.4M810.2,375.3h4.4M812.4,373.1v4.4M816.3,371.7h4.4M818.5,369.5v4.4M816.1,374.1h4.4M818.3,371.9v4.4M816.5,371.6h4.4M818.7,369.4v4.4M808.4,374.4h4.4M810.6,372.2v4.4M817.2,371.2h4.4M819.4,369v4.4M810.1,372.8h4.4M812.3,370.6v4.4M812.6,370.6h4.4M814.8,368.4v4.4M813.3,371.9h4.4M815.5,369.7v4.4M826.8,358.9h4.4M829,356.7v4.4M811.1,372.2h4.4M813.3,370v4.4M808.5,374h4.4M810.7,371.8v4.4M811.4,371.9h4.4M813.6,369.7v4.4M875.8,360.9h4.4M878,358.7v4.4M873.5,361.7h4.4M875.7,359.5v4.4M862.1,357.1h4.4M864.3,354.9v4.4M860,354.6h4.4M862.2,352.4v4.4M857.1,360.5h4.4M859.3,358.3v4.4M857.5,363h4.4M859.7,360.8v4.4M856.6,365h4.4M858.8,362.8v4.4M851.6,361.7h4.4M853.8,359.5v4.4M848.2,353.8h4.4M850.4,351.6v4.4M846.9,349.6h4.4M849.1,347.4v4.4M845.2,348.8h4.4M847.4,346.6v4.4M843.5,348h4.4M845.7,345.8v4.4M841.9,348.8h4.4M844.1,346.6v4.4M841,350.5h4.4M843.2,348.3v4.4M838.5,349.6h4.4M840.7,347.4v4.4M834.3,351.3h4.4M836.5,349.1v4.4M836,355.5h4.4M838.2,353.3v4.4M839.3,354.6h4.4M841.5,352.4v4.4M846.1,360.9h4.4M848.3,358.7v4.4M844.4,363h4.4M846.6,360.8v4.4M825.8,352.5h4.4M828,350.3v4.4M827.1,358h4.4M829.3,355.8v4.4" stroke="#000" stroke-width="0.9" fill="none"/></svg>
<path d="M810.3,375.4L915.8,271.3" stroke="#000" stroke-width="1.2"/>
<rect x="810.3" y="271.3" width="105.5" height="104.1" fill="none" stroke="#000" stroke-width="1"/>
<path d="M810.3,375.4v3.8M810.3,375.4h-3.8M814.5,375.4v2.2M810.3,371.3h-2.2M818.7,375.4v2.2M810.3,367.1h-2.2M823,375.4v2.2M810.3,363h-2.2M827.2,375.4v2.2M810.3,358.8h-2.2M831.4,375.4v3.8M810.3,354.6h-3.8M835.6,375.4v2.2M810.3,350.5h-2.2M839.8,375.4v2.2M810.3,346.3h-2.2M844.1,375.4v2.2M810.3,342.1h-2.2M848.3,375.4v2.2M810.3,338h-2.2M852.5,375.4v3.8M810.3,333.8h-3.8M856.7,375.4v2.2M810.3,329.6h-2.2M860.9,375.4v2.2M810.3,325.5h-2.2M865.2,375.4v2.2M810.3,321.3h-2.2M869.4,375.4v2.2M810.3,317.1h-2.2M873.6,375.4v3.8M810.3,313h-3.8M877.8,375.4v2.2M810.3,308.8h-2.2M882,375.4v2.2M810.3,304.6h-2.2M886.3,375.4v2.2M810.3,300.5h-2.2M890.5,375.4v2.2M810.3,296.3h-2.2M894.7,375.4v3.8M810.3,292.1h-3.8M898.9,375.4v2.2M810.3,288h-2.2M903.1,375.4v2.2M810.3,283.8h-2.2M907.4,375.4v2.2M810.3,279.6h-2.2M911.6,375.4v2.2M810.3,275.5h-2.2M915.8,375.4v3.8M810.3,271.3h-3.8" stroke="#000" stroke-width="1" fill="none"/>
<text x="808.3" y="388.9" font-size="9.5" textLength="4.4" lengthAdjust="spacingAndGlyphs">0</text>
<text x="798.7" y="378.1" font-size="9.5" textLength="4.4" lengthAdjust="spacingAndGlyphs">0</text>
<text x="827.2" y="388.9" font-size="9.5" textLength="8.8" lengthAdjust="spacingAndGlyphs">50</text>
<text x="794.3" y="357.2" font-size="9.5" textLength="8.8" lengthAdjust="spacingAndGlyphs">50</text>
<text x="846.1" y="388.9" font-size="9.5" textLength="13.2" lengthAdjust="spacingAndGlyphs">100</text>
<text x="789.9" y="336.4" font-size="9.5" textLength="13.2" lengthAdjust="spacingAndGlyphs">100</text>
<text x="867.2" y="388.9" font-size="9.5" textLength="13.2" lengthAdjust="spacingAndGlyphs">150</text>
<text x="789.9" y="315.6" font-size="9.5" textLength="13.2" lengthAdjust="spacingAndGlyphs">150</text>
<text x="888.3" y="388.9" font-size="9.5" textLength="13.2" lengthAdjust="spacingAndGlyphs">200</text>
<text x="789.9" y="294.7" font-size="9.5" textLength="13.2" lengthAdjust="spacingAndGlyphs">200</text>
<text x="909.4" y="388.9" font-size="9.5" textLength="13.2" lengthAdjust="spacingAndGlyphs">250</text>
<text x="789.9" y="273.9" font-size="9.5" textLength="13.2" lengthAdjust="spacingAndGlyphs">250</text>
<text x="838" y="398.8" font-size="10" textLength="46.5" lengthAdjust="spacingAndGlyphs">ANALYSIS</text>
<text transform="translate(786.5,324) rotate(-90)" x="-30.5" y="0" font-size="10" textLength="61" lengthAdjust="spacingAndGlyphs">GSMAP_MVK</text>
<rect x="972.2" y="377.1" width="21.4" height="36.9" fill="#ffe9bd"/>
<rect x="972.2" y="340.6" width="21.4" height="36.9" fill="#d9ffc8"/>
<rect x="972.2" y="304.1" width="21.4" height="36.9" fill="#96ff96"/>
<rect x="972.2" y="267.6" width="21.4" height="36.9" fill="#64ffff"/>
<rect x="972.2" y="231.2" width="21.4" height="36.9" fill="#00c8ff"/>
<rect x="972.2" y="194.7" width="21.4" height="36.9" fill="#0064ff"/>
<rect x="972.2" y="158.2" width="21.4" height="36.9" fill="#9164ff"/>
<rect x="972.2" y="121.7" width="21.4" height="36.9" fill="#dc64ff"/>
<rect x="972.2" y="85.2" width="21.4" height="36.9" fill="#ff00ff"/>
<rect x="972.2" y="48.7" width="21.4" height="36.9" fill="#cd9b41"/>
<path d="M972.2,48.9L982.9,30.4L993.6,48.9Z" fill="#000"/>
<path d="M972.2,48.9V413.8H993.6V48.9" fill="none" stroke="#000" stroke-opacity="0.75" stroke-width="0.9"/>
<text x="1001.3" y="418" font-size="11">0</text>
<text x="1001.3" y="381.5" font-size="11">1</text>
<text x="1001.3" y="345" font-size="11">2</text>
<text x="1001.3" y="308.5" font-size="11">5</text>
<text x="1001.3" y="272" font-size="11">10</text>
<text x="1001.3" y="235.5" font-size="11">20</text>
<text x="1001.3" y="199.1" font-size="11">50</text>
<text x="1001.3" y="162.6" font-size="11">100</text>
<text x="1001.3" y="126.1" font-size="11">150</text>
<text x="1001.3" y="89.6" font-size="11">200</text>
<text x="1001.3" y="53.1" font-size="11">300</text>
<path d="M994.6,414.1h3.8M994.6,377.6h3.8M994.6,341.1h3.8M994.6,304.6h3.8M994.6,268.1h3.8M994.6,231.7h3.8M994.6,195.2h3.8M994.6,158.7h3.8M994.6,122.2h3.8M994.6,85.7h3.8M994.6,49.2h3.8" stroke="#000" stroke-width="0.9" fill="none"/>
<rect x="74.3" y="452.3" width="68.1" height="18" fill="#ffe9bd" stroke="#000" stroke-opacity="0.8" stroke-width="0.6"/>
<rect x="142.4" y="452.3" width="5.9" height="18" fill="#d9ffc8" stroke="#000" stroke-opacity="0.8" stroke-width="0.6"/>
<rect x="148.3" y="452.3" width="11.1" height="18" fill="#96ff96" stroke="#000" stroke-opacity="0.8" stroke-width="0.6"/>
<rect x="159.4" y="452.3" width="17.1" height="18" fill="#64ffff" stroke="#000" stroke-opacity="0.8" stroke-width="0.6"/>
<rect x="176.5" y="452.3" width="23.9" height="18" fill="#00c8ff" stroke="#000" stroke-opacity="0.8" stroke-width="0.6"/>
<rect x="200.4" y="452.3" width="5.9" height="18" fill="#0064ff" stroke="#000" stroke-opacity="0.8" stroke-width="0.6"/>
<rect x="206.3" y="452.3" width="0.8" height="18" fill="#9164ff" stroke="#000" stroke-opacity="0.8" stroke-width="0.6"/>
<rect x="207.1" y="452.3" width="0.5" height="18" fill="#dc64ff" stroke="#000" stroke-opacity="0.8" stroke-width="0.6"/>
<rect x="74.3" y="479.4" width="52" height="18" fill="#ffe9bd" stroke="#000" stroke-opacity="0.8" stroke-width="0.6"/>
<rect x="126.3" y="479.4" width="10" height="18" fill="#d9ffc8" stroke="#000" stroke-opacity="0.8" stroke-width="0.6"/>
<rect x="136.3" y="479.4" width="17" height="18" fill="#96ff96" stroke="#000" stroke-opacity="0.8" stroke-width="0.6"/>
<rect x="153.3" y="479.4" width="18.9" height="18" fill="#64ffff" stroke="#000" stroke-opacity="0.8" stroke-width="0.6"/>
<rect x="172.2" y="479.4" width="15.2" height="18" fill="#00c8ff" stroke="#000" stroke-opacity="0.8" stroke-width="0.6"/>
<rect x="187.4" y="479.4" width="15.2" height="18" fill="#0064ff" stroke="#000" stroke-opacity="0.8" stroke-width="0.6"/>
<rect x="202.6" y="479.4" width="3.7" height="18" fill="#9164ff" stroke="#000" stroke-opacity="0.8" stroke-width="0.6"/>
<rect x="206.3" y="479.4" width="1.3" height="18" fill="#dc64ff" stroke="#000" stroke-opacity="0.8" stroke-width="0.6"/>
<path d="M142.4,470.3L126.3,479.4M148.3,470.3L136.3,479.4M159.4,470.3L153.3,479.4M176.5,470.3L172.2,479.4M200.4,470.3L187.4,479.4M206.3,470.3L202.6,479.4M207.1,470.3L206.3,479.4M207.6,470.3L207.6,479.4" stroke="#000" stroke-width="0.7" fill="none"/>
<path d="M74.3,452.3V497.4" stroke="#000" stroke-width="0.8"/>
<text x="72.3" y="447.2" font-size="10" textLength="136.5" lengthAdjust="spacingAndGlyphs">Daily fraction by occurence</text>
<text x="47.3" y="465.8" font-size="10" textLength="15.2" lengthAdjust="spacingAndGlyphs">Est</text>
<text x="48" y="492.8" font-size="10" textLength="18.3" lengthAdjust="spacingAndGlyphs">Obs</text>
<text x="58.1" y="509.8" font-size="10" textLength="15.2" lengthAdjust="spacingAndGlyphs">0%</text>
<text x="102" y="509.8" font-size="10" textLength="67" lengthAdjust="spacingAndGlyphs">Areal fraction</text>
<text x="195.2" y="509.8" font-size="10" textLength="27.2" lengthAdjust="spacingAndGlyphs">100%</text>
<rect x="74.3" y="533.4" width="1" height="18" fill="#ffe9bd" stroke="#000" stroke-opacity="0.8" stroke-width="0.6"/>
<rect x="75.3" y="533.4" width="1.2" height="18" fill="#d9ffc8" stroke="#000" stroke-opacity="0.8" stroke-width="0.6"/>
<rect x="76.5" y="533.4" width="4.1" height="18" fill="#96ff96" stroke="#000" stroke-opacity="0.8" stroke-width="0.6"/>
<rect x="80.6" y="533.4" width="12.7" height="18" fill="#64ffff" stroke="#000" stroke-opacity="0.8" stroke-width="0.6"/>
<rect x="93.3" y="533.4" width="36" height="18" fill="#00c8ff" stroke="#000" stroke-opacity="0.8" stroke-width="0.6"/>
<rect x="129.3" y="533.4" width="19.2" height="18" fill="#0064ff" stroke="#000" stroke-opacity="0.8" stroke-width="0.6"/>
<rect x="148.5" y="533.4" width="3.9" height="18" fill="#9164ff" stroke="#000" stroke-opacity="0.8" stroke-width="0.6"/>
<rect x="74.3" y="560.5" width="1.2" height="18" fill="#ffe9bd" stroke="#000" stroke-opacity="0.8" stroke-width="0.6"/>
<rect x="75.5" y="560.5" width="1.4" height="18" fill="#d9ffc8" stroke="#000" stroke-opacity="0.8" stroke-width="0.6"/>
<rect x="76.9" y="560.5" width="6.8" height="18" fill="#96ff96" stroke="#000" stroke-opacity="0.8" stroke-width="0.6"/>
<rect x="83.7" y="560.5" width="13.7" height="18" fill="#64ffff" stroke="#000" stroke-opacity="0.8" stroke-width="0.6"/>
<rect x="97.4" y="560.5" width="23.7" height="18" fill="#00c8ff" stroke="#000" stroke-opacity="0.8" stroke-width="0.6"/>
<rect x="121.1" y="560.5" width="48.5" height="18" fill="#0064ff" stroke="#000" stroke-opacity="0.8" stroke-width="0.6"/>
<rect x="169.6" y="560.5" width="31.9" height="18" fill="#9164ff" stroke="#000" stroke-opacity="0.8" stroke-width="0.6"/>
<rect x="201.5" y="560.5" width="3.9" height="18" fill="#dc64ff" stroke="#000" stroke-opacity="0.8" stroke-width="0.6"/>
<rect x="205.4" y="560.5" width="2.2" height="18" fill="#ff00ff" stroke="#000" stroke-opacity="0.8" stroke-width="0.6"/>
<path d="M75.3,551.4L75.5,560.5M76.5,551.4L76.9,560.5M80.6,551.4L83.7,560.5M93.3,551.4L97.4,560.5M129.3,551.4L121.1,560.5M148.5,551.4L169.6,560.5M152.4,551.4L201.5,560.5" stroke="#000" stroke-width="0.7" fill="none"/>
<path d="M152.4,551.4L205.4,560.5M152.4,551L207.6,560.5" stroke="#000" stroke-width="0.8" fill="none"/>
<path d="M74.3,533.4V578.5" stroke="#000" stroke-width="0.8"/>
<text x="76.5" y="528.2" font-size="10" textLength="127.8" lengthAdjust="spacingAndGlyphs">Daily fraction of total rain</text>
<text x="47.3" y="546.9" font-size="10" textLength="15.2" lengthAdjust="spacingAndGlyphs">Est</text>
<text x="48" y="573.7" font-size="10" textLength="18.3" lengthAdjust="spacingAndGlyphs">Obs</text>
<text x="58.4" y="589.8" font-size="10" textLength="164.5" lengthAdjust="spacingAndGlyphs">Rainfall accumulation by amount</text>
<path d="M277.5,478.6H401.5V573.5H277.5ZM339.3,478.6V573.5M277.5,526.3H401.5" fill="none" stroke="#000" stroke-width="1.2"/>
<text x="307.8" y="455.3" font-size="10" textLength="61.8" lengthAdjust="spacingAndGlyphs">GSMAP_MVK</text>
<text x="308.3" y="470.2" font-size="10" text-anchor="middle">&lt;1</text>
<text x="369.9" y="470.2" font-size="10" text-anchor="middle">≥1</text>
<text x="260.5" y="506.2" font-size="10" text-anchor="middle">&lt;1</text>
<text x="260.3" y="553.3" font-size="10" text-anchor="middle">≥1</text>
<text transform="translate(245.8,520) rotate(-90)" x="-23.2" y="0" font-size="10" textLength="46.5" lengthAdjust="spacingAndGlyphs">ANALYSIS</text>
<text x="307.1" y="506.2" font-size="10" text-anchor="middle">1105</text>
<text x="369.9" y="506.2" font-size="10" text-anchor="middle">102</text>
<text x="307.8" y="553.3" font-size="10" text-anchor="middle">455</text>
<text x="370" y="553.3" font-size="10" text-anchor="middle">1395</text>
<text x="460.4" y="453.8" font-size="10" textLength="385.5" lengthAdjust="spacingAndGlyphs">Validation statistics for 20250611  n=3057 Valid. grid=0.25° Units=mm/day.</text>
<path d="M457.4,457.3H997M457.4,480.4H758" stroke="#000" stroke-width="0.9" stroke-dasharray="3.7,1.6" fill="none"/>
<text x="609.1" y="475.1" font-size="10" textLength="46.8" lengthAdjust="spacingAndGlyphs">ANALYSIS</text>
<text x="682.9" y="475.1" font-size="10" textLength="61.3" lengthAdjust="spacingAndGlyphs">GSMAP_MVK</text>
<text x="460.4" y="499.1" font-size="10">Num of gridpoints raining</text>
<text x="648.3" y="499.1" font-size="10" text-anchor="end">1850</text>
<text x="729.2" y="499.1" font-size="10" text-anchor="end">1497</text>
<text x="460.4" y="519" font-size="10">Average rain</text>
<text x="648.3" y="519" font-size="10" text-anchor="end">9.2</text>
<text x="729.2" y="519" font-size="10" text-anchor="end">5.4</text>
<text x="460.4" y="539.1" font-size="10">Conditional rain</text>
<text x="648.3" y="539.1" font-size="10" text-anchor="end">15.3</text>
<text x="729.2" y="539.1" font-size="10" text-anchor="end">11.1</text>
<text x="461.3" y="559" font-size="10">Rain volume (mm km<tspan font-size="7" dy="-3.6">2</tspan><tspan dy="3.6">10</tspan><tspan font-size="7" dy="-3.6">6</tspan><tspan dy="3.6">)</tspan></text>
<text x="648.3" y="558.7" font-size="10" text-anchor="end">17.8</text>
<text x="729.2" y="558.7" font-size="10" text-anchor="end">10.5</text>
<text x="460.4" y="578.2" font-size="10">Maximum rain</text>
<text x="648.3" y="578.2" font-size="10" text-anchor="end">160.5</text>
<text x="729.2" y="578.2" font-size="10" text-anchor="end">66.0</text>
<text x="784.3" y="471.8" font-size="10">Mean abs error =    5.5</text>
<text x="784.3" y="488.9" font-size="10">RMS error =   11.5</text>
<text x="784.3" y="505.9" font-size="10">Correlation coeff =  0.779</text>
<text x="784.3" y="523" font-size="10">Frequency bias =  0.809</text>
<text x="784.3" y="540" font-size="10">Probability of detection =  0.754</text>
<text x="784.3" y="557.1" font-size="10">False alarm ratio =  0.068</text>
<text x="784.3" y="574.2" font-size="10">Hanssen &amp; Kuipers score =  0.670</text>
<text x="784.3" y="591.2" font-size="10">Equitable threat score =  0.468</text>
</svg>
</body></html>
